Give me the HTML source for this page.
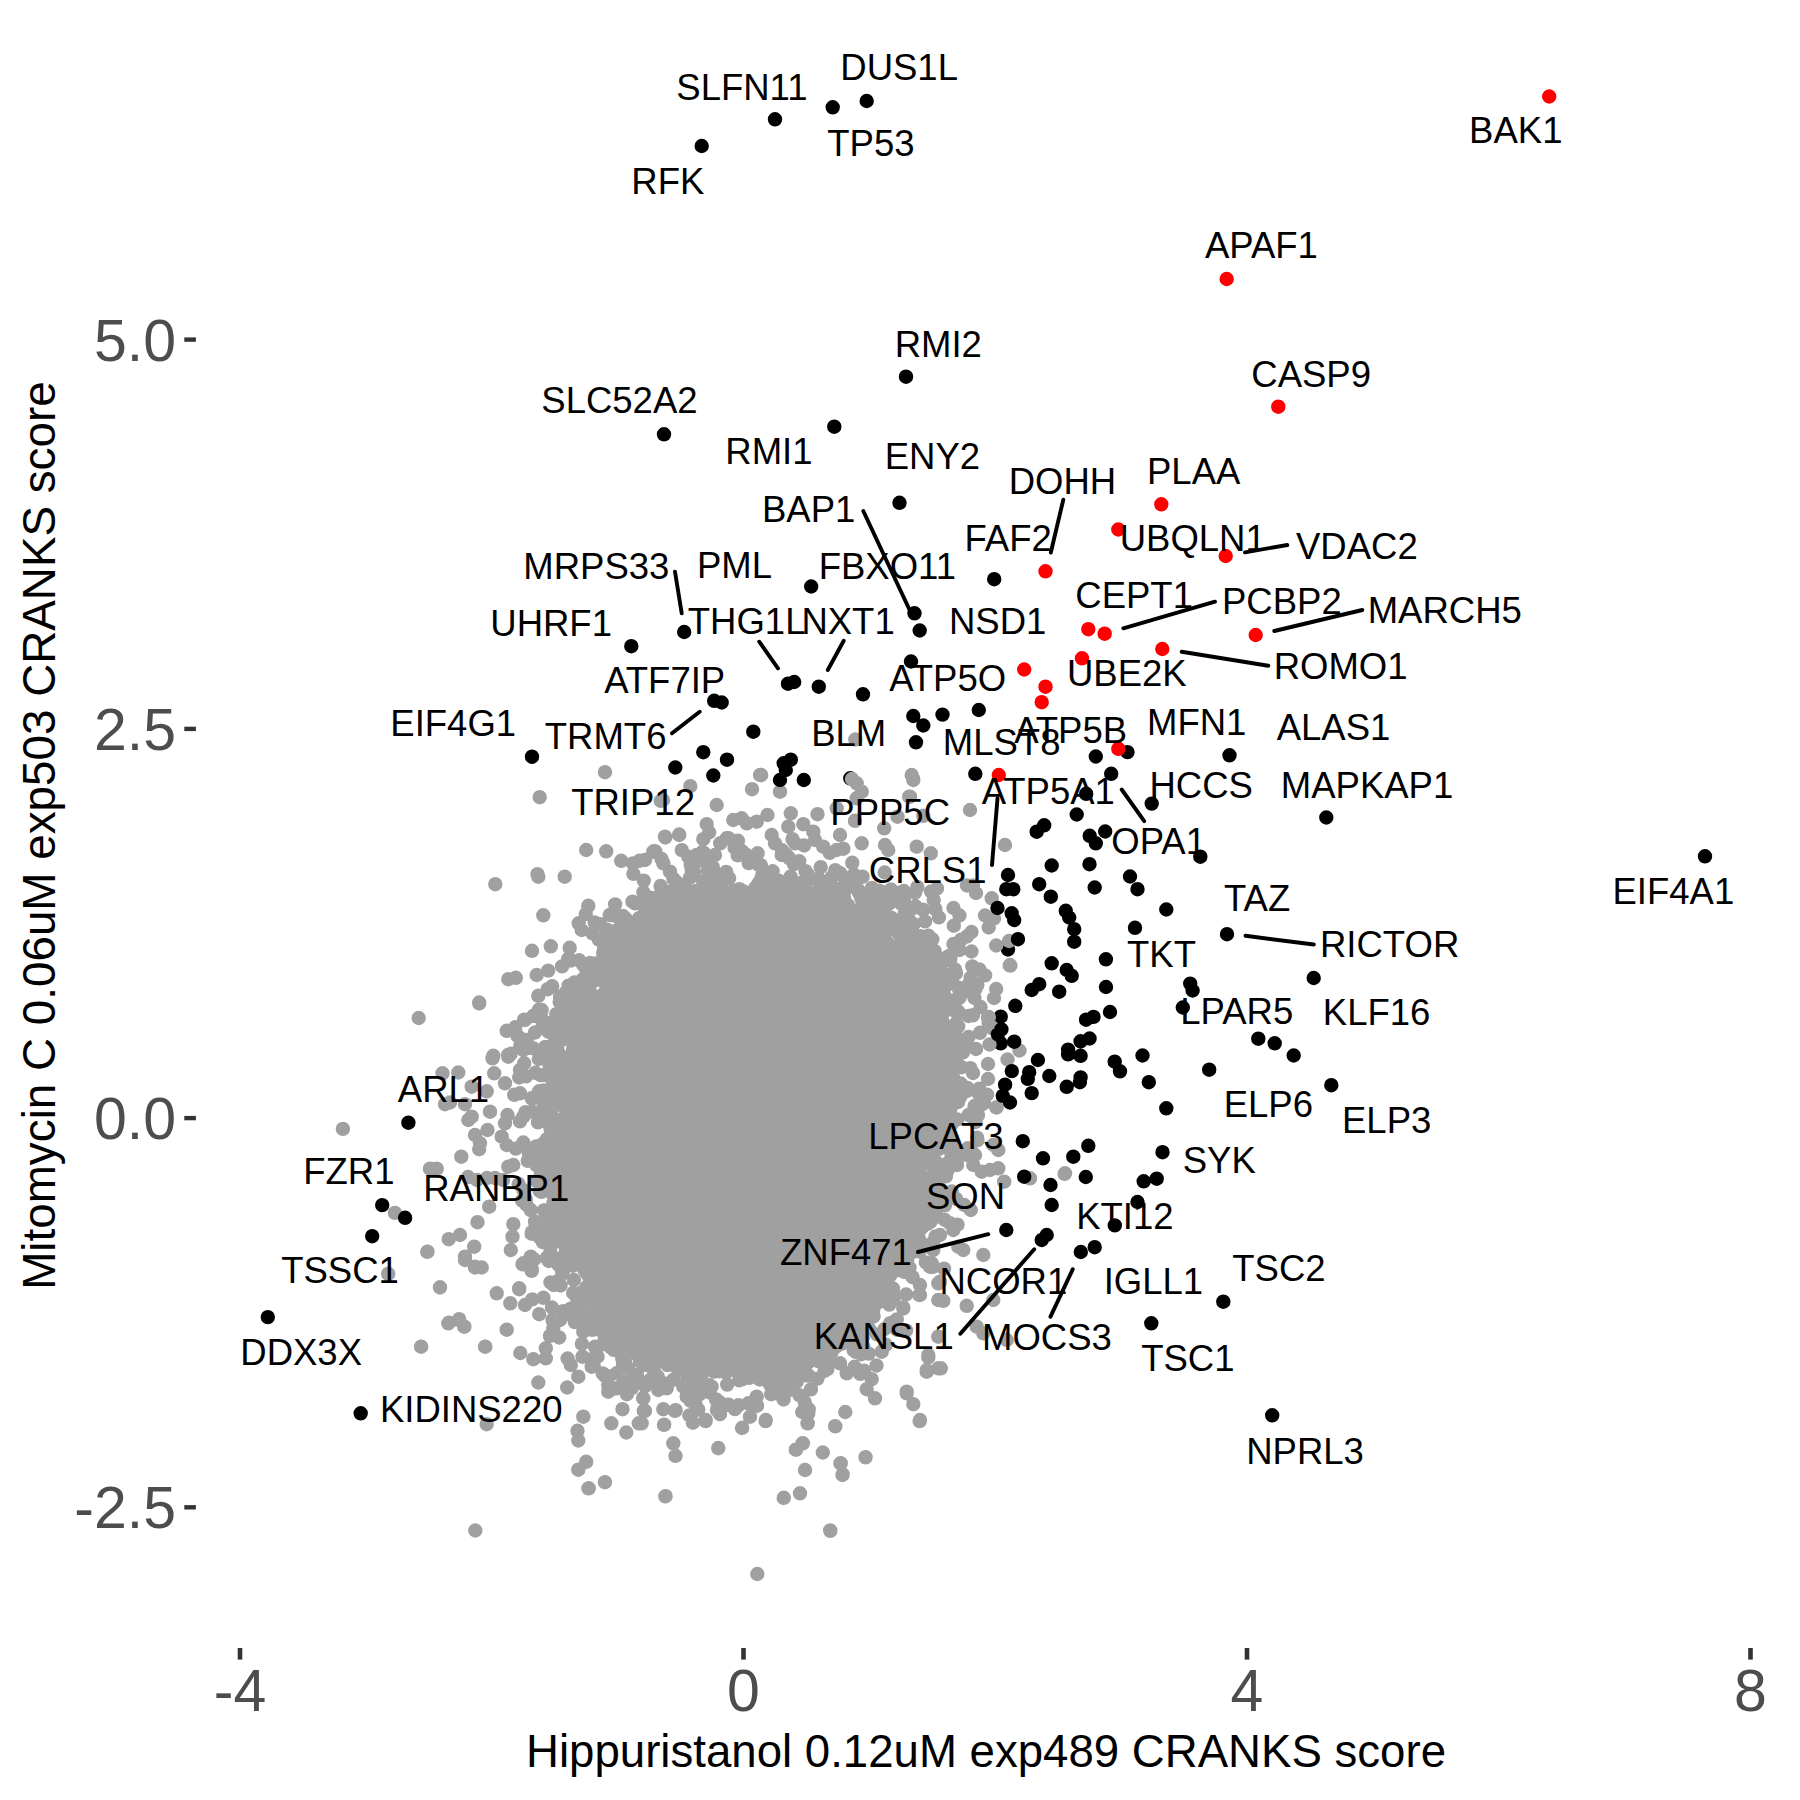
<!DOCTYPE html><html><head><meta charset="utf-8"><title>CRANKS scatter</title><style>html,body{margin:0;padding:0;background:#fff}svg{display:block}</style></head><body>
<svg width="1800" height="1800" viewBox="0 0 1800 1800" font-family="'Liberation Sans', Arial, Helvetica, sans-serif">
<rect width="1800" height="1800" fill="#fff"/>
<path fill="#000" d="M843.1 778.3a7.2 7.2 0 1 0 14.4 0a7.2 7.2 0 1 0 -14.4 0M1000.8 949.5a7.2 7.2 0 1 0 14.4 0a7.2 7.2 0 1 0 -14.4 0M993.5 1016.7a7.2 7.2 0 1 0 14.4 0a7.2 7.2 0 1 0 -14.4 0M993.5 1043.3a7.2 7.2 0 1 0 14.4 0a7.2 7.2 0 1 0 -14.4 0"/>
<path fill="#A0A0A0" d="M617 968 637 925 668 906 722 894 781 898 839 906 878 925 909 952 928 991 936 1042 934 1100 930 1158 912 1217 885 1275 839 1326 781 1357 703 1365 644 1349 606 1314 574 1267 563 1217 559 1158 559 1100 567 1042 586 1003Z"/>
<path fill="#A0A0A0" d="M883.8 889.5a7.2 7.2 0 1 0 14.4 0a7.2 7.2 0 1 0 -14.4 0M735.2 851.5a7.2 7.2 0 1 0 14.4 0a7.2 7.2 0 1 0 -14.4 0M910.1 1231.8a7.2 7.2 0 1 0 14.4 0a7.2 7.2 0 1 0 -14.4 0M546.2 1203.3a7.2 7.2 0 1 0 14.4 0a7.2 7.2 0 1 0 -14.4 0M564.6 1258.8a7.2 7.2 0 1 0 14.4 0a7.2 7.2 0 1 0 -14.4 0M543.7 1227.6a7.2 7.2 0 1 0 14.4 0a7.2 7.2 0 1 0 -14.4 0M882.9 1323.2a7.2 7.2 0 1 0 14.4 0a7.2 7.2 0 1 0 -14.4 0M825 888.2a7.2 7.2 0 1 0 14.4 0a7.2 7.2 0 1 0 -14.4 0M728.9 893.2a7.2 7.2 0 1 0 14.4 0a7.2 7.2 0 1 0 -14.4 0M935.9 1013a7.2 7.2 0 1 0 14.4 0a7.2 7.2 0 1 0 -14.4 0M527.7 1159.8a7.2 7.2 0 1 0 14.4 0a7.2 7.2 0 1 0 -14.4 0M637.7 1362.2a7.2 7.2 0 1 0 14.4 0a7.2 7.2 0 1 0 -14.4 0M653.6 908.7a7.2 7.2 0 1 0 14.4 0a7.2 7.2 0 1 0 -14.4 0M907 956.1a7.2 7.2 0 1 0 14.4 0a7.2 7.2 0 1 0 -14.4 0M926.1 1155.6a7.2 7.2 0 1 0 14.4 0a7.2 7.2 0 1 0 -14.4 0M846.4 1315.7a7.2 7.2 0 1 0 14.4 0a7.2 7.2 0 1 0 -14.4 0M843 1332.7a7.2 7.2 0 1 0 14.4 0a7.2 7.2 0 1 0 -14.4 0M736.5 893.1a7.2 7.2 0 1 0 14.4 0a7.2 7.2 0 1 0 -14.4 0M841.7 1315.6a7.2 7.2 0 1 0 14.4 0a7.2 7.2 0 1 0 -14.4 0M868.8 924a7.2 7.2 0 1 0 14.4 0a7.2 7.2 0 1 0 -14.4 0M627.8 903.4a7.2 7.2 0 1 0 14.4 0a7.2 7.2 0 1 0 -14.4 0M929.2 1084.7a7.2 7.2 0 1 0 14.4 0a7.2 7.2 0 1 0 -14.4 0M555.5 1067.6a7.2 7.2 0 1 0 14.4 0a7.2 7.2 0 1 0 -14.4 0M647.5 910.8a7.2 7.2 0 1 0 14.4 0a7.2 7.2 0 1 0 -14.4 0M771.5 1369.9a7.2 7.2 0 1 0 14.4 0a7.2 7.2 0 1 0 -14.4 0M753.4 880.4a7.2 7.2 0 1 0 14.4 0a7.2 7.2 0 1 0 -14.4 0M914.6 1214.2a7.2 7.2 0 1 0 14.4 0a7.2 7.2 0 1 0 -14.4 0M621.1 1341a7.2 7.2 0 1 0 14.4 0a7.2 7.2 0 1 0 -14.4 0M972.2 969.5a7.2 7.2 0 1 0 14.4 0a7.2 7.2 0 1 0 -14.4 0M543.1 1160.7a7.2 7.2 0 1 0 14.4 0a7.2 7.2 0 1 0 -14.4 0M825.6 904.1a7.2 7.2 0 1 0 14.4 0a7.2 7.2 0 1 0 -14.4 0M744.2 1368.9a7.2 7.2 0 1 0 14.4 0a7.2 7.2 0 1 0 -14.4 0M736.6 1362.9a7.2 7.2 0 1 0 14.4 0a7.2 7.2 0 1 0 -14.4 0M910.5 969.1a7.2 7.2 0 1 0 14.4 0a7.2 7.2 0 1 0 -14.4 0M934.9 1020.4a7.2 7.2 0 1 0 14.4 0a7.2 7.2 0 1 0 -14.4 0M561.4 985.6a7.2 7.2 0 1 0 14.4 0a7.2 7.2 0 1 0 -14.4 0M931.3 1083.6a7.2 7.2 0 1 0 14.4 0a7.2 7.2 0 1 0 -14.4 0M797.6 884a7.2 7.2 0 1 0 14.4 0a7.2 7.2 0 1 0 -14.4 0M625.7 863.4a7.2 7.2 0 1 0 14.4 0a7.2 7.2 0 1 0 -14.4 0M793.1 1348.4a7.2 7.2 0 1 0 14.4 0a7.2 7.2 0 1 0 -14.4 0M658.5 1359.2a7.2 7.2 0 1 0 14.4 0a7.2 7.2 0 1 0 -14.4 0M518.3 1112.2a7.2 7.2 0 1 0 14.4 0a7.2 7.2 0 1 0 -14.4 0M647.7 1353.9a7.2 7.2 0 1 0 14.4 0a7.2 7.2 0 1 0 -14.4 0M977.9 975.4a7.2 7.2 0 1 0 14.4 0a7.2 7.2 0 1 0 -14.4 0M591.6 1316.8a7.2 7.2 0 1 0 14.4 0a7.2 7.2 0 1 0 -14.4 0M617.4 950.1a7.2 7.2 0 1 0 14.4 0a7.2 7.2 0 1 0 -14.4 0M916.2 1208.4a7.2 7.2 0 1 0 14.4 0a7.2 7.2 0 1 0 -14.4 0M843.6 1318.2a7.2 7.2 0 1 0 14.4 0a7.2 7.2 0 1 0 -14.4 0M538.5 1234.8a7.2 7.2 0 1 0 14.4 0a7.2 7.2 0 1 0 -14.4 0M910.3 1215.8a7.2 7.2 0 1 0 14.4 0a7.2 7.2 0 1 0 -14.4 0M629.9 1345.2a7.2 7.2 0 1 0 14.4 0a7.2 7.2 0 1 0 -14.4 0M915.2 1193.8a7.2 7.2 0 1 0 14.4 0a7.2 7.2 0 1 0 -14.4 0M957.1 992a7.2 7.2 0 1 0 14.4 0a7.2 7.2 0 1 0 -14.4 0M601 1385.1a7.2 7.2 0 1 0 14.4 0a7.2 7.2 0 1 0 -14.4 0M727.4 847.7a7.2 7.2 0 1 0 14.4 0a7.2 7.2 0 1 0 -14.4 0M924.4 957.3a7.2 7.2 0 1 0 14.4 0a7.2 7.2 0 1 0 -14.4 0M861.5 1353.6a7.2 7.2 0 1 0 14.4 0a7.2 7.2 0 1 0 -14.4 0M926.4 1137.3a7.2 7.2 0 1 0 14.4 0a7.2 7.2 0 1 0 -14.4 0M542.7 1138.5a7.2 7.2 0 1 0 14.4 0a7.2 7.2 0 1 0 -14.4 0M855.5 1337.8a7.2 7.2 0 1 0 14.4 0a7.2 7.2 0 1 0 -14.4 0M596.8 952.3a7.2 7.2 0 1 0 14.4 0a7.2 7.2 0 1 0 -14.4 0M944.5 1191.5a7.2 7.2 0 1 0 14.4 0a7.2 7.2 0 1 0 -14.4 0M911.7 1238.5a7.2 7.2 0 1 0 14.4 0a7.2 7.2 0 1 0 -14.4 0M614.5 1335.1a7.2 7.2 0 1 0 14.4 0a7.2 7.2 0 1 0 -14.4 0M675.1 1360.2a7.2 7.2 0 1 0 14.4 0a7.2 7.2 0 1 0 -14.4 0M745.6 1366.5a7.2 7.2 0 1 0 14.4 0a7.2 7.2 0 1 0 -14.4 0M924.9 1177.3a7.2 7.2 0 1 0 14.4 0a7.2 7.2 0 1 0 -14.4 0M707.1 877.8a7.2 7.2 0 1 0 14.4 0a7.2 7.2 0 1 0 -14.4 0M871 912.9a7.2 7.2 0 1 0 14.4 0a7.2 7.2 0 1 0 -14.4 0M828.8 1346.6a7.2 7.2 0 1 0 14.4 0a7.2 7.2 0 1 0 -14.4 0M730.5 855.4a7.2 7.2 0 1 0 14.4 0a7.2 7.2 0 1 0 -14.4 0M819 1341.8a7.2 7.2 0 1 0 14.4 0a7.2 7.2 0 1 0 -14.4 0M551 1058.6a7.2 7.2 0 1 0 14.4 0a7.2 7.2 0 1 0 -14.4 0M581.5 1292.5a7.2 7.2 0 1 0 14.4 0a7.2 7.2 0 1 0 -14.4 0M606 1336.2a7.2 7.2 0 1 0 14.4 0a7.2 7.2 0 1 0 -14.4 0M611.6 952.3a7.2 7.2 0 1 0 14.4 0a7.2 7.2 0 1 0 -14.4 0M909.2 965.3a7.2 7.2 0 1 0 14.4 0a7.2 7.2 0 1 0 -14.4 0M538.1 1075a7.2 7.2 0 1 0 14.4 0a7.2 7.2 0 1 0 -14.4 0M734.7 1379.3a7.2 7.2 0 1 0 14.4 0a7.2 7.2 0 1 0 -14.4 0M791.3 891.2a7.2 7.2 0 1 0 14.4 0a7.2 7.2 0 1 0 -14.4 0M675.3 890.8a7.2 7.2 0 1 0 14.4 0a7.2 7.2 0 1 0 -14.4 0M944.3 1154.3a7.2 7.2 0 1 0 14.4 0a7.2 7.2 0 1 0 -14.4 0M881.8 929.7a7.2 7.2 0 1 0 14.4 0a7.2 7.2 0 1 0 -14.4 0M615.1 1339.9a7.2 7.2 0 1 0 14.4 0a7.2 7.2 0 1 0 -14.4 0M893.9 943.5a7.2 7.2 0 1 0 14.4 0a7.2 7.2 0 1 0 -14.4 0M748.3 892.1a7.2 7.2 0 1 0 14.4 0a7.2 7.2 0 1 0 -14.4 0M787.4 1362.3a7.2 7.2 0 1 0 14.4 0a7.2 7.2 0 1 0 -14.4 0M881.9 921.2a7.2 7.2 0 1 0 14.4 0a7.2 7.2 0 1 0 -14.4 0M571.9 987.4a7.2 7.2 0 1 0 14.4 0a7.2 7.2 0 1 0 -14.4 0M943.2 958.7a7.2 7.2 0 1 0 14.4 0a7.2 7.2 0 1 0 -14.4 0M713.4 883.3a7.2 7.2 0 1 0 14.4 0a7.2 7.2 0 1 0 -14.4 0M587.3 977.8a7.2 7.2 0 1 0 14.4 0a7.2 7.2 0 1 0 -14.4 0M614.4 1348a7.2 7.2 0 1 0 14.4 0a7.2 7.2 0 1 0 -14.4 0M533.9 1152.6a7.2 7.2 0 1 0 14.4 0a7.2 7.2 0 1 0 -14.4 0M926.1 1147.3a7.2 7.2 0 1 0 14.4 0a7.2 7.2 0 1 0 -14.4 0M940 957.1a7.2 7.2 0 1 0 14.4 0a7.2 7.2 0 1 0 -14.4 0M889.8 1329.7a7.2 7.2 0 1 0 14.4 0a7.2 7.2 0 1 0 -14.4 0M800.3 896.8a7.2 7.2 0 1 0 14.4 0a7.2 7.2 0 1 0 -14.4 0M771.4 1385.4a7.2 7.2 0 1 0 14.4 0a7.2 7.2 0 1 0 -14.4 0M905.4 1277.2a7.2 7.2 0 1 0 14.4 0a7.2 7.2 0 1 0 -14.4 0M624.3 923.2a7.2 7.2 0 1 0 14.4 0a7.2 7.2 0 1 0 -14.4 0M849.3 1331.2a7.2 7.2 0 1 0 14.4 0a7.2 7.2 0 1 0 -14.4 0M544.2 1067.6a7.2 7.2 0 1 0 14.4 0a7.2 7.2 0 1 0 -14.4 0M648.7 1356.1a7.2 7.2 0 1 0 14.4 0a7.2 7.2 0 1 0 -14.4 0M896.6 891a7.2 7.2 0 1 0 14.4 0a7.2 7.2 0 1 0 -14.4 0M555 1229.4a7.2 7.2 0 1 0 14.4 0a7.2 7.2 0 1 0 -14.4 0M801.9 900.2a7.2 7.2 0 1 0 14.4 0a7.2 7.2 0 1 0 -14.4 0M900.9 1227.8a7.2 7.2 0 1 0 14.4 0a7.2 7.2 0 1 0 -14.4 0M788 843.4a7.2 7.2 0 1 0 14.4 0a7.2 7.2 0 1 0 -14.4 0M800.5 874.2a7.2 7.2 0 1 0 14.4 0a7.2 7.2 0 1 0 -14.4 0M642.8 912.8a7.2 7.2 0 1 0 14.4 0a7.2 7.2 0 1 0 -14.4 0M750.4 853.3a7.2 7.2 0 1 0 14.4 0a7.2 7.2 0 1 0 -14.4 0M512.7 1070a7.2 7.2 0 1 0 14.4 0a7.2 7.2 0 1 0 -14.4 0M681.5 891.2a7.2 7.2 0 1 0 14.4 0a7.2 7.2 0 1 0 -14.4 0M915.3 1226.8a7.2 7.2 0 1 0 14.4 0a7.2 7.2 0 1 0 -14.4 0M595.3 1344.3a7.2 7.2 0 1 0 14.4 0a7.2 7.2 0 1 0 -14.4 0M794 900.6a7.2 7.2 0 1 0 14.4 0a7.2 7.2 0 1 0 -14.4 0M913.4 936.3a7.2 7.2 0 1 0 14.4 0a7.2 7.2 0 1 0 -14.4 0M531 1146.2a7.2 7.2 0 1 0 14.4 0a7.2 7.2 0 1 0 -14.4 0M970.3 1140.1a7.2 7.2 0 1 0 14.4 0a7.2 7.2 0 1 0 -14.4 0M591.1 1329.4a7.2 7.2 0 1 0 14.4 0a7.2 7.2 0 1 0 -14.4 0M941.1 959.9a7.2 7.2 0 1 0 14.4 0a7.2 7.2 0 1 0 -14.4 0M536 1146.2a7.2 7.2 0 1 0 14.4 0a7.2 7.2 0 1 0 -14.4 0M721.6 1404.8a7.2 7.2 0 1 0 14.4 0a7.2 7.2 0 1 0 -14.4 0M930.7 1128.6a7.2 7.2 0 1 0 14.4 0a7.2 7.2 0 1 0 -14.4 0M928.2 909.2a7.2 7.2 0 1 0 14.4 0a7.2 7.2 0 1 0 -14.4 0M582.9 963a7.2 7.2 0 1 0 14.4 0a7.2 7.2 0 1 0 -14.4 0M940.3 1029.3a7.2 7.2 0 1 0 14.4 0a7.2 7.2 0 1 0 -14.4 0M668.9 1361.7a7.2 7.2 0 1 0 14.4 0a7.2 7.2 0 1 0 -14.4 0M664.1 904.6a7.2 7.2 0 1 0 14.4 0a7.2 7.2 0 1 0 -14.4 0M940.5 1168.5a7.2 7.2 0 1 0 14.4 0a7.2 7.2 0 1 0 -14.4 0M608.5 963.8a7.2 7.2 0 1 0 14.4 0a7.2 7.2 0 1 0 -14.4 0M958 1042.1a7.2 7.2 0 1 0 14.4 0a7.2 7.2 0 1 0 -14.4 0M551.4 1241.3a7.2 7.2 0 1 0 14.4 0a7.2 7.2 0 1 0 -14.4 0M741.7 1364.8a7.2 7.2 0 1 0 14.4 0a7.2 7.2 0 1 0 -14.4 0M951.3 1011.9a7.2 7.2 0 1 0 14.4 0a7.2 7.2 0 1 0 -14.4 0M633.2 1347a7.2 7.2 0 1 0 14.4 0a7.2 7.2 0 1 0 -14.4 0M944.7 980.7a7.2 7.2 0 1 0 14.4 0a7.2 7.2 0 1 0 -14.4 0M843.7 1321.1a7.2 7.2 0 1 0 14.4 0a7.2 7.2 0 1 0 -14.4 0M632.9 922.5a7.2 7.2 0 1 0 14.4 0a7.2 7.2 0 1 0 -14.4 0M896.6 899.6a7.2 7.2 0 1 0 14.4 0a7.2 7.2 0 1 0 -14.4 0M891.1 932.9a7.2 7.2 0 1 0 14.4 0a7.2 7.2 0 1 0 -14.4 0M805.6 893.4a7.2 7.2 0 1 0 14.4 0a7.2 7.2 0 1 0 -14.4 0M741.4 894a7.2 7.2 0 1 0 14.4 0a7.2 7.2 0 1 0 -14.4 0M688.3 1404.6a7.2 7.2 0 1 0 14.4 0a7.2 7.2 0 1 0 -14.4 0M611.8 950.6a7.2 7.2 0 1 0 14.4 0a7.2 7.2 0 1 0 -14.4 0M684.1 1399.8a7.2 7.2 0 1 0 14.4 0a7.2 7.2 0 1 0 -14.4 0M909.6 964.1a7.2 7.2 0 1 0 14.4 0a7.2 7.2 0 1 0 -14.4 0M643.5 915.9a7.2 7.2 0 1 0 14.4 0a7.2 7.2 0 1 0 -14.4 0M862.5 905.2a7.2 7.2 0 1 0 14.4 0a7.2 7.2 0 1 0 -14.4 0M939 1008.3a7.2 7.2 0 1 0 14.4 0a7.2 7.2 0 1 0 -14.4 0M577.2 1000.4a7.2 7.2 0 1 0 14.4 0a7.2 7.2 0 1 0 -14.4 0M853.7 1329.5a7.2 7.2 0 1 0 14.4 0a7.2 7.2 0 1 0 -14.4 0M926.6 1121.3a7.2 7.2 0 1 0 14.4 0a7.2 7.2 0 1 0 -14.4 0M814 1340.8a7.2 7.2 0 1 0 14.4 0a7.2 7.2 0 1 0 -14.4 0M752 1374.2a7.2 7.2 0 1 0 14.4 0a7.2 7.2 0 1 0 -14.4 0M592.7 939.3a7.2 7.2 0 1 0 14.4 0a7.2 7.2 0 1 0 -14.4 0M938.5 1142.4a7.2 7.2 0 1 0 14.4 0a7.2 7.2 0 1 0 -14.4 0M654.4 859a7.2 7.2 0 1 0 14.4 0a7.2 7.2 0 1 0 -14.4 0M863.8 1298.5a7.2 7.2 0 1 0 14.4 0a7.2 7.2 0 1 0 -14.4 0M922.3 979.8a7.2 7.2 0 1 0 14.4 0a7.2 7.2 0 1 0 -14.4 0M683.8 898.2a7.2 7.2 0 1 0 14.4 0a7.2 7.2 0 1 0 -14.4 0M651.8 897.5a7.2 7.2 0 1 0 14.4 0a7.2 7.2 0 1 0 -14.4 0M869.1 1299a7.2 7.2 0 1 0 14.4 0a7.2 7.2 0 1 0 -14.4 0M931.4 1094.8a7.2 7.2 0 1 0 14.4 0a7.2 7.2 0 1 0 -14.4 0M948.9 1198.9a7.2 7.2 0 1 0 14.4 0a7.2 7.2 0 1 0 -14.4 0M804.1 1349.1a7.2 7.2 0 1 0 14.4 0a7.2 7.2 0 1 0 -14.4 0M563.4 1020.9a7.2 7.2 0 1 0 14.4 0a7.2 7.2 0 1 0 -14.4 0M872.1 890.8a7.2 7.2 0 1 0 14.4 0a7.2 7.2 0 1 0 -14.4 0M953.9 939.6a7.2 7.2 0 1 0 14.4 0a7.2 7.2 0 1 0 -14.4 0M895.6 1249.6a7.2 7.2 0 1 0 14.4 0a7.2 7.2 0 1 0 -14.4 0M915.9 1190.6a7.2 7.2 0 1 0 14.4 0a7.2 7.2 0 1 0 -14.4 0M809.9 896.2a7.2 7.2 0 1 0 14.4 0a7.2 7.2 0 1 0 -14.4 0M562.9 1033a7.2 7.2 0 1 0 14.4 0a7.2 7.2 0 1 0 -14.4 0M925.6 1153.3a7.2 7.2 0 1 0 14.4 0a7.2 7.2 0 1 0 -14.4 0M946.6 925.7a7.2 7.2 0 1 0 14.4 0a7.2 7.2 0 1 0 -14.4 0M635.6 1364.3a7.2 7.2 0 1 0 14.4 0a7.2 7.2 0 1 0 -14.4 0M596.9 948.9a7.2 7.2 0 1 0 14.4 0a7.2 7.2 0 1 0 -14.4 0M693.5 895.3a7.2 7.2 0 1 0 14.4 0a7.2 7.2 0 1 0 -14.4 0M909.5 965.6a7.2 7.2 0 1 0 14.4 0a7.2 7.2 0 1 0 -14.4 0M561.4 1247.7a7.2 7.2 0 1 0 14.4 0a7.2 7.2 0 1 0 -14.4 0M585.1 1329.8a7.2 7.2 0 1 0 14.4 0a7.2 7.2 0 1 0 -14.4 0M751.9 889.5a7.2 7.2 0 1 0 14.4 0a7.2 7.2 0 1 0 -14.4 0M931.7 1054.2a7.2 7.2 0 1 0 14.4 0a7.2 7.2 0 1 0 -14.4 0M941.3 1167.9a7.2 7.2 0 1 0 14.4 0a7.2 7.2 0 1 0 -14.4 0M609.9 955.5a7.2 7.2 0 1 0 14.4 0a7.2 7.2 0 1 0 -14.4 0M615.7 1364.8a7.2 7.2 0 1 0 14.4 0a7.2 7.2 0 1 0 -14.4 0M760.1 1378.6a7.2 7.2 0 1 0 14.4 0a7.2 7.2 0 1 0 -14.4 0M668.7 881.5a7.2 7.2 0 1 0 14.4 0a7.2 7.2 0 1 0 -14.4 0M944.4 1124a7.2 7.2 0 1 0 14.4 0a7.2 7.2 0 1 0 -14.4 0M947.6 1059.4a7.2 7.2 0 1 0 14.4 0a7.2 7.2 0 1 0 -14.4 0M539.4 1100.4a7.2 7.2 0 1 0 14.4 0a7.2 7.2 0 1 0 -14.4 0M858.7 1299a7.2 7.2 0 1 0 14.4 0a7.2 7.2 0 1 0 -14.4 0M528.2 1072.8a7.2 7.2 0 1 0 14.4 0a7.2 7.2 0 1 0 -14.4 0M878.7 1278.6a7.2 7.2 0 1 0 14.4 0a7.2 7.2 0 1 0 -14.4 0M638.4 1354.8a7.2 7.2 0 1 0 14.4 0a7.2 7.2 0 1 0 -14.4 0M683.5 1401a7.2 7.2 0 1 0 14.4 0a7.2 7.2 0 1 0 -14.4 0M925.1 1205.9a7.2 7.2 0 1 0 14.4 0a7.2 7.2 0 1 0 -14.4 0M876.5 929.4a7.2 7.2 0 1 0 14.4 0a7.2 7.2 0 1 0 -14.4 0M516.3 1190.1a7.2 7.2 0 1 0 14.4 0a7.2 7.2 0 1 0 -14.4 0M945.2 1095.4a7.2 7.2 0 1 0 14.4 0a7.2 7.2 0 1 0 -14.4 0M792.4 1351.9a7.2 7.2 0 1 0 14.4 0a7.2 7.2 0 1 0 -14.4 0M553 1222.1a7.2 7.2 0 1 0 14.4 0a7.2 7.2 0 1 0 -14.4 0M781.2 1373.3a7.2 7.2 0 1 0 14.4 0a7.2 7.2 0 1 0 -14.4 0M929.7 1192.7a7.2 7.2 0 1 0 14.4 0a7.2 7.2 0 1 0 -14.4 0M538.3 1095.4a7.2 7.2 0 1 0 14.4 0a7.2 7.2 0 1 0 -14.4 0M514.9 1200.6a7.2 7.2 0 1 0 14.4 0a7.2 7.2 0 1 0 -14.4 0M660.4 894.5a7.2 7.2 0 1 0 14.4 0a7.2 7.2 0 1 0 -14.4 0M930.6 1012.9a7.2 7.2 0 1 0 14.4 0a7.2 7.2 0 1 0 -14.4 0M675.9 901.7a7.2 7.2 0 1 0 14.4 0a7.2 7.2 0 1 0 -14.4 0M890 1254.5a7.2 7.2 0 1 0 14.4 0a7.2 7.2 0 1 0 -14.4 0M630.6 1355.1a7.2 7.2 0 1 0 14.4 0a7.2 7.2 0 1 0 -14.4 0M536.7 1090.5a7.2 7.2 0 1 0 14.4 0a7.2 7.2 0 1 0 -14.4 0M701.5 1369.5a7.2 7.2 0 1 0 14.4 0a7.2 7.2 0 1 0 -14.4 0M811.4 900.6a7.2 7.2 0 1 0 14.4 0a7.2 7.2 0 1 0 -14.4 0M853.7 1311.4a7.2 7.2 0 1 0 14.4 0a7.2 7.2 0 1 0 -14.4 0M855.4 876.7a7.2 7.2 0 1 0 14.4 0a7.2 7.2 0 1 0 -14.4 0M550.8 1174.5a7.2 7.2 0 1 0 14.4 0a7.2 7.2 0 1 0 -14.4 0M716.4 875.1a7.2 7.2 0 1 0 14.4 0a7.2 7.2 0 1 0 -14.4 0M538.9 1122a7.2 7.2 0 1 0 14.4 0a7.2 7.2 0 1 0 -14.4 0M694 1385.2a7.2 7.2 0 1 0 14.4 0a7.2 7.2 0 1 0 -14.4 0M572 960.3a7.2 7.2 0 1 0 14.4 0a7.2 7.2 0 1 0 -14.4 0M546.3 1139.3a7.2 7.2 0 1 0 14.4 0a7.2 7.2 0 1 0 -14.4 0M910.5 967.5a7.2 7.2 0 1 0 14.4 0a7.2 7.2 0 1 0 -14.4 0M597.5 978.3a7.2 7.2 0 1 0 14.4 0a7.2 7.2 0 1 0 -14.4 0M866 1292.2a7.2 7.2 0 1 0 14.4 0a7.2 7.2 0 1 0 -14.4 0M528.9 1146.4a7.2 7.2 0 1 0 14.4 0a7.2 7.2 0 1 0 -14.4 0M521.7 1153.4a7.2 7.2 0 1 0 14.4 0a7.2 7.2 0 1 0 -14.4 0M665.2 904.7a7.2 7.2 0 1 0 14.4 0a7.2 7.2 0 1 0 -14.4 0M857.4 1324.6a7.2 7.2 0 1 0 14.4 0a7.2 7.2 0 1 0 -14.4 0M579.4 1287a7.2 7.2 0 1 0 14.4 0a7.2 7.2 0 1 0 -14.4 0M622.7 929.2a7.2 7.2 0 1 0 14.4 0a7.2 7.2 0 1 0 -14.4 0M915.7 943.5a7.2 7.2 0 1 0 14.4 0a7.2 7.2 0 1 0 -14.4 0M631.9 918.1a7.2 7.2 0 1 0 14.4 0a7.2 7.2 0 1 0 -14.4 0M950.3 1224.7a7.2 7.2 0 1 0 14.4 0a7.2 7.2 0 1 0 -14.4 0M940.6 1046.1a7.2 7.2 0 1 0 14.4 0a7.2 7.2 0 1 0 -14.4 0M741.5 863.1a7.2 7.2 0 1 0 14.4 0a7.2 7.2 0 1 0 -14.4 0M521.7 1148.7a7.2 7.2 0 1 0 14.4 0a7.2 7.2 0 1 0 -14.4 0M947.8 1088.5a7.2 7.2 0 1 0 14.4 0a7.2 7.2 0 1 0 -14.4 0M809.2 894.9a7.2 7.2 0 1 0 14.4 0a7.2 7.2 0 1 0 -14.4 0M615.8 916a7.2 7.2 0 1 0 14.4 0a7.2 7.2 0 1 0 -14.4 0M838.3 889.6a7.2 7.2 0 1 0 14.4 0a7.2 7.2 0 1 0 -14.4 0M942.8 1165.6a7.2 7.2 0 1 0 14.4 0a7.2 7.2 0 1 0 -14.4 0M589.7 963.1a7.2 7.2 0 1 0 14.4 0a7.2 7.2 0 1 0 -14.4 0M903.2 952.2a7.2 7.2 0 1 0 14.4 0a7.2 7.2 0 1 0 -14.4 0M937.7 1033.3a7.2 7.2 0 1 0 14.4 0a7.2 7.2 0 1 0 -14.4 0M622.8 929.1a7.2 7.2 0 1 0 14.4 0a7.2 7.2 0 1 0 -14.4 0M666.8 896.4a7.2 7.2 0 1 0 14.4 0a7.2 7.2 0 1 0 -14.4 0M594.3 1308.5a7.2 7.2 0 1 0 14.4 0a7.2 7.2 0 1 0 -14.4 0M599 937.5a7.2 7.2 0 1 0 14.4 0a7.2 7.2 0 1 0 -14.4 0M898 1252.2a7.2 7.2 0 1 0 14.4 0a7.2 7.2 0 1 0 -14.4 0M554.2 1067.2a7.2 7.2 0 1 0 14.4 0a7.2 7.2 0 1 0 -14.4 0M698.6 895.2a7.2 7.2 0 1 0 14.4 0a7.2 7.2 0 1 0 -14.4 0M768.2 1369.1a7.2 7.2 0 1 0 14.4 0a7.2 7.2 0 1 0 -14.4 0M780 1377.4a7.2 7.2 0 1 0 14.4 0a7.2 7.2 0 1 0 -14.4 0M949.7 1056.9a7.2 7.2 0 1 0 14.4 0a7.2 7.2 0 1 0 -14.4 0M938.1 1093.4a7.2 7.2 0 1 0 14.4 0a7.2 7.2 0 1 0 -14.4 0M889.6 1319.4a7.2 7.2 0 1 0 14.4 0a7.2 7.2 0 1 0 -14.4 0M607.1 933a7.2 7.2 0 1 0 14.4 0a7.2 7.2 0 1 0 -14.4 0M549.1 1014.2a7.2 7.2 0 1 0 14.4 0a7.2 7.2 0 1 0 -14.4 0M916.4 941.7a7.2 7.2 0 1 0 14.4 0a7.2 7.2 0 1 0 -14.4 0M923.8 1188.2a7.2 7.2 0 1 0 14.4 0a7.2 7.2 0 1 0 -14.4 0M527.1 1161.4a7.2 7.2 0 1 0 14.4 0a7.2 7.2 0 1 0 -14.4 0M960.2 1087.9a7.2 7.2 0 1 0 14.4 0a7.2 7.2 0 1 0 -14.4 0M861.4 909.8a7.2 7.2 0 1 0 14.4 0a7.2 7.2 0 1 0 -14.4 0M931.2 1048a7.2 7.2 0 1 0 14.4 0a7.2 7.2 0 1 0 -14.4 0M555.3 1273.7a7.2 7.2 0 1 0 14.4 0a7.2 7.2 0 1 0 -14.4 0M726.6 890.7a7.2 7.2 0 1 0 14.4 0a7.2 7.2 0 1 0 -14.4 0M657.7 1358.9a7.2 7.2 0 1 0 14.4 0a7.2 7.2 0 1 0 -14.4 0M710.2 1408.1a7.2 7.2 0 1 0 14.4 0a7.2 7.2 0 1 0 -14.4 0M541.5 1031.9a7.2 7.2 0 1 0 14.4 0a7.2 7.2 0 1 0 -14.4 0M776.3 894.4a7.2 7.2 0 1 0 14.4 0a7.2 7.2 0 1 0 -14.4 0M667.9 902.7a7.2 7.2 0 1 0 14.4 0a7.2 7.2 0 1 0 -14.4 0M549.1 1146.5a7.2 7.2 0 1 0 14.4 0a7.2 7.2 0 1 0 -14.4 0M624.3 928.3a7.2 7.2 0 1 0 14.4 0a7.2 7.2 0 1 0 -14.4 0M930.4 1087.9a7.2 7.2 0 1 0 14.4 0a7.2 7.2 0 1 0 -14.4 0M529.1 1224.9a7.2 7.2 0 1 0 14.4 0a7.2 7.2 0 1 0 -14.4 0M884.1 917.7a7.2 7.2 0 1 0 14.4 0a7.2 7.2 0 1 0 -14.4 0M938.5 1121.6a7.2 7.2 0 1 0 14.4 0a7.2 7.2 0 1 0 -14.4 0M610.8 950.5a7.2 7.2 0 1 0 14.4 0a7.2 7.2 0 1 0 -14.4 0M919.4 1205a7.2 7.2 0 1 0 14.4 0a7.2 7.2 0 1 0 -14.4 0M950.9 1102a7.2 7.2 0 1 0 14.4 0a7.2 7.2 0 1 0 -14.4 0M533.6 1173.9a7.2 7.2 0 1 0 14.4 0a7.2 7.2 0 1 0 -14.4 0M669.4 1362.8a7.2 7.2 0 1 0 14.4 0a7.2 7.2 0 1 0 -14.4 0M638 1386.2a7.2 7.2 0 1 0 14.4 0a7.2 7.2 0 1 0 -14.4 0M796.6 1347.1a7.2 7.2 0 1 0 14.4 0a7.2 7.2 0 1 0 -14.4 0M524.7 1232a7.2 7.2 0 1 0 14.4 0a7.2 7.2 0 1 0 -14.4 0M876.5 1292.5a7.2 7.2 0 1 0 14.4 0a7.2 7.2 0 1 0 -14.4 0M537.3 1104.7a7.2 7.2 0 1 0 14.4 0a7.2 7.2 0 1 0 -14.4 0M674.7 899.7a7.2 7.2 0 1 0 14.4 0a7.2 7.2 0 1 0 -14.4 0M589.4 1314.6a7.2 7.2 0 1 0 14.4 0a7.2 7.2 0 1 0 -14.4 0M930.8 986a7.2 7.2 0 1 0 14.4 0a7.2 7.2 0 1 0 -14.4 0M948 1096.2a7.2 7.2 0 1 0 14.4 0a7.2 7.2 0 1 0 -14.4 0M692.2 1394.3a7.2 7.2 0 1 0 14.4 0a7.2 7.2 0 1 0 -14.4 0M834.7 1343.6a7.2 7.2 0 1 0 14.4 0a7.2 7.2 0 1 0 -14.4 0M618 1336.4a7.2 7.2 0 1 0 14.4 0a7.2 7.2 0 1 0 -14.4 0M550.7 1127.7a7.2 7.2 0 1 0 14.4 0a7.2 7.2 0 1 0 -14.4 0M921.2 989.5a7.2 7.2 0 1 0 14.4 0a7.2 7.2 0 1 0 -14.4 0M902.9 949a7.2 7.2 0 1 0 14.4 0a7.2 7.2 0 1 0 -14.4 0M929.4 1046.8a7.2 7.2 0 1 0 14.4 0a7.2 7.2 0 1 0 -14.4 0M939.1 998.3a7.2 7.2 0 1 0 14.4 0a7.2 7.2 0 1 0 -14.4 0M915.7 1207.2a7.2 7.2 0 1 0 14.4 0a7.2 7.2 0 1 0 -14.4 0M945.6 1225.4a7.2 7.2 0 1 0 14.4 0a7.2 7.2 0 1 0 -14.4 0M769.9 885.6a7.2 7.2 0 1 0 14.4 0a7.2 7.2 0 1 0 -14.4 0M670.9 883.5a7.2 7.2 0 1 0 14.4 0a7.2 7.2 0 1 0 -14.4 0M776 1383.6a7.2 7.2 0 1 0 14.4 0a7.2 7.2 0 1 0 -14.4 0M779.1 890.7a7.2 7.2 0 1 0 14.4 0a7.2 7.2 0 1 0 -14.4 0M592.4 1315a7.2 7.2 0 1 0 14.4 0a7.2 7.2 0 1 0 -14.4 0M597.4 1336.1a7.2 7.2 0 1 0 14.4 0a7.2 7.2 0 1 0 -14.4 0M943.6 1039.2a7.2 7.2 0 1 0 14.4 0a7.2 7.2 0 1 0 -14.4 0M931.9 1145.4a7.2 7.2 0 1 0 14.4 0a7.2 7.2 0 1 0 -14.4 0M907.9 892.6a7.2 7.2 0 1 0 14.4 0a7.2 7.2 0 1 0 -14.4 0M729 1371a7.2 7.2 0 1 0 14.4 0a7.2 7.2 0 1 0 -14.4 0M696 881.3a7.2 7.2 0 1 0 14.4 0a7.2 7.2 0 1 0 -14.4 0M912 938.5a7.2 7.2 0 1 0 14.4 0a7.2 7.2 0 1 0 -14.4 0M877 1277.4a7.2 7.2 0 1 0 14.4 0a7.2 7.2 0 1 0 -14.4 0M516.1 1142.5a7.2 7.2 0 1 0 14.4 0a7.2 7.2 0 1 0 -14.4 0M848.4 1309.7a7.2 7.2 0 1 0 14.4 0a7.2 7.2 0 1 0 -14.4 0M751.9 1366a7.2 7.2 0 1 0 14.4 0a7.2 7.2 0 1 0 -14.4 0M915 957.4a7.2 7.2 0 1 0 14.4 0a7.2 7.2 0 1 0 -14.4 0M906.3 924.2a7.2 7.2 0 1 0 14.4 0a7.2 7.2 0 1 0 -14.4 0M884.6 1294.4a7.2 7.2 0 1 0 14.4 0a7.2 7.2 0 1 0 -14.4 0M712.2 1371.2a7.2 7.2 0 1 0 14.4 0a7.2 7.2 0 1 0 -14.4 0M538.8 1215.1a7.2 7.2 0 1 0 14.4 0a7.2 7.2 0 1 0 -14.4 0M608.4 952.1a7.2 7.2 0 1 0 14.4 0a7.2 7.2 0 1 0 -14.4 0M572 992a7.2 7.2 0 1 0 14.4 0a7.2 7.2 0 1 0 -14.4 0M748.1 887.9a7.2 7.2 0 1 0 14.4 0a7.2 7.2 0 1 0 -14.4 0M926.9 1171.9a7.2 7.2 0 1 0 14.4 0a7.2 7.2 0 1 0 -14.4 0M639.7 1354.2a7.2 7.2 0 1 0 14.4 0a7.2 7.2 0 1 0 -14.4 0M626.2 873.8a7.2 7.2 0 1 0 14.4 0a7.2 7.2 0 1 0 -14.4 0M901.7 1225.8a7.2 7.2 0 1 0 14.4 0a7.2 7.2 0 1 0 -14.4 0M939.4 1037.5a7.2 7.2 0 1 0 14.4 0a7.2 7.2 0 1 0 -14.4 0M681 893.2a7.2 7.2 0 1 0 14.4 0a7.2 7.2 0 1 0 -14.4 0M572.5 1013.1a7.2 7.2 0 1 0 14.4 0a7.2 7.2 0 1 0 -14.4 0M540.9 1103a7.2 7.2 0 1 0 14.4 0a7.2 7.2 0 1 0 -14.4 0M878.3 1283a7.2 7.2 0 1 0 14.4 0a7.2 7.2 0 1 0 -14.4 0M941.8 1080.9a7.2 7.2 0 1 0 14.4 0a7.2 7.2 0 1 0 -14.4 0M541.1 1179.7a7.2 7.2 0 1 0 14.4 0a7.2 7.2 0 1 0 -14.4 0M652.2 1382.5a7.2 7.2 0 1 0 14.4 0a7.2 7.2 0 1 0 -14.4 0M881.1 1299.8a7.2 7.2 0 1 0 14.4 0a7.2 7.2 0 1 0 -14.4 0M588.3 1313.3a7.2 7.2 0 1 0 14.4 0a7.2 7.2 0 1 0 -14.4 0M924.5 1193.8a7.2 7.2 0 1 0 14.4 0a7.2 7.2 0 1 0 -14.4 0M546 1107a7.2 7.2 0 1 0 14.4 0a7.2 7.2 0 1 0 -14.4 0M549.6 1216a7.2 7.2 0 1 0 14.4 0a7.2 7.2 0 1 0 -14.4 0M874.7 901.7a7.2 7.2 0 1 0 14.4 0a7.2 7.2 0 1 0 -14.4 0M676.6 893.1a7.2 7.2 0 1 0 14.4 0a7.2 7.2 0 1 0 -14.4 0M742.8 1367.1a7.2 7.2 0 1 0 14.4 0a7.2 7.2 0 1 0 -14.4 0M953.2 1096.6a7.2 7.2 0 1 0 14.4 0a7.2 7.2 0 1 0 -14.4 0M555.3 1063.6a7.2 7.2 0 1 0 14.4 0a7.2 7.2 0 1 0 -14.4 0M620 1336.3a7.2 7.2 0 1 0 14.4 0a7.2 7.2 0 1 0 -14.4 0M561.7 1258.2a7.2 7.2 0 1 0 14.4 0a7.2 7.2 0 1 0 -14.4 0M732 889.1a7.2 7.2 0 1 0 14.4 0a7.2 7.2 0 1 0 -14.4 0M849.9 914.7a7.2 7.2 0 1 0 14.4 0a7.2 7.2 0 1 0 -14.4 0M780 1391.1a7.2 7.2 0 1 0 14.4 0a7.2 7.2 0 1 0 -14.4 0M642.4 902a7.2 7.2 0 1 0 14.4 0a7.2 7.2 0 1 0 -14.4 0M539 1242.2a7.2 7.2 0 1 0 14.4 0a7.2 7.2 0 1 0 -14.4 0M619.7 1394.2a7.2 7.2 0 1 0 14.4 0a7.2 7.2 0 1 0 -14.4 0M508.1 1027.3a7.2 7.2 0 1 0 14.4 0a7.2 7.2 0 1 0 -14.4 0M549.5 1161.6a7.2 7.2 0 1 0 14.4 0a7.2 7.2 0 1 0 -14.4 0M878 921.8a7.2 7.2 0 1 0 14.4 0a7.2 7.2 0 1 0 -14.4 0M881.7 1275.8a7.2 7.2 0 1 0 14.4 0a7.2 7.2 0 1 0 -14.4 0M858.3 906.1a7.2 7.2 0 1 0 14.4 0a7.2 7.2 0 1 0 -14.4 0M851.7 892.6a7.2 7.2 0 1 0 14.4 0a7.2 7.2 0 1 0 -14.4 0M549.2 1082a7.2 7.2 0 1 0 14.4 0a7.2 7.2 0 1 0 -14.4 0M846.4 1350.1a7.2 7.2 0 1 0 14.4 0a7.2 7.2 0 1 0 -14.4 0M943.9 1059.8a7.2 7.2 0 1 0 14.4 0a7.2 7.2 0 1 0 -14.4 0M524.5 1269.4a7.2 7.2 0 1 0 14.4 0a7.2 7.2 0 1 0 -14.4 0M666.2 896.2a7.2 7.2 0 1 0 14.4 0a7.2 7.2 0 1 0 -14.4 0M871.9 1282.6a7.2 7.2 0 1 0 14.4 0a7.2 7.2 0 1 0 -14.4 0M594.7 1327.1a7.2 7.2 0 1 0 14.4 0a7.2 7.2 0 1 0 -14.4 0M712.6 1364.8a7.2 7.2 0 1 0 14.4 0a7.2 7.2 0 1 0 -14.4 0M637.5 1365a7.2 7.2 0 1 0 14.4 0a7.2 7.2 0 1 0 -14.4 0M615.5 1331.5a7.2 7.2 0 1 0 14.4 0a7.2 7.2 0 1 0 -14.4 0M901.6 1224.8a7.2 7.2 0 1 0 14.4 0a7.2 7.2 0 1 0 -14.4 0M740.3 1368.6a7.2 7.2 0 1 0 14.4 0a7.2 7.2 0 1 0 -14.4 0M932 1178.8a7.2 7.2 0 1 0 14.4 0a7.2 7.2 0 1 0 -14.4 0M969.9 1137.6a7.2 7.2 0 1 0 14.4 0a7.2 7.2 0 1 0 -14.4 0M667.1 892.4a7.2 7.2 0 1 0 14.4 0a7.2 7.2 0 1 0 -14.4 0M611.3 963.1a7.2 7.2 0 1 0 14.4 0a7.2 7.2 0 1 0 -14.4 0M909.6 1206.8a7.2 7.2 0 1 0 14.4 0a7.2 7.2 0 1 0 -14.4 0M889 1263.5a7.2 7.2 0 1 0 14.4 0a7.2 7.2 0 1 0 -14.4 0M685 1373.4a7.2 7.2 0 1 0 14.4 0a7.2 7.2 0 1 0 -14.4 0M913.1 1220.6a7.2 7.2 0 1 0 14.4 0a7.2 7.2 0 1 0 -14.4 0M946.1 1063.6a7.2 7.2 0 1 0 14.4 0a7.2 7.2 0 1 0 -14.4 0M790.1 899.4a7.2 7.2 0 1 0 14.4 0a7.2 7.2 0 1 0 -14.4 0M881 1274a7.2 7.2 0 1 0 14.4 0a7.2 7.2 0 1 0 -14.4 0M765 1380.3a7.2 7.2 0 1 0 14.4 0a7.2 7.2 0 1 0 -14.4 0M619.9 1335.3a7.2 7.2 0 1 0 14.4 0a7.2 7.2 0 1 0 -14.4 0M758 889a7.2 7.2 0 1 0 14.4 0a7.2 7.2 0 1 0 -14.4 0M854.5 894.2a7.2 7.2 0 1 0 14.4 0a7.2 7.2 0 1 0 -14.4 0M807.6 900.5a7.2 7.2 0 1 0 14.4 0a7.2 7.2 0 1 0 -14.4 0M552.2 1089.5a7.2 7.2 0 1 0 14.4 0a7.2 7.2 0 1 0 -14.4 0M960.7 1148.3a7.2 7.2 0 1 0 14.4 0a7.2 7.2 0 1 0 -14.4 0M864.7 887.9a7.2 7.2 0 1 0 14.4 0a7.2 7.2 0 1 0 -14.4 0M653.4 886a7.2 7.2 0 1 0 14.4 0a7.2 7.2 0 1 0 -14.4 0M547.3 1235.3a7.2 7.2 0 1 0 14.4 0a7.2 7.2 0 1 0 -14.4 0M613.9 921a7.2 7.2 0 1 0 14.4 0a7.2 7.2 0 1 0 -14.4 0M584.7 1297.5a7.2 7.2 0 1 0 14.4 0a7.2 7.2 0 1 0 -14.4 0M550.9 1099.5a7.2 7.2 0 1 0 14.4 0a7.2 7.2 0 1 0 -14.4 0M851 889.8a7.2 7.2 0 1 0 14.4 0a7.2 7.2 0 1 0 -14.4 0M560.3 1311.4a7.2 7.2 0 1 0 14.4 0a7.2 7.2 0 1 0 -14.4 0M761.7 887.4a7.2 7.2 0 1 0 14.4 0a7.2 7.2 0 1 0 -14.4 0M893.9 1262.1a7.2 7.2 0 1 0 14.4 0a7.2 7.2 0 1 0 -14.4 0M843.3 1343.5a7.2 7.2 0 1 0 14.4 0a7.2 7.2 0 1 0 -14.4 0M817.4 1341.7a7.2 7.2 0 1 0 14.4 0a7.2 7.2 0 1 0 -14.4 0M671 1369.7a7.2 7.2 0 1 0 14.4 0a7.2 7.2 0 1 0 -14.4 0M541.1 1031.6a7.2 7.2 0 1 0 14.4 0a7.2 7.2 0 1 0 -14.4 0M856.5 1300a7.2 7.2 0 1 0 14.4 0a7.2 7.2 0 1 0 -14.4 0M709.4 874.3a7.2 7.2 0 1 0 14.4 0a7.2 7.2 0 1 0 -14.4 0M813.9 901.7a7.2 7.2 0 1 0 14.4 0a7.2 7.2 0 1 0 -14.4 0M934.4 1038.4a7.2 7.2 0 1 0 14.4 0a7.2 7.2 0 1 0 -14.4 0M782 895.5a7.2 7.2 0 1 0 14.4 0a7.2 7.2 0 1 0 -14.4 0M537 1210.5a7.2 7.2 0 1 0 14.4 0a7.2 7.2 0 1 0 -14.4 0M539.5 1258.1a7.2 7.2 0 1 0 14.4 0a7.2 7.2 0 1 0 -14.4 0M623.2 939.1a7.2 7.2 0 1 0 14.4 0a7.2 7.2 0 1 0 -14.4 0M650.1 1382.8a7.2 7.2 0 1 0 14.4 0a7.2 7.2 0 1 0 -14.4 0M758.5 882.3a7.2 7.2 0 1 0 14.4 0a7.2 7.2 0 1 0 -14.4 0M925.7 1130.9a7.2 7.2 0 1 0 14.4 0a7.2 7.2 0 1 0 -14.4 0M736 891.2a7.2 7.2 0 1 0 14.4 0a7.2 7.2 0 1 0 -14.4 0M813.5 867.2a7.2 7.2 0 1 0 14.4 0a7.2 7.2 0 1 0 -14.4 0M554.1 1063.1a7.2 7.2 0 1 0 14.4 0a7.2 7.2 0 1 0 -14.4 0M606.6 1327.6a7.2 7.2 0 1 0 14.4 0a7.2 7.2 0 1 0 -14.4 0M546.3 1044.2a7.2 7.2 0 1 0 14.4 0a7.2 7.2 0 1 0 -14.4 0M545.5 1223.7a7.2 7.2 0 1 0 14.4 0a7.2 7.2 0 1 0 -14.4 0M707.9 889.9a7.2 7.2 0 1 0 14.4 0a7.2 7.2 0 1 0 -14.4 0M952.1 1093.5a7.2 7.2 0 1 0 14.4 0a7.2 7.2 0 1 0 -14.4 0M897.7 1239.5a7.2 7.2 0 1 0 14.4 0a7.2 7.2 0 1 0 -14.4 0M646.5 1369.6a7.2 7.2 0 1 0 14.4 0a7.2 7.2 0 1 0 -14.4 0M548.8 1232.5a7.2 7.2 0 1 0 14.4 0a7.2 7.2 0 1 0 -14.4 0M716 1363.4a7.2 7.2 0 1 0 14.4 0a7.2 7.2 0 1 0 -14.4 0M905.4 1227.1a7.2 7.2 0 1 0 14.4 0a7.2 7.2 0 1 0 -14.4 0M634.1 1358.8a7.2 7.2 0 1 0 14.4 0a7.2 7.2 0 1 0 -14.4 0M918 973.2a7.2 7.2 0 1 0 14.4 0a7.2 7.2 0 1 0 -14.4 0M905 946.9a7.2 7.2 0 1 0 14.4 0a7.2 7.2 0 1 0 -14.4 0M708.8 1399.4a7.2 7.2 0 1 0 14.4 0a7.2 7.2 0 1 0 -14.4 0M753.7 865a7.2 7.2 0 1 0 14.4 0a7.2 7.2 0 1 0 -14.4 0M689.5 854.9a7.2 7.2 0 1 0 14.4 0a7.2 7.2 0 1 0 -14.4 0M555.7 1257a7.2 7.2 0 1 0 14.4 0a7.2 7.2 0 1 0 -14.4 0M568.3 1005.2a7.2 7.2 0 1 0 14.4 0a7.2 7.2 0 1 0 -14.4 0M922.2 986.3a7.2 7.2 0 1 0 14.4 0a7.2 7.2 0 1 0 -14.4 0M869.6 896.3a7.2 7.2 0 1 0 14.4 0a7.2 7.2 0 1 0 -14.4 0M531.9 1091.3a7.2 7.2 0 1 0 14.4 0a7.2 7.2 0 1 0 -14.4 0M882.1 1268a7.2 7.2 0 1 0 14.4 0a7.2 7.2 0 1 0 -14.4 0M540.9 1092.3a7.2 7.2 0 1 0 14.4 0a7.2 7.2 0 1 0 -14.4 0M669.7 1360.6a7.2 7.2 0 1 0 14.4 0a7.2 7.2 0 1 0 -14.4 0M578.4 967.9a7.2 7.2 0 1 0 14.4 0a7.2 7.2 0 1 0 -14.4 0M848.2 1315.1a7.2 7.2 0 1 0 14.4 0a7.2 7.2 0 1 0 -14.4 0M896.4 934.3a7.2 7.2 0 1 0 14.4 0a7.2 7.2 0 1 0 -14.4 0M704 1369.7a7.2 7.2 0 1 0 14.4 0a7.2 7.2 0 1 0 -14.4 0M541 970.6a7.2 7.2 0 1 0 14.4 0a7.2 7.2 0 1 0 -14.4 0M928.5 1236.4a7.2 7.2 0 1 0 14.4 0a7.2 7.2 0 1 0 -14.4 0M727.7 1409.1a7.2 7.2 0 1 0 14.4 0a7.2 7.2 0 1 0 -14.4 0M900.4 922.7a7.2 7.2 0 1 0 14.4 0a7.2 7.2 0 1 0 -14.4 0M859.8 1314.8a7.2 7.2 0 1 0 14.4 0a7.2 7.2 0 1 0 -14.4 0M596 952.9a7.2 7.2 0 1 0 14.4 0a7.2 7.2 0 1 0 -14.4 0M733.5 1363.9a7.2 7.2 0 1 0 14.4 0a7.2 7.2 0 1 0 -14.4 0M819.4 897.3a7.2 7.2 0 1 0 14.4 0a7.2 7.2 0 1 0 -14.4 0M949.4 1083.5a7.2 7.2 0 1 0 14.4 0a7.2 7.2 0 1 0 -14.4 0M578.5 991a7.2 7.2 0 1 0 14.4 0a7.2 7.2 0 1 0 -14.4 0M917.3 972.3a7.2 7.2 0 1 0 14.4 0a7.2 7.2 0 1 0 -14.4 0M933 1106.6a7.2 7.2 0 1 0 14.4 0a7.2 7.2 0 1 0 -14.4 0M579.3 1293.4a7.2 7.2 0 1 0 14.4 0a7.2 7.2 0 1 0 -14.4 0M879 1297.5a7.2 7.2 0 1 0 14.4 0a7.2 7.2 0 1 0 -14.4 0M529.2 1165.2a7.2 7.2 0 1 0 14.4 0a7.2 7.2 0 1 0 -14.4 0M847 1312a7.2 7.2 0 1 0 14.4 0a7.2 7.2 0 1 0 -14.4 0M585.5 1298.3a7.2 7.2 0 1 0 14.4 0a7.2 7.2 0 1 0 -14.4 0M566.6 986.7a7.2 7.2 0 1 0 14.4 0a7.2 7.2 0 1 0 -14.4 0M594.8 1311.2a7.2 7.2 0 1 0 14.4 0a7.2 7.2 0 1 0 -14.4 0M546.8 1061.3a7.2 7.2 0 1 0 14.4 0a7.2 7.2 0 1 0 -14.4 0M904.9 1218.5a7.2 7.2 0 1 0 14.4 0a7.2 7.2 0 1 0 -14.4 0M827.7 1338.5a7.2 7.2 0 1 0 14.4 0a7.2 7.2 0 1 0 -14.4 0M608.8 949a7.2 7.2 0 1 0 14.4 0a7.2 7.2 0 1 0 -14.4 0M611.9 956.6a7.2 7.2 0 1 0 14.4 0a7.2 7.2 0 1 0 -14.4 0M581.2 983.3a7.2 7.2 0 1 0 14.4 0a7.2 7.2 0 1 0 -14.4 0M548.9 1097.1a7.2 7.2 0 1 0 14.4 0a7.2 7.2 0 1 0 -14.4 0M636.2 1349.5a7.2 7.2 0 1 0 14.4 0a7.2 7.2 0 1 0 -14.4 0M984.8 1028.2a7.2 7.2 0 1 0 14.4 0a7.2 7.2 0 1 0 -14.4 0M555.8 1241.4a7.2 7.2 0 1 0 14.4 0a7.2 7.2 0 1 0 -14.4 0M562.5 1265.4a7.2 7.2 0 1 0 14.4 0a7.2 7.2 0 1 0 -14.4 0M746.8 1361.1a7.2 7.2 0 1 0 14.4 0a7.2 7.2 0 1 0 -14.4 0M728.5 1363.4a7.2 7.2 0 1 0 14.4 0a7.2 7.2 0 1 0 -14.4 0M539.4 1150.2a7.2 7.2 0 1 0 14.4 0a7.2 7.2 0 1 0 -14.4 0M931.8 1064.8a7.2 7.2 0 1 0 14.4 0a7.2 7.2 0 1 0 -14.4 0M711.9 1369.5a7.2 7.2 0 1 0 14.4 0a7.2 7.2 0 1 0 -14.4 0M734.4 890.9a7.2 7.2 0 1 0 14.4 0a7.2 7.2 0 1 0 -14.4 0M953.5 1083.5a7.2 7.2 0 1 0 14.4 0a7.2 7.2 0 1 0 -14.4 0M777.5 1358.7a7.2 7.2 0 1 0 14.4 0a7.2 7.2 0 1 0 -14.4 0M759.1 1367.3a7.2 7.2 0 1 0 14.4 0a7.2 7.2 0 1 0 -14.4 0M543.8 1156.7a7.2 7.2 0 1 0 14.4 0a7.2 7.2 0 1 0 -14.4 0M526.9 1259.5a7.2 7.2 0 1 0 14.4 0a7.2 7.2 0 1 0 -14.4 0M886.9 927.1a7.2 7.2 0 1 0 14.4 0a7.2 7.2 0 1 0 -14.4 0M569.3 1015.8a7.2 7.2 0 1 0 14.4 0a7.2 7.2 0 1 0 -14.4 0M837.9 906.6a7.2 7.2 0 1 0 14.4 0a7.2 7.2 0 1 0 -14.4 0M538.1 1046.9a7.2 7.2 0 1 0 14.4 0a7.2 7.2 0 1 0 -14.4 0M677.9 1361a7.2 7.2 0 1 0 14.4 0a7.2 7.2 0 1 0 -14.4 0M852.5 913a7.2 7.2 0 1 0 14.4 0a7.2 7.2 0 1 0 -14.4 0M935.8 993.2a7.2 7.2 0 1 0 14.4 0a7.2 7.2 0 1 0 -14.4 0M906.3 942.6a7.2 7.2 0 1 0 14.4 0a7.2 7.2 0 1 0 -14.4 0M840.8 905.2a7.2 7.2 0 1 0 14.4 0a7.2 7.2 0 1 0 -14.4 0M543.9 1259.6a7.2 7.2 0 1 0 14.4 0a7.2 7.2 0 1 0 -14.4 0M587.8 1318.7a7.2 7.2 0 1 0 14.4 0a7.2 7.2 0 1 0 -14.4 0M916.2 1224.2a7.2 7.2 0 1 0 14.4 0a7.2 7.2 0 1 0 -14.4 0M949 1023.2a7.2 7.2 0 1 0 14.4 0a7.2 7.2 0 1 0 -14.4 0M525.1 1299.4a7.2 7.2 0 1 0 14.4 0a7.2 7.2 0 1 0 -14.4 0M938.8 1094.8a7.2 7.2 0 1 0 14.4 0a7.2 7.2 0 1 0 -14.4 0M615 1358.3a7.2 7.2 0 1 0 14.4 0a7.2 7.2 0 1 0 -14.4 0M888.2 924.3a7.2 7.2 0 1 0 14.4 0a7.2 7.2 0 1 0 -14.4 0M689 890.9a7.2 7.2 0 1 0 14.4 0a7.2 7.2 0 1 0 -14.4 0M948 1042.5a7.2 7.2 0 1 0 14.4 0a7.2 7.2 0 1 0 -14.4 0M944.7 980.2a7.2 7.2 0 1 0 14.4 0a7.2 7.2 0 1 0 -14.4 0M930.2 1192.4a7.2 7.2 0 1 0 14.4 0a7.2 7.2 0 1 0 -14.4 0M686.9 896.6a7.2 7.2 0 1 0 14.4 0a7.2 7.2 0 1 0 -14.4 0M618 918.1a7.2 7.2 0 1 0 14.4 0a7.2 7.2 0 1 0 -14.4 0M894.6 1257.2a7.2 7.2 0 1 0 14.4 0a7.2 7.2 0 1 0 -14.4 0M950.9 987.5a7.2 7.2 0 1 0 14.4 0a7.2 7.2 0 1 0 -14.4 0M800 1350.8a7.2 7.2 0 1 0 14.4 0a7.2 7.2 0 1 0 -14.4 0M846.4 884.4a7.2 7.2 0 1 0 14.4 0a7.2 7.2 0 1 0 -14.4 0M856.9 1329.4a7.2 7.2 0 1 0 14.4 0a7.2 7.2 0 1 0 -14.4 0M650.5 1376.7a7.2 7.2 0 1 0 14.4 0a7.2 7.2 0 1 0 -14.4 0M550.7 1063.8a7.2 7.2 0 1 0 14.4 0a7.2 7.2 0 1 0 -14.4 0M706.1 891.3a7.2 7.2 0 1 0 14.4 0a7.2 7.2 0 1 0 -14.4 0M898.9 1294.5a7.2 7.2 0 1 0 14.4 0a7.2 7.2 0 1 0 -14.4 0M550.6 1215.3a7.2 7.2 0 1 0 14.4 0a7.2 7.2 0 1 0 -14.4 0M817.3 1371a7.2 7.2 0 1 0 14.4 0a7.2 7.2 0 1 0 -14.4 0M574.8 1292.1a7.2 7.2 0 1 0 14.4 0a7.2 7.2 0 1 0 -14.4 0M820.2 1369.1a7.2 7.2 0 1 0 14.4 0a7.2 7.2 0 1 0 -14.4 0M800.9 1358.2a7.2 7.2 0 1 0 14.4 0a7.2 7.2 0 1 0 -14.4 0M824.8 904.6a7.2 7.2 0 1 0 14.4 0a7.2 7.2 0 1 0 -14.4 0M574 997.2a7.2 7.2 0 1 0 14.4 0a7.2 7.2 0 1 0 -14.4 0M860.1 1297.9a7.2 7.2 0 1 0 14.4 0a7.2 7.2 0 1 0 -14.4 0M572.6 1004.3a7.2 7.2 0 1 0 14.4 0a7.2 7.2 0 1 0 -14.4 0M838.2 1319.2a7.2 7.2 0 1 0 14.4 0a7.2 7.2 0 1 0 -14.4 0M810.8 1340.8a7.2 7.2 0 1 0 14.4 0a7.2 7.2 0 1 0 -14.4 0M524.8 1111.7a7.2 7.2 0 1 0 14.4 0a7.2 7.2 0 1 0 -14.4 0M902.7 953.3a7.2 7.2 0 1 0 14.4 0a7.2 7.2 0 1 0 -14.4 0M618.1 1362.9a7.2 7.2 0 1 0 14.4 0a7.2 7.2 0 1 0 -14.4 0M685.7 1422.7a7.2 7.2 0 1 0 14.4 0a7.2 7.2 0 1 0 -14.4 0M867.1 1289.3a7.2 7.2 0 1 0 14.4 0a7.2 7.2 0 1 0 -14.4 0M981.4 1022.8a7.2 7.2 0 1 0 14.4 0a7.2 7.2 0 1 0 -14.4 0M772.6 890.2a7.2 7.2 0 1 0 14.4 0a7.2 7.2 0 1 0 -14.4 0M830.7 891.3a7.2 7.2 0 1 0 14.4 0a7.2 7.2 0 1 0 -14.4 0M929.3 992.4a7.2 7.2 0 1 0 14.4 0a7.2 7.2 0 1 0 -14.4 0M746.2 891.8a7.2 7.2 0 1 0 14.4 0a7.2 7.2 0 1 0 -14.4 0M946.6 1154.3a7.2 7.2 0 1 0 14.4 0a7.2 7.2 0 1 0 -14.4 0M925.8 1131a7.2 7.2 0 1 0 14.4 0a7.2 7.2 0 1 0 -14.4 0M541.9 1148.2a7.2 7.2 0 1 0 14.4 0a7.2 7.2 0 1 0 -14.4 0M790 1377.3a7.2 7.2 0 1 0 14.4 0a7.2 7.2 0 1 0 -14.4 0M598.8 1322.8a7.2 7.2 0 1 0 14.4 0a7.2 7.2 0 1 0 -14.4 0M941.4 1124.4a7.2 7.2 0 1 0 14.4 0a7.2 7.2 0 1 0 -14.4 0M902.2 1243.5a7.2 7.2 0 1 0 14.4 0a7.2 7.2 0 1 0 -14.4 0M734.4 1367.4a7.2 7.2 0 1 0 14.4 0a7.2 7.2 0 1 0 -14.4 0M752.8 891.6a7.2 7.2 0 1 0 14.4 0a7.2 7.2 0 1 0 -14.4 0M537 1176.4a7.2 7.2 0 1 0 14.4 0a7.2 7.2 0 1 0 -14.4 0M814.2 1343.3a7.2 7.2 0 1 0 14.4 0a7.2 7.2 0 1 0 -14.4 0M571.6 1314.2a7.2 7.2 0 1 0 14.4 0a7.2 7.2 0 1 0 -14.4 0M544.9 1234.3a7.2 7.2 0 1 0 14.4 0a7.2 7.2 0 1 0 -14.4 0M912.3 959.3a7.2 7.2 0 1 0 14.4 0a7.2 7.2 0 1 0 -14.4 0M925.7 1018.5a7.2 7.2 0 1 0 14.4 0a7.2 7.2 0 1 0 -14.4 0M929.6 1209.3a7.2 7.2 0 1 0 14.4 0a7.2 7.2 0 1 0 -14.4 0M551.5 1150.6a7.2 7.2 0 1 0 14.4 0a7.2 7.2 0 1 0 -14.4 0M931.7 982a7.2 7.2 0 1 0 14.4 0a7.2 7.2 0 1 0 -14.4 0M548.4 1213.3a7.2 7.2 0 1 0 14.4 0a7.2 7.2 0 1 0 -14.4 0M646.4 1370a7.2 7.2 0 1 0 14.4 0a7.2 7.2 0 1 0 -14.4 0M552.2 1071.6a7.2 7.2 0 1 0 14.4 0a7.2 7.2 0 1 0 -14.4 0M682.8 877.7a7.2 7.2 0 1 0 14.4 0a7.2 7.2 0 1 0 -14.4 0M543.1 1228.2a7.2 7.2 0 1 0 14.4 0a7.2 7.2 0 1 0 -14.4 0M608.6 1346.6a7.2 7.2 0 1 0 14.4 0a7.2 7.2 0 1 0 -14.4 0M826.9 875.2a7.2 7.2 0 1 0 14.4 0a7.2 7.2 0 1 0 -14.4 0M903.8 1252.8a7.2 7.2 0 1 0 14.4 0a7.2 7.2 0 1 0 -14.4 0M825.1 886.7a7.2 7.2 0 1 0 14.4 0a7.2 7.2 0 1 0 -14.4 0M632.5 860.7a7.2 7.2 0 1 0 14.4 0a7.2 7.2 0 1 0 -14.4 0M545.7 1081a7.2 7.2 0 1 0 14.4 0a7.2 7.2 0 1 0 -14.4 0M660.3 1365.1a7.2 7.2 0 1 0 14.4 0a7.2 7.2 0 1 0 -14.4 0M919.8 1193.5a7.2 7.2 0 1 0 14.4 0a7.2 7.2 0 1 0 -14.4 0M710.9 1364a7.2 7.2 0 1 0 14.4 0a7.2 7.2 0 1 0 -14.4 0M532.5 1191a7.2 7.2 0 1 0 14.4 0a7.2 7.2 0 1 0 -14.4 0M923.3 1202a7.2 7.2 0 1 0 14.4 0a7.2 7.2 0 1 0 -14.4 0M575.6 994.2a7.2 7.2 0 1 0 14.4 0a7.2 7.2 0 1 0 -14.4 0M942.2 1096a7.2 7.2 0 1 0 14.4 0a7.2 7.2 0 1 0 -14.4 0M818.7 1334.2a7.2 7.2 0 1 0 14.4 0a7.2 7.2 0 1 0 -14.4 0M943.5 1070.4a7.2 7.2 0 1 0 14.4 0a7.2 7.2 0 1 0 -14.4 0M776.2 1364.5a7.2 7.2 0 1 0 14.4 0a7.2 7.2 0 1 0 -14.4 0M890.2 1248.5a7.2 7.2 0 1 0 14.4 0a7.2 7.2 0 1 0 -14.4 0M591.6 939.6a7.2 7.2 0 1 0 14.4 0a7.2 7.2 0 1 0 -14.4 0M846.8 874.5a7.2 7.2 0 1 0 14.4 0a7.2 7.2 0 1 0 -14.4 0M587.3 1301.4a7.2 7.2 0 1 0 14.4 0a7.2 7.2 0 1 0 -14.4 0M928.1 1018.6a7.2 7.2 0 1 0 14.4 0a7.2 7.2 0 1 0 -14.4 0M913.5 1228.8a7.2 7.2 0 1 0 14.4 0a7.2 7.2 0 1 0 -14.4 0M797 845.5a7.2 7.2 0 1 0 14.4 0a7.2 7.2 0 1 0 -14.4 0M801.5 1347.8a7.2 7.2 0 1 0 14.4 0a7.2 7.2 0 1 0 -14.4 0M931.8 984.7a7.2 7.2 0 1 0 14.4 0a7.2 7.2 0 1 0 -14.4 0M594.7 1314.2a7.2 7.2 0 1 0 14.4 0a7.2 7.2 0 1 0 -14.4 0M732.2 1371.7a7.2 7.2 0 1 0 14.4 0a7.2 7.2 0 1 0 -14.4 0M930.3 1186.7a7.2 7.2 0 1 0 14.4 0a7.2 7.2 0 1 0 -14.4 0M796.9 1347.2a7.2 7.2 0 1 0 14.4 0a7.2 7.2 0 1 0 -14.4 0M546.4 1285a7.2 7.2 0 1 0 14.4 0a7.2 7.2 0 1 0 -14.4 0M529.8 1181.2a7.2 7.2 0 1 0 14.4 0a7.2 7.2 0 1 0 -14.4 0M852.5 1310.5a7.2 7.2 0 1 0 14.4 0a7.2 7.2 0 1 0 -14.4 0M822.7 898.3a7.2 7.2 0 1 0 14.4 0a7.2 7.2 0 1 0 -14.4 0M613 943.1a7.2 7.2 0 1 0 14.4 0a7.2 7.2 0 1 0 -14.4 0M816.9 1359.1a7.2 7.2 0 1 0 14.4 0a7.2 7.2 0 1 0 -14.4 0M876.4 1297.4a7.2 7.2 0 1 0 14.4 0a7.2 7.2 0 1 0 -14.4 0M771.4 880.7a7.2 7.2 0 1 0 14.4 0a7.2 7.2 0 1 0 -14.4 0M533.5 1075.2a7.2 7.2 0 1 0 14.4 0a7.2 7.2 0 1 0 -14.4 0M875.3 902.5a7.2 7.2 0 1 0 14.4 0a7.2 7.2 0 1 0 -14.4 0M586.5 1365.9a7.2 7.2 0 1 0 14.4 0a7.2 7.2 0 1 0 -14.4 0M540 1184.2a7.2 7.2 0 1 0 14.4 0a7.2 7.2 0 1 0 -14.4 0M770.2 1367.5a7.2 7.2 0 1 0 14.4 0a7.2 7.2 0 1 0 -14.4 0M722.8 1369.5a7.2 7.2 0 1 0 14.4 0a7.2 7.2 0 1 0 -14.4 0M624.3 932.1a7.2 7.2 0 1 0 14.4 0a7.2 7.2 0 1 0 -14.4 0M694 1379.4a7.2 7.2 0 1 0 14.4 0a7.2 7.2 0 1 0 -14.4 0M751.2 883.7a7.2 7.2 0 1 0 14.4 0a7.2 7.2 0 1 0 -14.4 0M927.1 964.8a7.2 7.2 0 1 0 14.4 0a7.2 7.2 0 1 0 -14.4 0M938.2 1036.1a7.2 7.2 0 1 0 14.4 0a7.2 7.2 0 1 0 -14.4 0M686.9 872.3a7.2 7.2 0 1 0 14.4 0a7.2 7.2 0 1 0 -14.4 0M908.3 906.3a7.2 7.2 0 1 0 14.4 0a7.2 7.2 0 1 0 -14.4 0M930.2 1023.5a7.2 7.2 0 1 0 14.4 0a7.2 7.2 0 1 0 -14.4 0M836.1 848.7a7.2 7.2 0 1 0 14.4 0a7.2 7.2 0 1 0 -14.4 0M540.5 1240.3a7.2 7.2 0 1 0 14.4 0a7.2 7.2 0 1 0 -14.4 0M543.4 1128.9a7.2 7.2 0 1 0 14.4 0a7.2 7.2 0 1 0 -14.4 0M962.7 986.1a7.2 7.2 0 1 0 14.4 0a7.2 7.2 0 1 0 -14.4 0M657.7 905.5a7.2 7.2 0 1 0 14.4 0a7.2 7.2 0 1 0 -14.4 0M688.5 1379.6a7.2 7.2 0 1 0 14.4 0a7.2 7.2 0 1 0 -14.4 0M683 892.3a7.2 7.2 0 1 0 14.4 0a7.2 7.2 0 1 0 -14.4 0M794.5 888.6a7.2 7.2 0 1 0 14.4 0a7.2 7.2 0 1 0 -14.4 0M965 1113.8a7.2 7.2 0 1 0 14.4 0a7.2 7.2 0 1 0 -14.4 0M550.9 1185.9a7.2 7.2 0 1 0 14.4 0a7.2 7.2 0 1 0 -14.4 0M904.8 908.6a7.2 7.2 0 1 0 14.4 0a7.2 7.2 0 1 0 -14.4 0M901.4 945.9a7.2 7.2 0 1 0 14.4 0a7.2 7.2 0 1 0 -14.4 0M698.9 890.6a7.2 7.2 0 1 0 14.4 0a7.2 7.2 0 1 0 -14.4 0M655.6 1382.9a7.2 7.2 0 1 0 14.4 0a7.2 7.2 0 1 0 -14.4 0M549.7 1064.8a7.2 7.2 0 1 0 14.4 0a7.2 7.2 0 1 0 -14.4 0M721.6 892.9a7.2 7.2 0 1 0 14.4 0a7.2 7.2 0 1 0 -14.4 0M586.3 967.5a7.2 7.2 0 1 0 14.4 0a7.2 7.2 0 1 0 -14.4 0M894.3 942a7.2 7.2 0 1 0 14.4 0a7.2 7.2 0 1 0 -14.4 0M794.4 1351.9a7.2 7.2 0 1 0 14.4 0a7.2 7.2 0 1 0 -14.4 0M926.5 900a7.2 7.2 0 1 0 14.4 0a7.2 7.2 0 1 0 -14.4 0M658.1 893.9a7.2 7.2 0 1 0 14.4 0a7.2 7.2 0 1 0 -14.4 0M604.2 1346.8a7.2 7.2 0 1 0 14.4 0a7.2 7.2 0 1 0 -14.4 0M563.3 993.1a7.2 7.2 0 1 0 14.4 0a7.2 7.2 0 1 0 -14.4 0M928.1 972.4a7.2 7.2 0 1 0 14.4 0a7.2 7.2 0 1 0 -14.4 0M609.9 966.4a7.2 7.2 0 1 0 14.4 0a7.2 7.2 0 1 0 -14.4 0M930.4 1079.2a7.2 7.2 0 1 0 14.4 0a7.2 7.2 0 1 0 -14.4 0M912.1 1214.2a7.2 7.2 0 1 0 14.4 0a7.2 7.2 0 1 0 -14.4 0M652 908.2a7.2 7.2 0 1 0 14.4 0a7.2 7.2 0 1 0 -14.4 0M881.6 903.9a7.2 7.2 0 1 0 14.4 0a7.2 7.2 0 1 0 -14.4 0M556 1311.1a7.2 7.2 0 1 0 14.4 0a7.2 7.2 0 1 0 -14.4 0M931.8 1148.8a7.2 7.2 0 1 0 14.4 0a7.2 7.2 0 1 0 -14.4 0M965.7 1015.3a7.2 7.2 0 1 0 14.4 0a7.2 7.2 0 1 0 -14.4 0M909.6 937a7.2 7.2 0 1 0 14.4 0a7.2 7.2 0 1 0 -14.4 0M895.3 1237.9a7.2 7.2 0 1 0 14.4 0a7.2 7.2 0 1 0 -14.4 0M524.5 1233.7a7.2 7.2 0 1 0 14.4 0a7.2 7.2 0 1 0 -14.4 0M569.5 1297.4a7.2 7.2 0 1 0 14.4 0a7.2 7.2 0 1 0 -14.4 0M942.4 1072.8a7.2 7.2 0 1 0 14.4 0a7.2 7.2 0 1 0 -14.4 0M834.2 898.5a7.2 7.2 0 1 0 14.4 0a7.2 7.2 0 1 0 -14.4 0M629.8 1374.8a7.2 7.2 0 1 0 14.4 0a7.2 7.2 0 1 0 -14.4 0M603.3 953.6a7.2 7.2 0 1 0 14.4 0a7.2 7.2 0 1 0 -14.4 0M530.8 1122.4a7.2 7.2 0 1 0 14.4 0a7.2 7.2 0 1 0 -14.4 0M541.3 1117.9a7.2 7.2 0 1 0 14.4 0a7.2 7.2 0 1 0 -14.4 0M856.4 1299.2a7.2 7.2 0 1 0 14.4 0a7.2 7.2 0 1 0 -14.4 0M692 1378.3a7.2 7.2 0 1 0 14.4 0a7.2 7.2 0 1 0 -14.4 0M545.1 1178.2a7.2 7.2 0 1 0 14.4 0a7.2 7.2 0 1 0 -14.4 0M912 1195.1a7.2 7.2 0 1 0 14.4 0a7.2 7.2 0 1 0 -14.4 0M954.3 1067.2a7.2 7.2 0 1 0 14.4 0a7.2 7.2 0 1 0 -14.4 0M661.2 891.9a7.2 7.2 0 1 0 14.4 0a7.2 7.2 0 1 0 -14.4 0M947.6 1066.4a7.2 7.2 0 1 0 14.4 0a7.2 7.2 0 1 0 -14.4 0M843.4 1314.7a7.2 7.2 0 1 0 14.4 0a7.2 7.2 0 1 0 -14.4 0M910.2 887a7.2 7.2 0 1 0 14.4 0a7.2 7.2 0 1 0 -14.4 0M561.3 1017.7a7.2 7.2 0 1 0 14.4 0a7.2 7.2 0 1 0 -14.4 0M939.9 1120.8a7.2 7.2 0 1 0 14.4 0a7.2 7.2 0 1 0 -14.4 0M805 897.8a7.2 7.2 0 1 0 14.4 0a7.2 7.2 0 1 0 -14.4 0M886.2 1299.5a7.2 7.2 0 1 0 14.4 0a7.2 7.2 0 1 0 -14.4 0M894.4 1253a7.2 7.2 0 1 0 14.4 0a7.2 7.2 0 1 0 -14.4 0M706.9 1371.6a7.2 7.2 0 1 0 14.4 0a7.2 7.2 0 1 0 -14.4 0M901.3 1241a7.2 7.2 0 1 0 14.4 0a7.2 7.2 0 1 0 -14.4 0M594.1 1327.1a7.2 7.2 0 1 0 14.4 0a7.2 7.2 0 1 0 -14.4 0M553.9 1064a7.2 7.2 0 1 0 14.4 0a7.2 7.2 0 1 0 -14.4 0M844 1324.7a7.2 7.2 0 1 0 14.4 0a7.2 7.2 0 1 0 -14.4 0M796.3 1360.6a7.2 7.2 0 1 0 14.4 0a7.2 7.2 0 1 0 -14.4 0M561.7 1248.9a7.2 7.2 0 1 0 14.4 0a7.2 7.2 0 1 0 -14.4 0M775.6 1373.4a7.2 7.2 0 1 0 14.4 0a7.2 7.2 0 1 0 -14.4 0M554.5 1269.7a7.2 7.2 0 1 0 14.4 0a7.2 7.2 0 1 0 -14.4 0M584.4 982.7a7.2 7.2 0 1 0 14.4 0a7.2 7.2 0 1 0 -14.4 0M565.5 1265.7a7.2 7.2 0 1 0 14.4 0a7.2 7.2 0 1 0 -14.4 0M528.5 1016.1a7.2 7.2 0 1 0 14.4 0a7.2 7.2 0 1 0 -14.4 0M557.7 1244.7a7.2 7.2 0 1 0 14.4 0a7.2 7.2 0 1 0 -14.4 0M948 1152.1a7.2 7.2 0 1 0 14.4 0a7.2 7.2 0 1 0 -14.4 0M627.4 926.4a7.2 7.2 0 1 0 14.4 0a7.2 7.2 0 1 0 -14.4 0M849.3 1320.9a7.2 7.2 0 1 0 14.4 0a7.2 7.2 0 1 0 -14.4 0M534.2 1158.9a7.2 7.2 0 1 0 14.4 0a7.2 7.2 0 1 0 -14.4 0M936.4 1077.2a7.2 7.2 0 1 0 14.4 0a7.2 7.2 0 1 0 -14.4 0M560.8 959a7.2 7.2 0 1 0 14.4 0a7.2 7.2 0 1 0 -14.4 0M713.7 885.9a7.2 7.2 0 1 0 14.4 0a7.2 7.2 0 1 0 -14.4 0M812.2 1359.5a7.2 7.2 0 1 0 14.4 0a7.2 7.2 0 1 0 -14.4 0M701.2 1369.5a7.2 7.2 0 1 0 14.4 0a7.2 7.2 0 1 0 -14.4 0M912.1 969.9a7.2 7.2 0 1 0 14.4 0a7.2 7.2 0 1 0 -14.4 0M784.2 898.4a7.2 7.2 0 1 0 14.4 0a7.2 7.2 0 1 0 -14.4 0M905.1 1231.6a7.2 7.2 0 1 0 14.4 0a7.2 7.2 0 1 0 -14.4 0M705.2 890.1a7.2 7.2 0 1 0 14.4 0a7.2 7.2 0 1 0 -14.4 0M550.8 1189a7.2 7.2 0 1 0 14.4 0a7.2 7.2 0 1 0 -14.4 0M886 920.7a7.2 7.2 0 1 0 14.4 0a7.2 7.2 0 1 0 -14.4 0M937.6 1200.4a7.2 7.2 0 1 0 14.4 0a7.2 7.2 0 1 0 -14.4 0M650.7 911.5a7.2 7.2 0 1 0 14.4 0a7.2 7.2 0 1 0 -14.4 0M566.4 1020.4a7.2 7.2 0 1 0 14.4 0a7.2 7.2 0 1 0 -14.4 0M595.2 1320.8a7.2 7.2 0 1 0 14.4 0a7.2 7.2 0 1 0 -14.4 0M931.6 1097.4a7.2 7.2 0 1 0 14.4 0a7.2 7.2 0 1 0 -14.4 0M637.4 917.2a7.2 7.2 0 1 0 14.4 0a7.2 7.2 0 1 0 -14.4 0M925.9 1151.2a7.2 7.2 0 1 0 14.4 0a7.2 7.2 0 1 0 -14.4 0M885.3 1324.7a7.2 7.2 0 1 0 14.4 0a7.2 7.2 0 1 0 -14.4 0M789.8 1353.2a7.2 7.2 0 1 0 14.4 0a7.2 7.2 0 1 0 -14.4 0M636.6 880.6a7.2 7.2 0 1 0 14.4 0a7.2 7.2 0 1 0 -14.4 0M834.4 888.2a7.2 7.2 0 1 0 14.4 0a7.2 7.2 0 1 0 -14.4 0M901.4 941.2a7.2 7.2 0 1 0 14.4 0a7.2 7.2 0 1 0 -14.4 0M820 1342.5a7.2 7.2 0 1 0 14.4 0a7.2 7.2 0 1 0 -14.4 0M529.2 1095.9a7.2 7.2 0 1 0 14.4 0a7.2 7.2 0 1 0 -14.4 0M533.2 1153.8a7.2 7.2 0 1 0 14.4 0a7.2 7.2 0 1 0 -14.4 0M603.6 1347.4a7.2 7.2 0 1 0 14.4 0a7.2 7.2 0 1 0 -14.4 0M622.4 930.2a7.2 7.2 0 1 0 14.4 0a7.2 7.2 0 1 0 -14.4 0M917.4 982.2a7.2 7.2 0 1 0 14.4 0a7.2 7.2 0 1 0 -14.4 0M909.5 1203.5a7.2 7.2 0 1 0 14.4 0a7.2 7.2 0 1 0 -14.4 0M713 843.3a7.2 7.2 0 1 0 14.4 0a7.2 7.2 0 1 0 -14.4 0M675.8 1368.5a7.2 7.2 0 1 0 14.4 0a7.2 7.2 0 1 0 -14.4 0M853 1373.9a7.2 7.2 0 1 0 14.4 0a7.2 7.2 0 1 0 -14.4 0M550.4 1171.6a7.2 7.2 0 1 0 14.4 0a7.2 7.2 0 1 0 -14.4 0M555.2 1237.1a7.2 7.2 0 1 0 14.4 0a7.2 7.2 0 1 0 -14.4 0M536.7 1210.4a7.2 7.2 0 1 0 14.4 0a7.2 7.2 0 1 0 -14.4 0M559 1037.9a7.2 7.2 0 1 0 14.4 0a7.2 7.2 0 1 0 -14.4 0M784.7 891a7.2 7.2 0 1 0 14.4 0a7.2 7.2 0 1 0 -14.4 0M940.8 1031.2a7.2 7.2 0 1 0 14.4 0a7.2 7.2 0 1 0 -14.4 0M896.6 1260.1a7.2 7.2 0 1 0 14.4 0a7.2 7.2 0 1 0 -14.4 0M862.3 919.1a7.2 7.2 0 1 0 14.4 0a7.2 7.2 0 1 0 -14.4 0M566.1 1025a7.2 7.2 0 1 0 14.4 0a7.2 7.2 0 1 0 -14.4 0M574.3 1002.3a7.2 7.2 0 1 0 14.4 0a7.2 7.2 0 1 0 -14.4 0M789.8 888.1a7.2 7.2 0 1 0 14.4 0a7.2 7.2 0 1 0 -14.4 0M669.7 1361a7.2 7.2 0 1 0 14.4 0a7.2 7.2 0 1 0 -14.4 0M544.5 1116a7.2 7.2 0 1 0 14.4 0a7.2 7.2 0 1 0 -14.4 0M513 1046.1a7.2 7.2 0 1 0 14.4 0a7.2 7.2 0 1 0 -14.4 0M624.8 934.9a7.2 7.2 0 1 0 14.4 0a7.2 7.2 0 1 0 -14.4 0M824.3 1352.2a7.2 7.2 0 1 0 14.4 0a7.2 7.2 0 1 0 -14.4 0M555.9 1064.4a7.2 7.2 0 1 0 14.4 0a7.2 7.2 0 1 0 -14.4 0M801.5 1409.3a7.2 7.2 0 1 0 14.4 0a7.2 7.2 0 1 0 -14.4 0M555.3 1216.8a7.2 7.2 0 1 0 14.4 0a7.2 7.2 0 1 0 -14.4 0M952.4 997.6a7.2 7.2 0 1 0 14.4 0a7.2 7.2 0 1 0 -14.4 0M840.5 1320.9a7.2 7.2 0 1 0 14.4 0a7.2 7.2 0 1 0 -14.4 0M616 1366.5a7.2 7.2 0 1 0 14.4 0a7.2 7.2 0 1 0 -14.4 0M935.9 1145.9a7.2 7.2 0 1 0 14.4 0a7.2 7.2 0 1 0 -14.4 0M772.3 887.7a7.2 7.2 0 1 0 14.4 0a7.2 7.2 0 1 0 -14.4 0M586.3 1358.1a7.2 7.2 0 1 0 14.4 0a7.2 7.2 0 1 0 -14.4 0M859.9 919.5a7.2 7.2 0 1 0 14.4 0a7.2 7.2 0 1 0 -14.4 0M767.8 883.3a7.2 7.2 0 1 0 14.4 0a7.2 7.2 0 1 0 -14.4 0M531.6 1059a7.2 7.2 0 1 0 14.4 0a7.2 7.2 0 1 0 -14.4 0M720 1384.6a7.2 7.2 0 1 0 14.4 0a7.2 7.2 0 1 0 -14.4 0M950.1 1094.1a7.2 7.2 0 1 0 14.4 0a7.2 7.2 0 1 0 -14.4 0M702.5 1392.5a7.2 7.2 0 1 0 14.4 0a7.2 7.2 0 1 0 -14.4 0M892.7 1244.1a7.2 7.2 0 1 0 14.4 0a7.2 7.2 0 1 0 -14.4 0M798.5 900.4a7.2 7.2 0 1 0 14.4 0a7.2 7.2 0 1 0 -14.4 0M503.5 1053.8a7.2 7.2 0 1 0 14.4 0a7.2 7.2 0 1 0 -14.4 0M933.1 1175.6a7.2 7.2 0 1 0 14.4 0a7.2 7.2 0 1 0 -14.4 0M876.8 1301.1a7.2 7.2 0 1 0 14.4 0a7.2 7.2 0 1 0 -14.4 0M552 1097a7.2 7.2 0 1 0 14.4 0a7.2 7.2 0 1 0 -14.4 0M680.3 1376.7a7.2 7.2 0 1 0 14.4 0a7.2 7.2 0 1 0 -14.4 0M899.9 1233.5a7.2 7.2 0 1 0 14.4 0a7.2 7.2 0 1 0 -14.4 0M610.2 1336.1a7.2 7.2 0 1 0 14.4 0a7.2 7.2 0 1 0 -14.4 0M930.1 1053a7.2 7.2 0 1 0 14.4 0a7.2 7.2 0 1 0 -14.4 0M891.4 928.1a7.2 7.2 0 1 0 14.4 0a7.2 7.2 0 1 0 -14.4 0M840.8 1337.7a7.2 7.2 0 1 0 14.4 0a7.2 7.2 0 1 0 -14.4 0M822.6 852.9a7.2 7.2 0 1 0 14.4 0a7.2 7.2 0 1 0 -14.4 0M914.6 954.5a7.2 7.2 0 1 0 14.4 0a7.2 7.2 0 1 0 -14.4 0M928.9 1144a7.2 7.2 0 1 0 14.4 0a7.2 7.2 0 1 0 -14.4 0M542.3 1064.8a7.2 7.2 0 1 0 14.4 0a7.2 7.2 0 1 0 -14.4 0M936.5 1063.8a7.2 7.2 0 1 0 14.4 0a7.2 7.2 0 1 0 -14.4 0M707.1 1364.8a7.2 7.2 0 1 0 14.4 0a7.2 7.2 0 1 0 -14.4 0M575.5 1007.5a7.2 7.2 0 1 0 14.4 0a7.2 7.2 0 1 0 -14.4 0M560.2 1253.7a7.2 7.2 0 1 0 14.4 0a7.2 7.2 0 1 0 -14.4 0M636.2 892.3a7.2 7.2 0 1 0 14.4 0a7.2 7.2 0 1 0 -14.4 0M740.3 1364.6a7.2 7.2 0 1 0 14.4 0a7.2 7.2 0 1 0 -14.4 0M946.4 1064.6a7.2 7.2 0 1 0 14.4 0a7.2 7.2 0 1 0 -14.4 0M560.1 1016.1a7.2 7.2 0 1 0 14.4 0a7.2 7.2 0 1 0 -14.4 0M925.6 1163.7a7.2 7.2 0 1 0 14.4 0a7.2 7.2 0 1 0 -14.4 0M876.9 913.2a7.2 7.2 0 1 0 14.4 0a7.2 7.2 0 1 0 -14.4 0M908.9 1215.4a7.2 7.2 0 1 0 14.4 0a7.2 7.2 0 1 0 -14.4 0M965.1 966.4a7.2 7.2 0 1 0 14.4 0a7.2 7.2 0 1 0 -14.4 0M544.5 1165.2a7.2 7.2 0 1 0 14.4 0a7.2 7.2 0 1 0 -14.4 0M929.4 1175.6a7.2 7.2 0 1 0 14.4 0a7.2 7.2 0 1 0 -14.4 0M635.8 1351a7.2 7.2 0 1 0 14.4 0a7.2 7.2 0 1 0 -14.4 0M535.7 1242.1a7.2 7.2 0 1 0 14.4 0a7.2 7.2 0 1 0 -14.4 0M929.5 1041.4a7.2 7.2 0 1 0 14.4 0a7.2 7.2 0 1 0 -14.4 0M700.8 870.6a7.2 7.2 0 1 0 14.4 0a7.2 7.2 0 1 0 -14.4 0M786.7 864.1a7.2 7.2 0 1 0 14.4 0a7.2 7.2 0 1 0 -14.4 0M930.1 1163a7.2 7.2 0 1 0 14.4 0a7.2 7.2 0 1 0 -14.4 0M523.8 1160.9a7.2 7.2 0 1 0 14.4 0a7.2 7.2 0 1 0 -14.4 0M922.5 968.5a7.2 7.2 0 1 0 14.4 0a7.2 7.2 0 1 0 -14.4 0M567.2 982.5a7.2 7.2 0 1 0 14.4 0a7.2 7.2 0 1 0 -14.4 0M937.6 986.9a7.2 7.2 0 1 0 14.4 0a7.2 7.2 0 1 0 -14.4 0M926 1212.9a7.2 7.2 0 1 0 14.4 0a7.2 7.2 0 1 0 -14.4 0M852.1 1315.7a7.2 7.2 0 1 0 14.4 0a7.2 7.2 0 1 0 -14.4 0M972 1088.7a7.2 7.2 0 1 0 14.4 0a7.2 7.2 0 1 0 -14.4 0M927.2 1006.4a7.2 7.2 0 1 0 14.4 0a7.2 7.2 0 1 0 -14.4 0M925.9 1242a7.2 7.2 0 1 0 14.4 0a7.2 7.2 0 1 0 -14.4 0M926.9 1132.6a7.2 7.2 0 1 0 14.4 0a7.2 7.2 0 1 0 -14.4 0M877.1 906.4a7.2 7.2 0 1 0 14.4 0a7.2 7.2 0 1 0 -14.4 0M767.5 1372.8a7.2 7.2 0 1 0 14.4 0a7.2 7.2 0 1 0 -14.4 0M550.7 1119.9a7.2 7.2 0 1 0 14.4 0a7.2 7.2 0 1 0 -14.4 0M936.7 1071.4a7.2 7.2 0 1 0 14.4 0a7.2 7.2 0 1 0 -14.4 0M926.4 1133.5a7.2 7.2 0 1 0 14.4 0a7.2 7.2 0 1 0 -14.4 0M797.5 1402a7.2 7.2 0 1 0 14.4 0a7.2 7.2 0 1 0 -14.4 0M853.1 908.7a7.2 7.2 0 1 0 14.4 0a7.2 7.2 0 1 0 -14.4 0M877.4 1329a7.2 7.2 0 1 0 14.4 0a7.2 7.2 0 1 0 -14.4 0M555.4 1067.3a7.2 7.2 0 1 0 14.4 0a7.2 7.2 0 1 0 -14.4 0M950.1 1119.5a7.2 7.2 0 1 0 14.4 0a7.2 7.2 0 1 0 -14.4 0M900.5 949.6a7.2 7.2 0 1 0 14.4 0a7.2 7.2 0 1 0 -14.4 0M782.2 858.3a7.2 7.2 0 1 0 14.4 0a7.2 7.2 0 1 0 -14.4 0M792.1 896.8a7.2 7.2 0 1 0 14.4 0a7.2 7.2 0 1 0 -14.4 0M607.3 958.8a7.2 7.2 0 1 0 14.4 0a7.2 7.2 0 1 0 -14.4 0M790.2 895.7a7.2 7.2 0 1 0 14.4 0a7.2 7.2 0 1 0 -14.4 0M596.4 1319.3a7.2 7.2 0 1 0 14.4 0a7.2 7.2 0 1 0 -14.4 0M897.5 1242.6a7.2 7.2 0 1 0 14.4 0a7.2 7.2 0 1 0 -14.4 0M692.3 895.3a7.2 7.2 0 1 0 14.4 0a7.2 7.2 0 1 0 -14.4 0M894.2 903.9a7.2 7.2 0 1 0 14.4 0a7.2 7.2 0 1 0 -14.4 0M560 1038.4a7.2 7.2 0 1 0 14.4 0a7.2 7.2 0 1 0 -14.4 0M916.3 938.4a7.2 7.2 0 1 0 14.4 0a7.2 7.2 0 1 0 -14.4 0M560.4 1358.5a7.2 7.2 0 1 0 14.4 0a7.2 7.2 0 1 0 -14.4 0M923.2 992.5a7.2 7.2 0 1 0 14.4 0a7.2 7.2 0 1 0 -14.4 0M878.6 1344.8a7.2 7.2 0 1 0 14.4 0a7.2 7.2 0 1 0 -14.4 0M752.4 1379.5a7.2 7.2 0 1 0 14.4 0a7.2 7.2 0 1 0 -14.4 0M937.7 1205.4a7.2 7.2 0 1 0 14.4 0a7.2 7.2 0 1 0 -14.4 0M946.6 1160.2a7.2 7.2 0 1 0 14.4 0a7.2 7.2 0 1 0 -14.4 0M549.4 1197.4a7.2 7.2 0 1 0 14.4 0a7.2 7.2 0 1 0 -14.4 0M935.1 1091.7a7.2 7.2 0 1 0 14.4 0a7.2 7.2 0 1 0 -14.4 0M931.8 1099a7.2 7.2 0 1 0 14.4 0a7.2 7.2 0 1 0 -14.4 0M917 957.5a7.2 7.2 0 1 0 14.4 0a7.2 7.2 0 1 0 -14.4 0M932.2 1074.7a7.2 7.2 0 1 0 14.4 0a7.2 7.2 0 1 0 -14.4 0M803.1 1344.8a7.2 7.2 0 1 0 14.4 0a7.2 7.2 0 1 0 -14.4 0M923.8 1148.3a7.2 7.2 0 1 0 14.4 0a7.2 7.2 0 1 0 -14.4 0M608.6 930.9a7.2 7.2 0 1 0 14.4 0a7.2 7.2 0 1 0 -14.4 0M751.5 865a7.2 7.2 0 1 0 14.4 0a7.2 7.2 0 1 0 -14.4 0M940.7 1050.7a7.2 7.2 0 1 0 14.4 0a7.2 7.2 0 1 0 -14.4 0M683.7 892.2a7.2 7.2 0 1 0 14.4 0a7.2 7.2 0 1 0 -14.4 0M795 1412a7.2 7.2 0 1 0 14.4 0a7.2 7.2 0 1 0 -14.4 0M970.1 985a7.2 7.2 0 1 0 14.4 0a7.2 7.2 0 1 0 -14.4 0M538.3 1184.7a7.2 7.2 0 1 0 14.4 0a7.2 7.2 0 1 0 -14.4 0M925.7 1012.6a7.2 7.2 0 1 0 14.4 0a7.2 7.2 0 1 0 -14.4 0M578.6 914a7.2 7.2 0 1 0 14.4 0a7.2 7.2 0 1 0 -14.4 0M587.5 972.1a7.2 7.2 0 1 0 14.4 0a7.2 7.2 0 1 0 -14.4 0M600.1 1316.3a7.2 7.2 0 1 0 14.4 0a7.2 7.2 0 1 0 -14.4 0M824.5 877.1a7.2 7.2 0 1 0 14.4 0a7.2 7.2 0 1 0 -14.4 0M542.9 1107a7.2 7.2 0 1 0 14.4 0a7.2 7.2 0 1 0 -14.4 0M544.9 1193.6a7.2 7.2 0 1 0 14.4 0a7.2 7.2 0 1 0 -14.4 0M546.1 1076.6a7.2 7.2 0 1 0 14.4 0a7.2 7.2 0 1 0 -14.4 0M909.8 954.5a7.2 7.2 0 1 0 14.4 0a7.2 7.2 0 1 0 -14.4 0M932.2 1085a7.2 7.2 0 1 0 14.4 0a7.2 7.2 0 1 0 -14.4 0M900.4 1268.8a7.2 7.2 0 1 0 14.4 0a7.2 7.2 0 1 0 -14.4 0M955.8 1052.3a7.2 7.2 0 1 0 14.4 0a7.2 7.2 0 1 0 -14.4 0M833.4 1331.6a7.2 7.2 0 1 0 14.4 0a7.2 7.2 0 1 0 -14.4 0M819.6 1335.9a7.2 7.2 0 1 0 14.4 0a7.2 7.2 0 1 0 -14.4 0M546.2 1021.6a7.2 7.2 0 1 0 14.4 0a7.2 7.2 0 1 0 -14.4 0M917.7 949.7a7.2 7.2 0 1 0 14.4 0a7.2 7.2 0 1 0 -14.4 0M788.1 1353.5a7.2 7.2 0 1 0 14.4 0a7.2 7.2 0 1 0 -14.4 0M917.8 921.4a7.2 7.2 0 1 0 14.4 0a7.2 7.2 0 1 0 -14.4 0M902.6 945.6a7.2 7.2 0 1 0 14.4 0a7.2 7.2 0 1 0 -14.4 0M791.2 1353.4a7.2 7.2 0 1 0 14.4 0a7.2 7.2 0 1 0 -14.4 0M547.8 1205.9a7.2 7.2 0 1 0 14.4 0a7.2 7.2 0 1 0 -14.4 0M799.3 1360.4a7.2 7.2 0 1 0 14.4 0a7.2 7.2 0 1 0 -14.4 0M571.4 1315.9a7.2 7.2 0 1 0 14.4 0a7.2 7.2 0 1 0 -14.4 0M665 1359.2a7.2 7.2 0 1 0 14.4 0a7.2 7.2 0 1 0 -14.4 0M552.9 996.6a7.2 7.2 0 1 0 14.4 0a7.2 7.2 0 1 0 -14.4 0M923.4 996.6a7.2 7.2 0 1 0 14.4 0a7.2 7.2 0 1 0 -14.4 0M527.5 1097.9a7.2 7.2 0 1 0 14.4 0a7.2 7.2 0 1 0 -14.4 0M855.3 1317.2a7.2 7.2 0 1 0 14.4 0a7.2 7.2 0 1 0 -14.4 0M838.7 1338.5a7.2 7.2 0 1 0 14.4 0a7.2 7.2 0 1 0 -14.4 0M607.9 904.4a7.2 7.2 0 1 0 14.4 0a7.2 7.2 0 1 0 -14.4 0M856.7 1326.6a7.2 7.2 0 1 0 14.4 0a7.2 7.2 0 1 0 -14.4 0M884.9 899.8a7.2 7.2 0 1 0 14.4 0a7.2 7.2 0 1 0 -14.4 0M929.7 1022.5a7.2 7.2 0 1 0 14.4 0a7.2 7.2 0 1 0 -14.4 0M783.4 876.5a7.2 7.2 0 1 0 14.4 0a7.2 7.2 0 1 0 -14.4 0M931.7 917.4a7.2 7.2 0 1 0 14.4 0a7.2 7.2 0 1 0 -14.4 0M944.6 1047.5a7.2 7.2 0 1 0 14.4 0a7.2 7.2 0 1 0 -14.4 0M937.6 1044.2a7.2 7.2 0 1 0 14.4 0a7.2 7.2 0 1 0 -14.4 0M714.3 877.3a7.2 7.2 0 1 0 14.4 0a7.2 7.2 0 1 0 -14.4 0M690.2 1374.9a7.2 7.2 0 1 0 14.4 0a7.2 7.2 0 1 0 -14.4 0M841.7 1341a7.2 7.2 0 1 0 14.4 0a7.2 7.2 0 1 0 -14.4 0M906 1221.6a7.2 7.2 0 1 0 14.4 0a7.2 7.2 0 1 0 -14.4 0M586.5 1329.4a7.2 7.2 0 1 0 14.4 0a7.2 7.2 0 1 0 -14.4 0M811.4 878.6a7.2 7.2 0 1 0 14.4 0a7.2 7.2 0 1 0 -14.4 0M554.9 966.4a7.2 7.2 0 1 0 14.4 0a7.2 7.2 0 1 0 -14.4 0M744 1375.5a7.2 7.2 0 1 0 14.4 0a7.2 7.2 0 1 0 -14.4 0M635.3 1348.9a7.2 7.2 0 1 0 14.4 0a7.2 7.2 0 1 0 -14.4 0M545.3 1319.8a7.2 7.2 0 1 0 14.4 0a7.2 7.2 0 1 0 -14.4 0M559.2 1038.9a7.2 7.2 0 1 0 14.4 0a7.2 7.2 0 1 0 -14.4 0M748.5 1362.2a7.2 7.2 0 1 0 14.4 0a7.2 7.2 0 1 0 -14.4 0M804.2 900.9a7.2 7.2 0 1 0 14.4 0a7.2 7.2 0 1 0 -14.4 0M771.1 885.7a7.2 7.2 0 1 0 14.4 0a7.2 7.2 0 1 0 -14.4 0M800.7 900.5a7.2 7.2 0 1 0 14.4 0a7.2 7.2 0 1 0 -14.4 0M762.7 1384.4a7.2 7.2 0 1 0 14.4 0a7.2 7.2 0 1 0 -14.4 0M581.5 992.9a7.2 7.2 0 1 0 14.4 0a7.2 7.2 0 1 0 -14.4 0M626.4 1352.4a7.2 7.2 0 1 0 14.4 0a7.2 7.2 0 1 0 -14.4 0M679.5 1396.7a7.2 7.2 0 1 0 14.4 0a7.2 7.2 0 1 0 -14.4 0M944.5 1141.9a7.2 7.2 0 1 0 14.4 0a7.2 7.2 0 1 0 -14.4 0M541.6 1261a7.2 7.2 0 1 0 14.4 0a7.2 7.2 0 1 0 -14.4 0M905 1231.1a7.2 7.2 0 1 0 14.4 0a7.2 7.2 0 1 0 -14.4 0M742.1 1377.8a7.2 7.2 0 1 0 14.4 0a7.2 7.2 0 1 0 -14.4 0M946.9 1010.4a7.2 7.2 0 1 0 14.4 0a7.2 7.2 0 1 0 -14.4 0M613.6 1330.6a7.2 7.2 0 1 0 14.4 0a7.2 7.2 0 1 0 -14.4 0M859 895.5a7.2 7.2 0 1 0 14.4 0a7.2 7.2 0 1 0 -14.4 0M929.4 1209a7.2 7.2 0 1 0 14.4 0a7.2 7.2 0 1 0 -14.4 0M552.4 1062.7a7.2 7.2 0 1 0 14.4 0a7.2 7.2 0 1 0 -14.4 0M917.1 1177.9a7.2 7.2 0 1 0 14.4 0a7.2 7.2 0 1 0 -14.4 0M644.3 1359.2a7.2 7.2 0 1 0 14.4 0a7.2 7.2 0 1 0 -14.4 0M854.1 1354.2a7.2 7.2 0 1 0 14.4 0a7.2 7.2 0 1 0 -14.4 0M559.9 1032.8a7.2 7.2 0 1 0 14.4 0a7.2 7.2 0 1 0 -14.4 0M855.4 1303a7.2 7.2 0 1 0 14.4 0a7.2 7.2 0 1 0 -14.4 0M675.6 885.9a7.2 7.2 0 1 0 14.4 0a7.2 7.2 0 1 0 -14.4 0M923.2 1221.8a7.2 7.2 0 1 0 14.4 0a7.2 7.2 0 1 0 -14.4 0M667.1 892.3a7.2 7.2 0 1 0 14.4 0a7.2 7.2 0 1 0 -14.4 0M823.8 1340.2a7.2 7.2 0 1 0 14.4 0a7.2 7.2 0 1 0 -14.4 0M620 921.1a7.2 7.2 0 1 0 14.4 0a7.2 7.2 0 1 0 -14.4 0M584.5 1326.4a7.2 7.2 0 1 0 14.4 0a7.2 7.2 0 1 0 -14.4 0M973.2 1105.4a7.2 7.2 0 1 0 14.4 0a7.2 7.2 0 1 0 -14.4 0M520.6 1160.9a7.2 7.2 0 1 0 14.4 0a7.2 7.2 0 1 0 -14.4 0M724.6 1364.7a7.2 7.2 0 1 0 14.4 0a7.2 7.2 0 1 0 -14.4 0M970.7 1115.4a7.2 7.2 0 1 0 14.4 0a7.2 7.2 0 1 0 -14.4 0M968.1 988.9a7.2 7.2 0 1 0 14.4 0a7.2 7.2 0 1 0 -14.4 0M940.5 1169.9a7.2 7.2 0 1 0 14.4 0a7.2 7.2 0 1 0 -14.4 0M930.9 995.1a7.2 7.2 0 1 0 14.4 0a7.2 7.2 0 1 0 -14.4 0M667.7 896.3a7.2 7.2 0 1 0 14.4 0a7.2 7.2 0 1 0 -14.4 0M781.4 884.2a7.2 7.2 0 1 0 14.4 0a7.2 7.2 0 1 0 -14.4 0M560.3 1002.4a7.2 7.2 0 1 0 14.4 0a7.2 7.2 0 1 0 -14.4 0M761.6 894.8a7.2 7.2 0 1 0 14.4 0a7.2 7.2 0 1 0 -14.4 0M553.6 1080.3a7.2 7.2 0 1 0 14.4 0a7.2 7.2 0 1 0 -14.4 0M843.3 1332.6a7.2 7.2 0 1 0 14.4 0a7.2 7.2 0 1 0 -14.4 0M931.9 990.1a7.2 7.2 0 1 0 14.4 0a7.2 7.2 0 1 0 -14.4 0M674.6 850.1a7.2 7.2 0 1 0 14.4 0a7.2 7.2 0 1 0 -14.4 0M550.3 1024.1a7.2 7.2 0 1 0 14.4 0a7.2 7.2 0 1 0 -14.4 0M567.7 1322.1a7.2 7.2 0 1 0 14.4 0a7.2 7.2 0 1 0 -14.4 0M682.2 1415.5a7.2 7.2 0 1 0 14.4 0a7.2 7.2 0 1 0 -14.4 0M543.7 1122.4a7.2 7.2 0 1 0 14.4 0a7.2 7.2 0 1 0 -14.4 0M600.9 977.9a7.2 7.2 0 1 0 14.4 0a7.2 7.2 0 1 0 -14.4 0M673.1 897.3a7.2 7.2 0 1 0 14.4 0a7.2 7.2 0 1 0 -14.4 0M804.6 1354.8a7.2 7.2 0 1 0 14.4 0a7.2 7.2 0 1 0 -14.4 0M765.6 1359.2a7.2 7.2 0 1 0 14.4 0a7.2 7.2 0 1 0 -14.4 0M771.9 1358.1a7.2 7.2 0 1 0 14.4 0a7.2 7.2 0 1 0 -14.4 0M702.4 1385.3a7.2 7.2 0 1 0 14.4 0a7.2 7.2 0 1 0 -14.4 0M761.5 1376.3a7.2 7.2 0 1 0 14.4 0a7.2 7.2 0 1 0 -14.4 0M625.3 901.7a7.2 7.2 0 1 0 14.4 0a7.2 7.2 0 1 0 -14.4 0M616.6 1382a7.2 7.2 0 1 0 14.4 0a7.2 7.2 0 1 0 -14.4 0M560.7 1247.2a7.2 7.2 0 1 0 14.4 0a7.2 7.2 0 1 0 -14.4 0M732.9 889.5a7.2 7.2 0 1 0 14.4 0a7.2 7.2 0 1 0 -14.4 0M654.3 892.5a7.2 7.2 0 1 0 14.4 0a7.2 7.2 0 1 0 -14.4 0M508.6 1148.6a7.2 7.2 0 1 0 14.4 0a7.2 7.2 0 1 0 -14.4 0M931 1083.1a7.2 7.2 0 1 0 14.4 0a7.2 7.2 0 1 0 -14.4 0M546.5 1121a7.2 7.2 0 1 0 14.4 0a7.2 7.2 0 1 0 -14.4 0M801.7 1361.9a7.2 7.2 0 1 0 14.4 0a7.2 7.2 0 1 0 -14.4 0M543 1175.9a7.2 7.2 0 1 0 14.4 0a7.2 7.2 0 1 0 -14.4 0M940.7 1075.3a7.2 7.2 0 1 0 14.4 0a7.2 7.2 0 1 0 -14.4 0M904.9 1220.6a7.2 7.2 0 1 0 14.4 0a7.2 7.2 0 1 0 -14.4 0M656.4 1361.4a7.2 7.2 0 1 0 14.4 0a7.2 7.2 0 1 0 -14.4 0M777.1 896.3a7.2 7.2 0 1 0 14.4 0a7.2 7.2 0 1 0 -14.4 0M906.3 934.3a7.2 7.2 0 1 0 14.4 0a7.2 7.2 0 1 0 -14.4 0M562.3 1034.7a7.2 7.2 0 1 0 14.4 0a7.2 7.2 0 1 0 -14.4 0M575.7 1005.5a7.2 7.2 0 1 0 14.4 0a7.2 7.2 0 1 0 -14.4 0M580.8 996.5a7.2 7.2 0 1 0 14.4 0a7.2 7.2 0 1 0 -14.4 0M570.7 1000.2a7.2 7.2 0 1 0 14.4 0a7.2 7.2 0 1 0 -14.4 0M776.6 897.8a7.2 7.2 0 1 0 14.4 0a7.2 7.2 0 1 0 -14.4 0M938.7 1121.2a7.2 7.2 0 1 0 14.4 0a7.2 7.2 0 1 0 -14.4 0M921.3 935.8a7.2 7.2 0 1 0 14.4 0a7.2 7.2 0 1 0 -14.4 0M907.6 1221.6a7.2 7.2 0 1 0 14.4 0a7.2 7.2 0 1 0 -14.4 0M608.6 1327a7.2 7.2 0 1 0 14.4 0a7.2 7.2 0 1 0 -14.4 0M639.8 915a7.2 7.2 0 1 0 14.4 0a7.2 7.2 0 1 0 -14.4 0M612.3 1338a7.2 7.2 0 1 0 14.4 0a7.2 7.2 0 1 0 -14.4 0M901.7 943a7.2 7.2 0 1 0 14.4 0a7.2 7.2 0 1 0 -14.4 0M928.8 1011.2a7.2 7.2 0 1 0 14.4 0a7.2 7.2 0 1 0 -14.4 0M602 959.2a7.2 7.2 0 1 0 14.4 0a7.2 7.2 0 1 0 -14.4 0M549 1171.8a7.2 7.2 0 1 0 14.4 0a7.2 7.2 0 1 0 -14.4 0M918.7 1262.4a7.2 7.2 0 1 0 14.4 0a7.2 7.2 0 1 0 -14.4 0M882.1 1304.6a7.2 7.2 0 1 0 14.4 0a7.2 7.2 0 1 0 -14.4 0M985.6 1028.5a7.2 7.2 0 1 0 14.4 0a7.2 7.2 0 1 0 -14.4 0M850.5 1343.1a7.2 7.2 0 1 0 14.4 0a7.2 7.2 0 1 0 -14.4 0M574.7 1343.9a7.2 7.2 0 1 0 14.4 0a7.2 7.2 0 1 0 -14.4 0M874.7 1285.7a7.2 7.2 0 1 0 14.4 0a7.2 7.2 0 1 0 -14.4 0M897.3 914.2a7.2 7.2 0 1 0 14.4 0a7.2 7.2 0 1 0 -14.4 0M774.9 850.3a7.2 7.2 0 1 0 14.4 0a7.2 7.2 0 1 0 -14.4 0M925.1 939.3a7.2 7.2 0 1 0 14.4 0a7.2 7.2 0 1 0 -14.4 0M833.8 901.5a7.2 7.2 0 1 0 14.4 0a7.2 7.2 0 1 0 -14.4 0M899.9 1261.3a7.2 7.2 0 1 0 14.4 0a7.2 7.2 0 1 0 -14.4 0M972.7 1032.8a7.2 7.2 0 1 0 14.4 0a7.2 7.2 0 1 0 -14.4 0M938.1 1095.1a7.2 7.2 0 1 0 14.4 0a7.2 7.2 0 1 0 -14.4 0M545 986.2a7.2 7.2 0 1 0 14.4 0a7.2 7.2 0 1 0 -14.4 0M848.6 1351.9a7.2 7.2 0 1 0 14.4 0a7.2 7.2 0 1 0 -14.4 0M936.1 1064.8a7.2 7.2 0 1 0 14.4 0a7.2 7.2 0 1 0 -14.4 0M931.6 999.7a7.2 7.2 0 1 0 14.4 0a7.2 7.2 0 1 0 -14.4 0M545.4 1086.7a7.2 7.2 0 1 0 14.4 0a7.2 7.2 0 1 0 -14.4 0M896.9 930.4a7.2 7.2 0 1 0 14.4 0a7.2 7.2 0 1 0 -14.4 0M943 1109.7a7.2 7.2 0 1 0 14.4 0a7.2 7.2 0 1 0 -14.4 0M552.8 1015.6a7.2 7.2 0 1 0 14.4 0a7.2 7.2 0 1 0 -14.4 0M543.9 1182.7a7.2 7.2 0 1 0 14.4 0a7.2 7.2 0 1 0 -14.4 0M933.7 1040.8a7.2 7.2 0 1 0 14.4 0a7.2 7.2 0 1 0 -14.4 0M863.3 921a7.2 7.2 0 1 0 14.4 0a7.2 7.2 0 1 0 -14.4 0M760.6 1360.7a7.2 7.2 0 1 0 14.4 0a7.2 7.2 0 1 0 -14.4 0M549 1209.2a7.2 7.2 0 1 0 14.4 0a7.2 7.2 0 1 0 -14.4 0M626.1 922.7a7.2 7.2 0 1 0 14.4 0a7.2 7.2 0 1 0 -14.4 0M933.4 1137.8a7.2 7.2 0 1 0 14.4 0a7.2 7.2 0 1 0 -14.4 0M573.6 1321.9a7.2 7.2 0 1 0 14.4 0a7.2 7.2 0 1 0 -14.4 0M578.6 984.5a7.2 7.2 0 1 0 14.4 0a7.2 7.2 0 1 0 -14.4 0M704.4 1386.6a7.2 7.2 0 1 0 14.4 0a7.2 7.2 0 1 0 -14.4 0M774.5 1358.4a7.2 7.2 0 1 0 14.4 0a7.2 7.2 0 1 0 -14.4 0M751.8 1366.7a7.2 7.2 0 1 0 14.4 0a7.2 7.2 0 1 0 -14.4 0M951.8 996.1a7.2 7.2 0 1 0 14.4 0a7.2 7.2 0 1 0 -14.4 0M579.2 1289.8a7.2 7.2 0 1 0 14.4 0a7.2 7.2 0 1 0 -14.4 0M850.6 1332a7.2 7.2 0 1 0 14.4 0a7.2 7.2 0 1 0 -14.4 0M771.3 1374.6a7.2 7.2 0 1 0 14.4 0a7.2 7.2 0 1 0 -14.4 0M536.2 1297.8a7.2 7.2 0 1 0 14.4 0a7.2 7.2 0 1 0 -14.4 0M540.6 1177.3a7.2 7.2 0 1 0 14.4 0a7.2 7.2 0 1 0 -14.4 0M551.8 1053.6a7.2 7.2 0 1 0 14.4 0a7.2 7.2 0 1 0 -14.4 0M552.3 1210.5a7.2 7.2 0 1 0 14.4 0a7.2 7.2 0 1 0 -14.4 0M670.5 901.9a7.2 7.2 0 1 0 14.4 0a7.2 7.2 0 1 0 -14.4 0M918.2 944a7.2 7.2 0 1 0 14.4 0a7.2 7.2 0 1 0 -14.4 0M551.8 1215.9a7.2 7.2 0 1 0 14.4 0a7.2 7.2 0 1 0 -14.4 0M708.8 879.3a7.2 7.2 0 1 0 14.4 0a7.2 7.2 0 1 0 -14.4 0M929.2 1054.1a7.2 7.2 0 1 0 14.4 0a7.2 7.2 0 1 0 -14.4 0M877.5 872.5a7.2 7.2 0 1 0 14.4 0a7.2 7.2 0 1 0 -14.4 0M927.5 951.2a7.2 7.2 0 1 0 14.4 0a7.2 7.2 0 1 0 -14.4 0M929.9 1096.8a7.2 7.2 0 1 0 14.4 0a7.2 7.2 0 1 0 -14.4 0M613.5 1333.7a7.2 7.2 0 1 0 14.4 0a7.2 7.2 0 1 0 -14.4 0M889 1269.8a7.2 7.2 0 1 0 14.4 0a7.2 7.2 0 1 0 -14.4 0M929.6 1078.2a7.2 7.2 0 1 0 14.4 0a7.2 7.2 0 1 0 -14.4 0M902.3 1267.5a7.2 7.2 0 1 0 14.4 0a7.2 7.2 0 1 0 -14.4 0M605.6 915.4a7.2 7.2 0 1 0 14.4 0a7.2 7.2 0 1 0 -14.4 0M740.9 1363.1a7.2 7.2 0 1 0 14.4 0a7.2 7.2 0 1 0 -14.4 0M932.4 990a7.2 7.2 0 1 0 14.4 0a7.2 7.2 0 1 0 -14.4 0M512.8 1121.4a7.2 7.2 0 1 0 14.4 0a7.2 7.2 0 1 0 -14.4 0M539.7 1139.1a7.2 7.2 0 1 0 14.4 0a7.2 7.2 0 1 0 -14.4 0M544.7 1103.6a7.2 7.2 0 1 0 14.4 0a7.2 7.2 0 1 0 -14.4 0M695 890.7a7.2 7.2 0 1 0 14.4 0a7.2 7.2 0 1 0 -14.4 0M586.7 1316.8a7.2 7.2 0 1 0 14.4 0a7.2 7.2 0 1 0 -14.4 0M552 1180.6a7.2 7.2 0 1 0 14.4 0a7.2 7.2 0 1 0 -14.4 0M899.5 1260.2a7.2 7.2 0 1 0 14.4 0a7.2 7.2 0 1 0 -14.4 0M798.3 871.2a7.2 7.2 0 1 0 14.4 0a7.2 7.2 0 1 0 -14.4 0M614.8 1339.4a7.2 7.2 0 1 0 14.4 0a7.2 7.2 0 1 0 -14.4 0M601.4 1376.2a7.2 7.2 0 1 0 14.4 0a7.2 7.2 0 1 0 -14.4 0M895 945.3a7.2 7.2 0 1 0 14.4 0a7.2 7.2 0 1 0 -14.4 0M866.4 1316.5a7.2 7.2 0 1 0 14.4 0a7.2 7.2 0 1 0 -14.4 0M810 894a7.2 7.2 0 1 0 14.4 0a7.2 7.2 0 1 0 -14.4 0M534.2 1191.9a7.2 7.2 0 1 0 14.4 0a7.2 7.2 0 1 0 -14.4 0M792.2 1395.1a7.2 7.2 0 1 0 14.4 0a7.2 7.2 0 1 0 -14.4 0M652.5 910.1a7.2 7.2 0 1 0 14.4 0a7.2 7.2 0 1 0 -14.4 0M941.1 1004a7.2 7.2 0 1 0 14.4 0a7.2 7.2 0 1 0 -14.4 0M951 1026.3a7.2 7.2 0 1 0 14.4 0a7.2 7.2 0 1 0 -14.4 0M940.9 1132.4a7.2 7.2 0 1 0 14.4 0a7.2 7.2 0 1 0 -14.4 0M839 1333.9a7.2 7.2 0 1 0 14.4 0a7.2 7.2 0 1 0 -14.4 0M938.2 1102.2a7.2 7.2 0 1 0 14.4 0a7.2 7.2 0 1 0 -14.4 0M897 1271.8a7.2 7.2 0 1 0 14.4 0a7.2 7.2 0 1 0 -14.4 0M929.1 1104.7a7.2 7.2 0 1 0 14.4 0a7.2 7.2 0 1 0 -14.4 0M719 871.9a7.2 7.2 0 1 0 14.4 0a7.2 7.2 0 1 0 -14.4 0M620.7 1350.7a7.2 7.2 0 1 0 14.4 0a7.2 7.2 0 1 0 -14.4 0M803.7 1389.4a7.2 7.2 0 1 0 14.4 0a7.2 7.2 0 1 0 -14.4 0M542.8 1147a7.2 7.2 0 1 0 14.4 0a7.2 7.2 0 1 0 -14.4 0M822.3 885.7a7.2 7.2 0 1 0 14.4 0a7.2 7.2 0 1 0 -14.4 0M876.5 901.2a7.2 7.2 0 1 0 14.4 0a7.2 7.2 0 1 0 -14.4 0M622.4 1336.3a7.2 7.2 0 1 0 14.4 0a7.2 7.2 0 1 0 -14.4 0M876.9 892.4a7.2 7.2 0 1 0 14.4 0a7.2 7.2 0 1 0 -14.4 0M626.1 1378.2a7.2 7.2 0 1 0 14.4 0a7.2 7.2 0 1 0 -14.4 0M869.7 1334.4a7.2 7.2 0 1 0 14.4 0a7.2 7.2 0 1 0 -14.4 0M567.1 1005.8a7.2 7.2 0 1 0 14.4 0a7.2 7.2 0 1 0 -14.4 0M801.1 877.4a7.2 7.2 0 1 0 14.4 0a7.2 7.2 0 1 0 -14.4 0M927.5 954.1a7.2 7.2 0 1 0 14.4 0a7.2 7.2 0 1 0 -14.4 0M798.9 1375.5a7.2 7.2 0 1 0 14.4 0a7.2 7.2 0 1 0 -14.4 0M553 1030.8a7.2 7.2 0 1 0 14.4 0a7.2 7.2 0 1 0 -14.4 0M937.2 1119.9a7.2 7.2 0 1 0 14.4 0a7.2 7.2 0 1 0 -14.4 0M548.6 1024.3a7.2 7.2 0 1 0 14.4 0a7.2 7.2 0 1 0 -14.4 0M817.6 1336a7.2 7.2 0 1 0 14.4 0a7.2 7.2 0 1 0 -14.4 0M669.5 1367.2a7.2 7.2 0 1 0 14.4 0a7.2 7.2 0 1 0 -14.4 0M765.1 1363.9a7.2 7.2 0 1 0 14.4 0a7.2 7.2 0 1 0 -14.4 0M511.5 1184a7.2 7.2 0 1 0 14.4 0a7.2 7.2 0 1 0 -14.4 0M533.1 1118.8a7.2 7.2 0 1 0 14.4 0a7.2 7.2 0 1 0 -14.4 0M854.1 898.3a7.2 7.2 0 1 0 14.4 0a7.2 7.2 0 1 0 -14.4 0M533.5 1016.5a7.2 7.2 0 1 0 14.4 0a7.2 7.2 0 1 0 -14.4 0M776.6 1359.6a7.2 7.2 0 1 0 14.4 0a7.2 7.2 0 1 0 -14.4 0M944 1104.1a7.2 7.2 0 1 0 14.4 0a7.2 7.2 0 1 0 -14.4 0M800 881.2a7.2 7.2 0 1 0 14.4 0a7.2 7.2 0 1 0 -14.4 0M912.2 1251.5a7.2 7.2 0 1 0 14.4 0a7.2 7.2 0 1 0 -14.4 0M703 1366a7.2 7.2 0 1 0 14.4 0a7.2 7.2 0 1 0 -14.4 0M963.4 1149a7.2 7.2 0 1 0 14.4 0a7.2 7.2 0 1 0 -14.4 0M553.2 1039.8a7.2 7.2 0 1 0 14.4 0a7.2 7.2 0 1 0 -14.4 0M567.5 1019.7a7.2 7.2 0 1 0 14.4 0a7.2 7.2 0 1 0 -14.4 0M721.2 838.2a7.2 7.2 0 1 0 14.4 0a7.2 7.2 0 1 0 -14.4 0M685.1 897.7a7.2 7.2 0 1 0 14.4 0a7.2 7.2 0 1 0 -14.4 0M968.4 1122a7.2 7.2 0 1 0 14.4 0a7.2 7.2 0 1 0 -14.4 0M586.3 1301.8a7.2 7.2 0 1 0 14.4 0a7.2 7.2 0 1 0 -14.4 0M763.6 1379.4a7.2 7.2 0 1 0 14.4 0a7.2 7.2 0 1 0 -14.4 0M809.6 1354.1a7.2 7.2 0 1 0 14.4 0a7.2 7.2 0 1 0 -14.4 0M867.4 1300.5a7.2 7.2 0 1 0 14.4 0a7.2 7.2 0 1 0 -14.4 0M566 1020.4a7.2 7.2 0 1 0 14.4 0a7.2 7.2 0 1 0 -14.4 0M714.5 891.6a7.2 7.2 0 1 0 14.4 0a7.2 7.2 0 1 0 -14.4 0M603.5 941.3a7.2 7.2 0 1 0 14.4 0a7.2 7.2 0 1 0 -14.4 0M901.7 919.8a7.2 7.2 0 1 0 14.4 0a7.2 7.2 0 1 0 -14.4 0M809.7 1347.2a7.2 7.2 0 1 0 14.4 0a7.2 7.2 0 1 0 -14.4 0M550.7 1223.6a7.2 7.2 0 1 0 14.4 0a7.2 7.2 0 1 0 -14.4 0M606.7 960.9a7.2 7.2 0 1 0 14.4 0a7.2 7.2 0 1 0 -14.4 0M732.1 1380.3a7.2 7.2 0 1 0 14.4 0a7.2 7.2 0 1 0 -14.4 0M935.1 1103a7.2 7.2 0 1 0 14.4 0a7.2 7.2 0 1 0 -14.4 0M791.9 1369.3a7.2 7.2 0 1 0 14.4 0a7.2 7.2 0 1 0 -14.4 0M543.3 1282.4a7.2 7.2 0 1 0 14.4 0a7.2 7.2 0 1 0 -14.4 0M551.3 1092.3a7.2 7.2 0 1 0 14.4 0a7.2 7.2 0 1 0 -14.4 0M549.8 1160.3a7.2 7.2 0 1 0 14.4 0a7.2 7.2 0 1 0 -14.4 0M933.9 1096.4a7.2 7.2 0 1 0 14.4 0a7.2 7.2 0 1 0 -14.4 0M929.5 1087.5a7.2 7.2 0 1 0 14.4 0a7.2 7.2 0 1 0 -14.4 0M764.1 892.1a7.2 7.2 0 1 0 14.4 0a7.2 7.2 0 1 0 -14.4 0M565.9 1293a7.2 7.2 0 1 0 14.4 0a7.2 7.2 0 1 0 -14.4 0M535.3 1184.5a7.2 7.2 0 1 0 14.4 0a7.2 7.2 0 1 0 -14.4 0M782.4 1355.8a7.2 7.2 0 1 0 14.4 0a7.2 7.2 0 1 0 -14.4 0M561.9 998.5a7.2 7.2 0 1 0 14.4 0a7.2 7.2 0 1 0 -14.4 0M606.6 1349.8a7.2 7.2 0 1 0 14.4 0a7.2 7.2 0 1 0 -14.4 0M931.4 1111.8a7.2 7.2 0 1 0 14.4 0a7.2 7.2 0 1 0 -14.4 0M697.6 1385.9a7.2 7.2 0 1 0 14.4 0a7.2 7.2 0 1 0 -14.4 0M577.8 1301.8a7.2 7.2 0 1 0 14.4 0a7.2 7.2 0 1 0 -14.4 0M898.9 1330.4a7.2 7.2 0 1 0 14.4 0a7.2 7.2 0 1 0 -14.4 0M912 944a7.2 7.2 0 1 0 14.4 0a7.2 7.2 0 1 0 -14.4 0M523.6 1210.2a7.2 7.2 0 1 0 14.4 0a7.2 7.2 0 1 0 -14.4 0M920.1 980.4a7.2 7.2 0 1 0 14.4 0a7.2 7.2 0 1 0 -14.4 0M933.4 1021.2a7.2 7.2 0 1 0 14.4 0a7.2 7.2 0 1 0 -14.4 0M533.1 1111.7a7.2 7.2 0 1 0 14.4 0a7.2 7.2 0 1 0 -14.4 0M551.5 1162.7a7.2 7.2 0 1 0 14.4 0a7.2 7.2 0 1 0 -14.4 0M600 929.8a7.2 7.2 0 1 0 14.4 0a7.2 7.2 0 1 0 -14.4 0M685.2 1364a7.2 7.2 0 1 0 14.4 0a7.2 7.2 0 1 0 -14.4 0M718.8 1372.6a7.2 7.2 0 1 0 14.4 0a7.2 7.2 0 1 0 -14.4 0M600.7 1327.4a7.2 7.2 0 1 0 14.4 0a7.2 7.2 0 1 0 -14.4 0M775.2 1364.1a7.2 7.2 0 1 0 14.4 0a7.2 7.2 0 1 0 -14.4 0M872.9 1285.1a7.2 7.2 0 1 0 14.4 0a7.2 7.2 0 1 0 -14.4 0M649.6 1382.6a7.2 7.2 0 1 0 14.4 0a7.2 7.2 0 1 0 -14.4 0M935.6 961.7a7.2 7.2 0 1 0 14.4 0a7.2 7.2 0 1 0 -14.4 0M545.9 1071a7.2 7.2 0 1 0 14.4 0a7.2 7.2 0 1 0 -14.4 0M551.3 1280.7a7.2 7.2 0 1 0 14.4 0a7.2 7.2 0 1 0 -14.4 0M518.6 1199a7.2 7.2 0 1 0 14.4 0a7.2 7.2 0 1 0 -14.4 0M571.2 995.5a7.2 7.2 0 1 0 14.4 0a7.2 7.2 0 1 0 -14.4 0M565.3 1020.3a7.2 7.2 0 1 0 14.4 0a7.2 7.2 0 1 0 -14.4 0M869.3 1365.5a7.2 7.2 0 1 0 14.4 0a7.2 7.2 0 1 0 -14.4 0M779.5 896.3a7.2 7.2 0 1 0 14.4 0a7.2 7.2 0 1 0 -14.4 0M646.3 1377a7.2 7.2 0 1 0 14.4 0a7.2 7.2 0 1 0 -14.4 0M549.9 1124.2a7.2 7.2 0 1 0 14.4 0a7.2 7.2 0 1 0 -14.4 0M598.6 970.7a7.2 7.2 0 1 0 14.4 0a7.2 7.2 0 1 0 -14.4 0M941 1052.6a7.2 7.2 0 1 0 14.4 0a7.2 7.2 0 1 0 -14.4 0M563.1 1314.6a7.2 7.2 0 1 0 14.4 0a7.2 7.2 0 1 0 -14.4 0M666.3 1379.7a7.2 7.2 0 1 0 14.4 0a7.2 7.2 0 1 0 -14.4 0M810.3 1378.6a7.2 7.2 0 1 0 14.4 0a7.2 7.2 0 1 0 -14.4 0M910.6 1205.4a7.2 7.2 0 1 0 14.4 0a7.2 7.2 0 1 0 -14.4 0M531.7 1009.8a7.2 7.2 0 1 0 14.4 0a7.2 7.2 0 1 0 -14.4 0M637.6 900.9a7.2 7.2 0 1 0 14.4 0a7.2 7.2 0 1 0 -14.4 0M790.7 1361.8a7.2 7.2 0 1 0 14.4 0a7.2 7.2 0 1 0 -14.4 0M763.9 1394.2a7.2 7.2 0 1 0 14.4 0a7.2 7.2 0 1 0 -14.4 0M666.2 878.8a7.2 7.2 0 1 0 14.4 0a7.2 7.2 0 1 0 -14.4 0M552.5 1001.9a7.2 7.2 0 1 0 14.4 0a7.2 7.2 0 1 0 -14.4 0M572.8 995.8a7.2 7.2 0 1 0 14.4 0a7.2 7.2 0 1 0 -14.4 0M546.6 1181.1a7.2 7.2 0 1 0 14.4 0a7.2 7.2 0 1 0 -14.4 0M815.1 1355.1a7.2 7.2 0 1 0 14.4 0a7.2 7.2 0 1 0 -14.4 0M557.2 1012.9a7.2 7.2 0 1 0 14.4 0a7.2 7.2 0 1 0 -14.4 0M925.3 1166.6a7.2 7.2 0 1 0 14.4 0a7.2 7.2 0 1 0 -14.4 0M949.8 1165a7.2 7.2 0 1 0 14.4 0a7.2 7.2 0 1 0 -14.4 0M864.9 905.7a7.2 7.2 0 1 0 14.4 0a7.2 7.2 0 1 0 -14.4 0M811.2 1361.2a7.2 7.2 0 1 0 14.4 0a7.2 7.2 0 1 0 -14.4 0M535.3 1026.8a7.2 7.2 0 1 0 14.4 0a7.2 7.2 0 1 0 -14.4 0M976.8 1102.8a7.2 7.2 0 1 0 14.4 0a7.2 7.2 0 1 0 -14.4 0M898 911.2a7.2 7.2 0 1 0 14.4 0a7.2 7.2 0 1 0 -14.4 0M722.2 1366.7a7.2 7.2 0 1 0 14.4 0a7.2 7.2 0 1 0 -14.4 0M855 907.7a7.2 7.2 0 1 0 14.4 0a7.2 7.2 0 1 0 -14.4 0M545.7 1102.5a7.2 7.2 0 1 0 14.4 0a7.2 7.2 0 1 0 -14.4 0M861.8 1328.5a7.2 7.2 0 1 0 14.4 0a7.2 7.2 0 1 0 -14.4 0M911.5 1249.9a7.2 7.2 0 1 0 14.4 0a7.2 7.2 0 1 0 -14.4 0M692.6 1371a7.2 7.2 0 1 0 14.4 0a7.2 7.2 0 1 0 -14.4 0M803 1346.3a7.2 7.2 0 1 0 14.4 0a7.2 7.2 0 1 0 -14.4 0M592 970.1a7.2 7.2 0 1 0 14.4 0a7.2 7.2 0 1 0 -14.4 0M945.7 1034.6a7.2 7.2 0 1 0 14.4 0a7.2 7.2 0 1 0 -14.4 0M808.9 1345.8a7.2 7.2 0 1 0 14.4 0a7.2 7.2 0 1 0 -14.4 0M688.5 1371.7a7.2 7.2 0 1 0 14.4 0a7.2 7.2 0 1 0 -14.4 0M919.4 985.1a7.2 7.2 0 1 0 14.4 0a7.2 7.2 0 1 0 -14.4 0M908.8 953.6a7.2 7.2 0 1 0 14.4 0a7.2 7.2 0 1 0 -14.4 0M941.7 1162.1a7.2 7.2 0 1 0 14.4 0a7.2 7.2 0 1 0 -14.4 0M661.4 1363.5a7.2 7.2 0 1 0 14.4 0a7.2 7.2 0 1 0 -14.4 0M845.1 862.8a7.2 7.2 0 1 0 14.4 0a7.2 7.2 0 1 0 -14.4 0M930.9 1187.4a7.2 7.2 0 1 0 14.4 0a7.2 7.2 0 1 0 -14.4 0M543.2 1252.3a7.2 7.2 0 1 0 14.4 0a7.2 7.2 0 1 0 -14.4 0M668.5 1410.1a7.2 7.2 0 1 0 14.4 0a7.2 7.2 0 1 0 -14.4 0M595.5 1373.4a7.2 7.2 0 1 0 14.4 0a7.2 7.2 0 1 0 -14.4 0M513.7 1038.6a7.2 7.2 0 1 0 14.4 0a7.2 7.2 0 1 0 -14.4 0M650.2 910.9a7.2 7.2 0 1 0 14.4 0a7.2 7.2 0 1 0 -14.4 0M772.4 1357.9a7.2 7.2 0 1 0 14.4 0a7.2 7.2 0 1 0 -14.4 0M878 922.7a7.2 7.2 0 1 0 14.4 0a7.2 7.2 0 1 0 -14.4 0M815.5 898.9a7.2 7.2 0 1 0 14.4 0a7.2 7.2 0 1 0 -14.4 0M538 1053a7.2 7.2 0 1 0 14.4 0a7.2 7.2 0 1 0 -14.4 0M837.3 888.7a7.2 7.2 0 1 0 14.4 0a7.2 7.2 0 1 0 -14.4 0M574.4 1305.8a7.2 7.2 0 1 0 14.4 0a7.2 7.2 0 1 0 -14.4 0M541 1119.2a7.2 7.2 0 1 0 14.4 0a7.2 7.2 0 1 0 -14.4 0M598.7 1331.6a7.2 7.2 0 1 0 14.4 0a7.2 7.2 0 1 0 -14.4 0M803.7 1343.9a7.2 7.2 0 1 0 14.4 0a7.2 7.2 0 1 0 -14.4 0M927.6 1015.9a7.2 7.2 0 1 0 14.4 0a7.2 7.2 0 1 0 -14.4 0M776.4 1399.5a7.2 7.2 0 1 0 14.4 0a7.2 7.2 0 1 0 -14.4 0M883.9 1299.5a7.2 7.2 0 1 0 14.4 0a7.2 7.2 0 1 0 -14.4 0M544.8 1307.5a7.2 7.2 0 1 0 14.4 0a7.2 7.2 0 1 0 -14.4 0M918.3 970.4a7.2 7.2 0 1 0 14.4 0a7.2 7.2 0 1 0 -14.4 0M632.8 1349.8a7.2 7.2 0 1 0 14.4 0a7.2 7.2 0 1 0 -14.4 0M951.4 1095.7a7.2 7.2 0 1 0 14.4 0a7.2 7.2 0 1 0 -14.4 0M955.2 1040.8a7.2 7.2 0 1 0 14.4 0a7.2 7.2 0 1 0 -14.4 0M760.2 1373.2a7.2 7.2 0 1 0 14.4 0a7.2 7.2 0 1 0 -14.4 0M812.4 889.3a7.2 7.2 0 1 0 14.4 0a7.2 7.2 0 1 0 -14.4 0M643.5 915.9a7.2 7.2 0 1 0 14.4 0a7.2 7.2 0 1 0 -14.4 0M616.3 917.5a7.2 7.2 0 1 0 14.4 0a7.2 7.2 0 1 0 -14.4 0M963.2 1068.2a7.2 7.2 0 1 0 14.4 0a7.2 7.2 0 1 0 -14.4 0M679.2 1364.8a7.2 7.2 0 1 0 14.4 0a7.2 7.2 0 1 0 -14.4 0M599.1 1343.7a7.2 7.2 0 1 0 14.4 0a7.2 7.2 0 1 0 -14.4 0M926.2 1119.4a7.2 7.2 0 1 0 14.4 0a7.2 7.2 0 1 0 -14.4 0M551.8 1206.8a7.2 7.2 0 1 0 14.4 0a7.2 7.2 0 1 0 -14.4 0M711.1 1369.6a7.2 7.2 0 1 0 14.4 0a7.2 7.2 0 1 0 -14.4 0M789.9 895.6a7.2 7.2 0 1 0 14.4 0a7.2 7.2 0 1 0 -14.4 0M945.9 1077.7a7.2 7.2 0 1 0 14.4 0a7.2 7.2 0 1 0 -14.4 0M617.2 1336.5a7.2 7.2 0 1 0 14.4 0a7.2 7.2 0 1 0 -14.4 0M961.2 990.2a7.2 7.2 0 1 0 14.4 0a7.2 7.2 0 1 0 -14.4 0M825.3 1336.7a7.2 7.2 0 1 0 14.4 0a7.2 7.2 0 1 0 -14.4 0M584 1314.7a7.2 7.2 0 1 0 14.4 0a7.2 7.2 0 1 0 -14.4 0M544.4 1118.5a7.2 7.2 0 1 0 14.4 0a7.2 7.2 0 1 0 -14.4 0M607.9 943.7a7.2 7.2 0 1 0 14.4 0a7.2 7.2 0 1 0 -14.4 0M741.7 1366.3a7.2 7.2 0 1 0 14.4 0a7.2 7.2 0 1 0 -14.4 0M709.8 1410.2a7.2 7.2 0 1 0 14.4 0a7.2 7.2 0 1 0 -14.4 0M545.5 1129.6a7.2 7.2 0 1 0 14.4 0a7.2 7.2 0 1 0 -14.4 0M820.9 1361.9a7.2 7.2 0 1 0 14.4 0a7.2 7.2 0 1 0 -14.4 0M563.3 1308.8a7.2 7.2 0 1 0 14.4 0a7.2 7.2 0 1 0 -14.4 0M837 898.7a7.2 7.2 0 1 0 14.4 0a7.2 7.2 0 1 0 -14.4 0M864 1292.5a7.2 7.2 0 1 0 14.4 0a7.2 7.2 0 1 0 -14.4 0M532.9 1238a7.2 7.2 0 1 0 14.4 0a7.2 7.2 0 1 0 -14.4 0M928.4 1147.6a7.2 7.2 0 1 0 14.4 0a7.2 7.2 0 1 0 -14.4 0M717.6 879.4a7.2 7.2 0 1 0 14.4 0a7.2 7.2 0 1 0 -14.4 0M664.9 1358.3a7.2 7.2 0 1 0 14.4 0a7.2 7.2 0 1 0 -14.4 0M606.2 1346.7a7.2 7.2 0 1 0 14.4 0a7.2 7.2 0 1 0 -14.4 0M598.5 1324.1a7.2 7.2 0 1 0 14.4 0a7.2 7.2 0 1 0 -14.4 0M763.6 896.5a7.2 7.2 0 1 0 14.4 0a7.2 7.2 0 1 0 -14.4 0M781.8 1386.1a7.2 7.2 0 1 0 14.4 0a7.2 7.2 0 1 0 -14.4 0M936.1 1112.8a7.2 7.2 0 1 0 14.4 0a7.2 7.2 0 1 0 -14.4 0M618 1349.8a7.2 7.2 0 1 0 14.4 0a7.2 7.2 0 1 0 -14.4 0M726.3 1362.9a7.2 7.2 0 1 0 14.4 0a7.2 7.2 0 1 0 -14.4 0M642.5 917a7.2 7.2 0 1 0 14.4 0a7.2 7.2 0 1 0 -14.4 0M769.5 891.6a7.2 7.2 0 1 0 14.4 0a7.2 7.2 0 1 0 -14.4 0M603.8 1319.7a7.2 7.2 0 1 0 14.4 0a7.2 7.2 0 1 0 -14.4 0M507 1094.8a7.2 7.2 0 1 0 14.4 0a7.2 7.2 0 1 0 -14.4 0M571.8 1017.2a7.2 7.2 0 1 0 14.4 0a7.2 7.2 0 1 0 -14.4 0M883.1 1275.4a7.2 7.2 0 1 0 14.4 0a7.2 7.2 0 1 0 -14.4 0M583 992a7.2 7.2 0 1 0 14.4 0a7.2 7.2 0 1 0 -14.4 0M710.2 1365.4a7.2 7.2 0 1 0 14.4 0a7.2 7.2 0 1 0 -14.4 0M705.6 867a7.2 7.2 0 1 0 14.4 0a7.2 7.2 0 1 0 -14.4 0M585.3 1299.6a7.2 7.2 0 1 0 14.4 0a7.2 7.2 0 1 0 -14.4 0M932.5 1033.5a7.2 7.2 0 1 0 14.4 0a7.2 7.2 0 1 0 -14.4 0M790.5 892.4a7.2 7.2 0 1 0 14.4 0a7.2 7.2 0 1 0 -14.4 0M581.9 984a7.2 7.2 0 1 0 14.4 0a7.2 7.2 0 1 0 -14.4 0M901 931a7.2 7.2 0 1 0 14.4 0a7.2 7.2 0 1 0 -14.4 0M830.7 900.6a7.2 7.2 0 1 0 14.4 0a7.2 7.2 0 1 0 -14.4 0M624.6 1388.2a7.2 7.2 0 1 0 14.4 0a7.2 7.2 0 1 0 -14.4 0M673.3 899.6a7.2 7.2 0 1 0 14.4 0a7.2 7.2 0 1 0 -14.4 0M695.2 1369.4a7.2 7.2 0 1 0 14.4 0a7.2 7.2 0 1 0 -14.4 0M682.5 893.7a7.2 7.2 0 1 0 14.4 0a7.2 7.2 0 1 0 -14.4 0M598.3 1315.2a7.2 7.2 0 1 0 14.4 0a7.2 7.2 0 1 0 -14.4 0M564 960.5a7.2 7.2 0 1 0 14.4 0a7.2 7.2 0 1 0 -14.4 0M885.8 1288.5a7.2 7.2 0 1 0 14.4 0a7.2 7.2 0 1 0 -14.4 0M801.2 1375.3a7.2 7.2 0 1 0 14.4 0a7.2 7.2 0 1 0 -14.4 0M927.8 996.1a7.2 7.2 0 1 0 14.4 0a7.2 7.2 0 1 0 -14.4 0M639.9 909.7a7.2 7.2 0 1 0 14.4 0a7.2 7.2 0 1 0 -14.4 0M749.8 1405.7a7.2 7.2 0 1 0 14.4 0a7.2 7.2 0 1 0 -14.4 0M731.3 1405.3a7.2 7.2 0 1 0 14.4 0a7.2 7.2 0 1 0 -14.4 0M580.3 979.3a7.2 7.2 0 1 0 14.4 0a7.2 7.2 0 1 0 -14.4 0M934.7 1056.5a7.2 7.2 0 1 0 14.4 0a7.2 7.2 0 1 0 -14.4 0M683.5 864.7a7.2 7.2 0 1 0 14.4 0a7.2 7.2 0 1 0 -14.4 0M759.2 1379.6a7.2 7.2 0 1 0 14.4 0a7.2 7.2 0 1 0 -14.4 0M903.4 946.4a7.2 7.2 0 1 0 14.4 0a7.2 7.2 0 1 0 -14.4 0M755 875.1a7.2 7.2 0 1 0 14.4 0a7.2 7.2 0 1 0 -14.4 0M938.7 1176.4a7.2 7.2 0 1 0 14.4 0a7.2 7.2 0 1 0 -14.4 0M924.1 1184.7a7.2 7.2 0 1 0 14.4 0a7.2 7.2 0 1 0 -14.4 0M550 1057.7a7.2 7.2 0 1 0 14.4 0a7.2 7.2 0 1 0 -14.4 0M793.8 882.9a7.2 7.2 0 1 0 14.4 0a7.2 7.2 0 1 0 -14.4 0M745.8 1368.1a7.2 7.2 0 1 0 14.4 0a7.2 7.2 0 1 0 -14.4 0M936.1 1101.4a7.2 7.2 0 1 0 14.4 0a7.2 7.2 0 1 0 -14.4 0M558.9 1250a7.2 7.2 0 1 0 14.4 0a7.2 7.2 0 1 0 -14.4 0M518.8 1076.4a7.2 7.2 0 1 0 14.4 0a7.2 7.2 0 1 0 -14.4 0M666.7 896.9a7.2 7.2 0 1 0 14.4 0a7.2 7.2 0 1 0 -14.4 0M644.5 897.9a7.2 7.2 0 1 0 14.4 0a7.2 7.2 0 1 0 -14.4 0M927.9 1121.4a7.2 7.2 0 1 0 14.4 0a7.2 7.2 0 1 0 -14.4 0M566.8 1280a7.2 7.2 0 1 0 14.4 0a7.2 7.2 0 1 0 -14.4 0M698.6 862.1a7.2 7.2 0 1 0 14.4 0a7.2 7.2 0 1 0 -14.4 0M596.3 975.2a7.2 7.2 0 1 0 14.4 0a7.2 7.2 0 1 0 -14.4 0M552.9 1208.3a7.2 7.2 0 1 0 14.4 0a7.2 7.2 0 1 0 -14.4 0M849.5 1306.6a7.2 7.2 0 1 0 14.4 0a7.2 7.2 0 1 0 -14.4 0M837.2 877.5a7.2 7.2 0 1 0 14.4 0a7.2 7.2 0 1 0 -14.4 0M612 932.5a7.2 7.2 0 1 0 14.4 0a7.2 7.2 0 1 0 -14.4 0M709.9 894.4a7.2 7.2 0 1 0 14.4 0a7.2 7.2 0 1 0 -14.4 0M613.1 934.3a7.2 7.2 0 1 0 14.4 0a7.2 7.2 0 1 0 -14.4 0M792.6 1357.7a7.2 7.2 0 1 0 14.4 0a7.2 7.2 0 1 0 -14.4 0M606.3 1339.5a7.2 7.2 0 1 0 14.4 0a7.2 7.2 0 1 0 -14.4 0M725.5 1368.7a7.2 7.2 0 1 0 14.4 0a7.2 7.2 0 1 0 -14.4 0M572.9 996.5a7.2 7.2 0 1 0 14.4 0a7.2 7.2 0 1 0 -14.4 0M919 1245.7a7.2 7.2 0 1 0 14.4 0a7.2 7.2 0 1 0 -14.4 0M935.6 997.6a7.2 7.2 0 1 0 14.4 0a7.2 7.2 0 1 0 -14.4 0M688.6 862.3a7.2 7.2 0 1 0 14.4 0a7.2 7.2 0 1 0 -14.4 0M550.9 1264.5a7.2 7.2 0 1 0 14.4 0a7.2 7.2 0 1 0 -14.4 0M678 889.7a7.2 7.2 0 1 0 14.4 0a7.2 7.2 0 1 0 -14.4 0M804.4 878.6a7.2 7.2 0 1 0 14.4 0a7.2 7.2 0 1 0 -14.4 0M966.2 987a7.2 7.2 0 1 0 14.4 0a7.2 7.2 0 1 0 -14.4 0M880.4 919.4a7.2 7.2 0 1 0 14.4 0a7.2 7.2 0 1 0 -14.4 0M847.4 1366.8a7.2 7.2 0 1 0 14.4 0a7.2 7.2 0 1 0 -14.4 0M642.1 913.5a7.2 7.2 0 1 0 14.4 0a7.2 7.2 0 1 0 -14.4 0M941.4 977.2a7.2 7.2 0 1 0 14.4 0a7.2 7.2 0 1 0 -14.4 0M936.4 1051.3a7.2 7.2 0 1 0 14.4 0a7.2 7.2 0 1 0 -14.4 0M816 1342.5a7.2 7.2 0 1 0 14.4 0a7.2 7.2 0 1 0 -14.4 0M920.4 1223.9a7.2 7.2 0 1 0 14.4 0a7.2 7.2 0 1 0 -14.4 0M981.7 1017a7.2 7.2 0 1 0 14.4 0a7.2 7.2 0 1 0 -14.4 0M814.1 1338.6a7.2 7.2 0 1 0 14.4 0a7.2 7.2 0 1 0 -14.4 0M553.4 1285.5a7.2 7.2 0 1 0 14.4 0a7.2 7.2 0 1 0 -14.4 0M693.9 1367.5a7.2 7.2 0 1 0 14.4 0a7.2 7.2 0 1 0 -14.4 0M860 1300.1a7.2 7.2 0 1 0 14.4 0a7.2 7.2 0 1 0 -14.4 0M815.6 898a7.2 7.2 0 1 0 14.4 0a7.2 7.2 0 1 0 -14.4 0M533.6 1164.9a7.2 7.2 0 1 0 14.4 0a7.2 7.2 0 1 0 -14.4 0M899.5 1247.3a7.2 7.2 0 1 0 14.4 0a7.2 7.2 0 1 0 -14.4 0M915.9 909.8a7.2 7.2 0 1 0 14.4 0a7.2 7.2 0 1 0 -14.4 0M620.8 1368.3a7.2 7.2 0 1 0 14.4 0a7.2 7.2 0 1 0 -14.4 0M844.3 1335a7.2 7.2 0 1 0 14.4 0a7.2 7.2 0 1 0 -14.4 0M936.5 993a7.2 7.2 0 1 0 14.4 0a7.2 7.2 0 1 0 -14.4 0M795.6 895.3a7.2 7.2 0 1 0 14.4 0a7.2 7.2 0 1 0 -14.4 0M557.3 1266.3a7.2 7.2 0 1 0 14.4 0a7.2 7.2 0 1 0 -14.4 0M694.8 1371.3a7.2 7.2 0 1 0 14.4 0a7.2 7.2 0 1 0 -14.4 0M542.8 1068.4a7.2 7.2 0 1 0 14.4 0a7.2 7.2 0 1 0 -14.4 0M738.2 1368.8a7.2 7.2 0 1 0 14.4 0a7.2 7.2 0 1 0 -14.4 0M932.6 1194.7a7.2 7.2 0 1 0 14.4 0a7.2 7.2 0 1 0 -14.4 0M935 1098.2a7.2 7.2 0 1 0 14.4 0a7.2 7.2 0 1 0 -14.4 0M948.9 973.1a7.2 7.2 0 1 0 14.4 0a7.2 7.2 0 1 0 -14.4 0M866.1 909.6a7.2 7.2 0 1 0 14.4 0a7.2 7.2 0 1 0 -14.4 0M554.7 1209.4a7.2 7.2 0 1 0 14.4 0a7.2 7.2 0 1 0 -14.4 0M704 893a7.2 7.2 0 1 0 14.4 0a7.2 7.2 0 1 0 -14.4 0M592.6 980a7.2 7.2 0 1 0 14.4 0a7.2 7.2 0 1 0 -14.4 0M828.1 870.1a7.2 7.2 0 1 0 14.4 0a7.2 7.2 0 1 0 -14.4 0M947.9 1099.5a7.2 7.2 0 1 0 14.4 0a7.2 7.2 0 1 0 -14.4 0M769.9 884.4a7.2 7.2 0 1 0 14.4 0a7.2 7.2 0 1 0 -14.4 0M648.2 851.5a7.2 7.2 0 1 0 14.4 0a7.2 7.2 0 1 0 -14.4 0M604.4 1321.3a7.2 7.2 0 1 0 14.4 0a7.2 7.2 0 1 0 -14.4 0M592.9 924.2a7.2 7.2 0 1 0 14.4 0a7.2 7.2 0 1 0 -14.4 0M730.8 840.8a7.2 7.2 0 1 0 14.4 0a7.2 7.2 0 1 0 -14.4 0M931.5 1130.2a7.2 7.2 0 1 0 14.4 0a7.2 7.2 0 1 0 -14.4 0M765.4 871.3a7.2 7.2 0 1 0 14.4 0a7.2 7.2 0 1 0 -14.4 0M937.9 1201.8a7.2 7.2 0 1 0 14.4 0a7.2 7.2 0 1 0 -14.4 0M696.7 852.9a7.2 7.2 0 1 0 14.4 0a7.2 7.2 0 1 0 -14.4 0M566.6 1312.7a7.2 7.2 0 1 0 14.4 0a7.2 7.2 0 1 0 -14.4 0M538.7 1158.8a7.2 7.2 0 1 0 14.4 0a7.2 7.2 0 1 0 -14.4 0M636.8 914.4a7.2 7.2 0 1 0 14.4 0a7.2 7.2 0 1 0 -14.4 0M855.3 900.8a7.2 7.2 0 1 0 14.4 0a7.2 7.2 0 1 0 -14.4 0M910.4 1215a7.2 7.2 0 1 0 14.4 0a7.2 7.2 0 1 0 -14.4 0M949.6 1163.7a7.2 7.2 0 1 0 14.4 0a7.2 7.2 0 1 0 -14.4 0M888.9 1270.3a7.2 7.2 0 1 0 14.4 0a7.2 7.2 0 1 0 -14.4 0M721.9 878.2a7.2 7.2 0 1 0 14.4 0a7.2 7.2 0 1 0 -14.4 0M891.9 892.8a7.2 7.2 0 1 0 14.4 0a7.2 7.2 0 1 0 -14.4 0M941.9 955.9a7.2 7.2 0 1 0 14.4 0a7.2 7.2 0 1 0 -14.4 0M589.2 976.8a7.2 7.2 0 1 0 14.4 0a7.2 7.2 0 1 0 -14.4 0M632.8 1361.3a7.2 7.2 0 1 0 14.4 0a7.2 7.2 0 1 0 -14.4 0M770.7 889.2a7.2 7.2 0 1 0 14.4 0a7.2 7.2 0 1 0 -14.4 0M536.6 1143a7.2 7.2 0 1 0 14.4 0a7.2 7.2 0 1 0 -14.4 0M778.2 892.8a7.2 7.2 0 1 0 14.4 0a7.2 7.2 0 1 0 -14.4 0M888.3 1253a7.2 7.2 0 1 0 14.4 0a7.2 7.2 0 1 0 -14.4 0M601.3 1330.6a7.2 7.2 0 1 0 14.4 0a7.2 7.2 0 1 0 -14.4 0M833 873.2a7.2 7.2 0 1 0 14.4 0a7.2 7.2 0 1 0 -14.4 0M935.9 973.3a7.2 7.2 0 1 0 14.4 0a7.2 7.2 0 1 0 -14.4 0M605.6 954.5a7.2 7.2 0 1 0 14.4 0a7.2 7.2 0 1 0 -14.4 0M547.9 1219.4a7.2 7.2 0 1 0 14.4 0a7.2 7.2 0 1 0 -14.4 0M546.9 1145.1a7.2 7.2 0 1 0 14.4 0a7.2 7.2 0 1 0 -14.4 0M550.2 1046.5a7.2 7.2 0 1 0 14.4 0a7.2 7.2 0 1 0 -14.4 0M603.8 954.7a7.2 7.2 0 1 0 14.4 0a7.2 7.2 0 1 0 -14.4 0M547.6 1122a7.2 7.2 0 1 0 14.4 0a7.2 7.2 0 1 0 -14.4 0M933.6 1054.8a7.2 7.2 0 1 0 14.4 0a7.2 7.2 0 1 0 -14.4 0M947.6 1025a7.2 7.2 0 1 0 14.4 0a7.2 7.2 0 1 0 -14.4 0M851.9 1351.5a7.2 7.2 0 1 0 14.4 0a7.2 7.2 0 1 0 -14.4 0M547.1 1133.2a7.2 7.2 0 1 0 14.4 0a7.2 7.2 0 1 0 -14.4 0M727.1 1367.9a7.2 7.2 0 1 0 14.4 0a7.2 7.2 0 1 0 -14.4 0M691 1409.7a7.2 7.2 0 1 0 14.4 0a7.2 7.2 0 1 0 -14.4 0M772.4 1376.7a7.2 7.2 0 1 0 14.4 0a7.2 7.2 0 1 0 -14.4 0M558.7 992.3a7.2 7.2 0 1 0 14.4 0a7.2 7.2 0 1 0 -14.4 0M830.5 1334.2a7.2 7.2 0 1 0 14.4 0a7.2 7.2 0 1 0 -14.4 0M927.5 1130.9a7.2 7.2 0 1 0 14.4 0a7.2 7.2 0 1 0 -14.4 0M575.7 979.2a7.2 7.2 0 1 0 14.4 0a7.2 7.2 0 1 0 -14.4 0M865.9 901.5a7.2 7.2 0 1 0 14.4 0a7.2 7.2 0 1 0 -14.4 0M712.1 1402a7.2 7.2 0 1 0 14.4 0a7.2 7.2 0 1 0 -14.4 0M695.1 852a7.2 7.2 0 1 0 14.4 0a7.2 7.2 0 1 0 -14.4 0M979.9 1094.6a7.2 7.2 0 1 0 14.4 0a7.2 7.2 0 1 0 -14.4 0M821.9 902.6a7.2 7.2 0 1 0 14.4 0a7.2 7.2 0 1 0 -14.4 0M901.5 939.6a7.2 7.2 0 1 0 14.4 0a7.2 7.2 0 1 0 -14.4 0M755.2 1361.2a7.2 7.2 0 1 0 14.4 0a7.2 7.2 0 1 0 -14.4 0M942.5 1049.5a7.2 7.2 0 1 0 14.4 0a7.2 7.2 0 1 0 -14.4 0M869.4 1296.1a7.2 7.2 0 1 0 14.4 0a7.2 7.2 0 1 0 -14.4 0M536.7 1156.5a7.2 7.2 0 1 0 14.4 0a7.2 7.2 0 1 0 -14.4 0M794.8 888.6a7.2 7.2 0 1 0 14.4 0a7.2 7.2 0 1 0 -14.4 0M691.2 1375a7.2 7.2 0 1 0 14.4 0a7.2 7.2 0 1 0 -14.4 0M873.7 919.6a7.2 7.2 0 1 0 14.4 0a7.2 7.2 0 1 0 -14.4 0M936.9 1268.7a7.2 7.2 0 1 0 14.4 0a7.2 7.2 0 1 0 -14.4 0M549.7 1056.6a7.2 7.2 0 1 0 14.4 0a7.2 7.2 0 1 0 -14.4 0M705.9 893.2a7.2 7.2 0 1 0 14.4 0a7.2 7.2 0 1 0 -14.4 0M540.5 989.2a7.2 7.2 0 1 0 14.4 0a7.2 7.2 0 1 0 -14.4 0M792.1 861.3a7.2 7.2 0 1 0 14.4 0a7.2 7.2 0 1 0 -14.4 0M592 1309.5a7.2 7.2 0 1 0 14.4 0a7.2 7.2 0 1 0 -14.4 0M539.5 1257.9a7.2 7.2 0 1 0 14.4 0a7.2 7.2 0 1 0 -14.4 0M604.5 953.5a7.2 7.2 0 1 0 14.4 0a7.2 7.2 0 1 0 -14.4 0"/>
<path fill="#A0A0A0" d="M844.8 779a7.2 7.2 0 1 0 14.4 0a7.2 7.2 0 1 0 -14.4 0M597.8 772.2a7.2 7.2 0 1 0 14.4 0a7.2 7.2 0 1 0 -14.4 0M532.5 797.2a7.2 7.2 0 1 0 14.4 0a7.2 7.2 0 1 0 -14.4 0M683.1 786.2a7.2 7.2 0 1 0 14.4 0a7.2 7.2 0 1 0 -14.4 0M655.8 800a7.2 7.2 0 1 0 14.4 0a7.2 7.2 0 1 0 -14.4 0M488.1 884.2a7.2 7.2 0 1 0 14.4 0a7.2 7.2 0 1 0 -14.4 0M530.3 874.2a7.2 7.2 0 1 0 14.4 0a7.2 7.2 0 1 0 -14.4 0M531.1 876.7a7.2 7.2 0 1 0 14.4 0a7.2 7.2 0 1 0 -14.4 0M557.5 876.7a7.2 7.2 0 1 0 14.4 0a7.2 7.2 0 1 0 -14.4 0M579 850a7.2 7.2 0 1 0 14.4 0a7.2 7.2 0 1 0 -14.4 0M599 851.3a7.2 7.2 0 1 0 14.4 0a7.2 7.2 0 1 0 -14.4 0M614 860.8a7.2 7.2 0 1 0 14.4 0a7.2 7.2 0 1 0 -14.4 0M658.1 837.5a7.2 7.2 0 1 0 14.4 0a7.2 7.2 0 1 0 -14.4 0M672 834.5a7.2 7.2 0 1 0 14.4 0a7.2 7.2 0 1 0 -14.4 0M646.6 851.3a7.2 7.2 0 1 0 14.4 0a7.2 7.2 0 1 0 -14.4 0M581.1 905.8a7.2 7.2 0 1 0 14.4 0a7.2 7.2 0 1 0 -14.4 0M536.1 915.3a7.2 7.2 0 1 0 14.4 0a7.2 7.2 0 1 0 -14.4 0M571.5 923.3a7.2 7.2 0 1 0 14.4 0a7.2 7.2 0 1 0 -14.4 0M587.5 922.5a7.2 7.2 0 1 0 14.4 0a7.2 7.2 0 1 0 -14.4 0M574.5 930a7.2 7.2 0 1 0 14.4 0a7.2 7.2 0 1 0 -14.4 0M585.3 933.3a7.2 7.2 0 1 0 14.4 0a7.2 7.2 0 1 0 -14.4 0M602.5 915a7.2 7.2 0 1 0 14.4 0a7.2 7.2 0 1 0 -14.4 0M524.8 950.8a7.2 7.2 0 1 0 14.4 0a7.2 7.2 0 1 0 -14.4 0M543.6 946.3a7.2 7.2 0 1 0 14.4 0a7.2 7.2 0 1 0 -14.4 0M562.5 947.8a7.2 7.2 0 1 0 14.4 0a7.2 7.2 0 1 0 -14.4 0M576.1 964.7a7.2 7.2 0 1 0 14.4 0a7.2 7.2 0 1 0 -14.4 0M501.1 979.2a7.2 7.2 0 1 0 14.4 0a7.2 7.2 0 1 0 -14.4 0M508.6 977.8a7.2 7.2 0 1 0 14.4 0a7.2 7.2 0 1 0 -14.4 0M472 1002.5a7.2 7.2 0 1 0 14.4 0a7.2 7.2 0 1 0 -14.4 0M411.5 1018a7.2 7.2 0 1 0 14.4 0a7.2 7.2 0 1 0 -14.4 0M529.5 975a7.2 7.2 0 1 0 14.4 0a7.2 7.2 0 1 0 -14.4 0M531.1 995.8a7.2 7.2 0 1 0 14.4 0a7.2 7.2 0 1 0 -14.4 0M517.8 1020a7.2 7.2 0 1 0 14.4 0a7.2 7.2 0 1 0 -14.4 0M499.5 1030.8a7.2 7.2 0 1 0 14.4 0a7.2 7.2 0 1 0 -14.4 0M486.1 1055.8a7.2 7.2 0 1 0 14.4 0a7.2 7.2 0 1 0 -14.4 0M500.8 1055a7.2 7.2 0 1 0 14.4 0a7.2 7.2 0 1 0 -14.4 0M709.5 805a7.2 7.2 0 1 0 14.4 0a7.2 7.2 0 1 0 -14.4 0M744.8 789.2a7.2 7.2 0 1 0 14.4 0a7.2 7.2 0 1 0 -14.4 0M772.8 791.7a7.2 7.2 0 1 0 14.4 0a7.2 7.2 0 1 0 -14.4 0M653.6 800.8a7.2 7.2 0 1 0 14.4 0a7.2 7.2 0 1 0 -14.4 0M657.8 836.7a7.2 7.2 0 1 0 14.4 0a7.2 7.2 0 1 0 -14.4 0M672 835a7.2 7.2 0 1 0 14.4 0a7.2 7.2 0 1 0 -14.4 0M699.5 824.2a7.2 7.2 0 1 0 14.4 0a7.2 7.2 0 1 0 -14.4 0M702 832.5a7.2 7.2 0 1 0 14.4 0a7.2 7.2 0 1 0 -14.4 0M696.1 839.2a7.2 7.2 0 1 0 14.4 0a7.2 7.2 0 1 0 -14.4 0M726.1 820a7.2 7.2 0 1 0 14.4 0a7.2 7.2 0 1 0 -14.4 0M734.5 818.3a7.2 7.2 0 1 0 14.4 0a7.2 7.2 0 1 0 -14.4 0M739.5 823.3a7.2 7.2 0 1 0 14.4 0a7.2 7.2 0 1 0 -14.4 0M749.5 821.7a7.2 7.2 0 1 0 14.4 0a7.2 7.2 0 1 0 -14.4 0M760.3 815a7.2 7.2 0 1 0 14.4 0a7.2 7.2 0 1 0 -14.4 0M783.6 813.3a7.2 7.2 0 1 0 14.4 0a7.2 7.2 0 1 0 -14.4 0M781.1 826.7a7.2 7.2 0 1 0 14.4 0a7.2 7.2 0 1 0 -14.4 0M785.3 839.2a7.2 7.2 0 1 0 14.4 0a7.2 7.2 0 1 0 -14.4 0M796.1 824.2a7.2 7.2 0 1 0 14.4 0a7.2 7.2 0 1 0 -14.4 0M806.1 831.7a7.2 7.2 0 1 0 14.4 0a7.2 7.2 0 1 0 -14.4 0M810.3 814.2a7.2 7.2 0 1 0 14.4 0a7.2 7.2 0 1 0 -14.4 0M829.5 808.3a7.2 7.2 0 1 0 14.4 0a7.2 7.2 0 1 0 -14.4 0M847.8 820.8a7.2 7.2 0 1 0 14.4 0a7.2 7.2 0 1 0 -14.4 0M849.5 783.3a7.2 7.2 0 1 0 14.4 0a7.2 7.2 0 1 0 -14.4 0M854.5 791.7a7.2 7.2 0 1 0 14.4 0a7.2 7.2 0 1 0 -14.4 0M849.5 798.3a7.2 7.2 0 1 0 14.4 0a7.2 7.2 0 1 0 -14.4 0M902.8 796.7a7.2 7.2 0 1 0 14.4 0a7.2 7.2 0 1 0 -14.4 0M906.1 780a7.2 7.2 0 1 0 14.4 0a7.2 7.2 0 1 0 -14.4 0M890.3 816.7a7.2 7.2 0 1 0 14.4 0a7.2 7.2 0 1 0 -14.4 0M916.1 815.8a7.2 7.2 0 1 0 14.4 0a7.2 7.2 0 1 0 -14.4 0M877 828.3a7.2 7.2 0 1 0 14.4 0a7.2 7.2 0 1 0 -14.4 0M909.5 846.7a7.2 7.2 0 1 0 14.4 0a7.2 7.2 0 1 0 -14.4 0M923.6 853.3a7.2 7.2 0 1 0 14.4 0a7.2 7.2 0 1 0 -14.4 0M877.8 845a7.2 7.2 0 1 0 14.4 0a7.2 7.2 0 1 0 -14.4 0M881.1 850a7.2 7.2 0 1 0 14.4 0a7.2 7.2 0 1 0 -14.4 0M854.5 843.3a7.2 7.2 0 1 0 14.4 0a7.2 7.2 0 1 0 -14.4 0M832.8 835a7.2 7.2 0 1 0 14.4 0a7.2 7.2 0 1 0 -14.4 0M829.5 850a7.2 7.2 0 1 0 14.4 0a7.2 7.2 0 1 0 -14.4 0M807.8 840a7.2 7.2 0 1 0 14.4 0a7.2 7.2 0 1 0 -14.4 0M816.1 846.7a7.2 7.2 0 1 0 14.4 0a7.2 7.2 0 1 0 -14.4 0M764.5 835a7.2 7.2 0 1 0 14.4 0a7.2 7.2 0 1 0 -14.4 0M767.8 843.3a7.2 7.2 0 1 0 14.4 0a7.2 7.2 0 1 0 -14.4 0M774.5 855a7.2 7.2 0 1 0 14.4 0a7.2 7.2 0 1 0 -14.4 0M779.5 855a7.2 7.2 0 1 0 14.4 0a7.2 7.2 0 1 0 -14.4 0M732.8 850a7.2 7.2 0 1 0 14.4 0a7.2 7.2 0 1 0 -14.4 0M739.5 855a7.2 7.2 0 1 0 14.4 0a7.2 7.2 0 1 0 -14.4 0M719.5 838.3a7.2 7.2 0 1 0 14.4 0a7.2 7.2 0 1 0 -14.4 0M707.8 855a7.2 7.2 0 1 0 14.4 0a7.2 7.2 0 1 0 -14.4 0M681.1 856.7a7.2 7.2 0 1 0 14.4 0a7.2 7.2 0 1 0 -14.4 0M684.5 870a7.2 7.2 0 1 0 14.4 0a7.2 7.2 0 1 0 -14.4 0M646.1 851.7a7.2 7.2 0 1 0 14.4 0a7.2 7.2 0 1 0 -14.4 0M637.8 860a7.2 7.2 0 1 0 14.4 0a7.2 7.2 0 1 0 -14.4 0M656.1 863.3a7.2 7.2 0 1 0 14.4 0a7.2 7.2 0 1 0 -14.4 0M662.8 871.7a7.2 7.2 0 1 0 14.4 0a7.2 7.2 0 1 0 -14.4 0M848.1 739.5a7.2 7.2 0 1 0 14.4 0a7.2 7.2 0 1 0 -14.4 0M754 775a7.2 7.2 0 1 0 14.4 0a7.2 7.2 0 1 0 -14.4 0M904.5 775a7.2 7.2 0 1 0 14.4 0a7.2 7.2 0 1 0 -14.4 0M906.1 779.2a7.2 7.2 0 1 0 14.4 0a7.2 7.2 0 1 0 -14.4 0M902 796.7a7.2 7.2 0 1 0 14.4 0a7.2 7.2 0 1 0 -14.4 0M752.8 775a7.2 7.2 0 1 0 14.4 0a7.2 7.2 0 1 0 -14.4 0M962.8 810a7.2 7.2 0 1 0 14.4 0a7.2 7.2 0 1 0 -14.4 0M997.8 845a7.2 7.2 0 1 0 14.4 0a7.2 7.2 0 1 0 -14.4 0M1002.8 965a7.2 7.2 0 1 0 14.4 0a7.2 7.2 0 1 0 -14.4 0M472 1003.3a7.2 7.2 0 1 0 14.4 0a7.2 7.2 0 1 0 -14.4 0M499.5 1030.8a7.2 7.2 0 1 0 14.4 0a7.2 7.2 0 1 0 -14.4 0M510.3 1035.8a7.2 7.2 0 1 0 14.4 0a7.2 7.2 0 1 0 -14.4 0M519.5 1040a7.2 7.2 0 1 0 14.4 0a7.2 7.2 0 1 0 -14.4 0M517 1019.7a7.2 7.2 0 1 0 14.4 0a7.2 7.2 0 1 0 -14.4 0M526.1 1015.8a7.2 7.2 0 1 0 14.4 0a7.2 7.2 0 1 0 -14.4 0M534.5 1010a7.2 7.2 0 1 0 14.4 0a7.2 7.2 0 1 0 -14.4 0M527.8 1032.5a7.2 7.2 0 1 0 14.4 0a7.2 7.2 0 1 0 -14.4 0M537.8 1022.5a7.2 7.2 0 1 0 14.4 0a7.2 7.2 0 1 0 -14.4 0M485.3 1058.3a7.2 7.2 0 1 0 14.4 0a7.2 7.2 0 1 0 -14.4 0M501.1 1056.7a7.2 7.2 0 1 0 14.4 0a7.2 7.2 0 1 0 -14.4 0M516.1 1050a7.2 7.2 0 1 0 14.4 0a7.2 7.2 0 1 0 -14.4 0M526.1 1048.3a7.2 7.2 0 1 0 14.4 0a7.2 7.2 0 1 0 -14.4 0M517 1063.3a7.2 7.2 0 1 0 14.4 0a7.2 7.2 0 1 0 -14.4 0M435.3 1073.3a7.2 7.2 0 1 0 14.4 0a7.2 7.2 0 1 0 -14.4 0M451.1 1072.5a7.2 7.2 0 1 0 14.4 0a7.2 7.2 0 1 0 -14.4 0M487 1073.3a7.2 7.2 0 1 0 14.4 0a7.2 7.2 0 1 0 -14.4 0M497.8 1083.3a7.2 7.2 0 1 0 14.4 0a7.2 7.2 0 1 0 -14.4 0M512 1077.5a7.2 7.2 0 1 0 14.4 0a7.2 7.2 0 1 0 -14.4 0M479.5 1091.3a7.2 7.2 0 1 0 14.4 0a7.2 7.2 0 1 0 -14.4 0M464.5 1086.7a7.2 7.2 0 1 0 14.4 0a7.2 7.2 0 1 0 -14.4 0M437.8 1104.2a7.2 7.2 0 1 0 14.4 0a7.2 7.2 0 1 0 -14.4 0M442.8 1102.5a7.2 7.2 0 1 0 14.4 0a7.2 7.2 0 1 0 -14.4 0M457.8 1104.2a7.2 7.2 0 1 0 14.4 0a7.2 7.2 0 1 0 -14.4 0M482.8 1111.7a7.2 7.2 0 1 0 14.4 0a7.2 7.2 0 1 0 -14.4 0M461.1 1120a7.2 7.2 0 1 0 14.4 0a7.2 7.2 0 1 0 -14.4 0M464.5 1116.7a7.2 7.2 0 1 0 14.4 0a7.2 7.2 0 1 0 -14.4 0M500.3 1115a7.2 7.2 0 1 0 14.4 0a7.2 7.2 0 1 0 -14.4 0M512.8 1093.3a7.2 7.2 0 1 0 14.4 0a7.2 7.2 0 1 0 -14.4 0M524.5 1098.3a7.2 7.2 0 1 0 14.4 0a7.2 7.2 0 1 0 -14.4 0M497.8 1123.3a7.2 7.2 0 1 0 14.4 0a7.2 7.2 0 1 0 -14.4 0M516.1 1116.7a7.2 7.2 0 1 0 14.4 0a7.2 7.2 0 1 0 -14.4 0M480.3 1130a7.2 7.2 0 1 0 14.4 0a7.2 7.2 0 1 0 -14.4 0M467.8 1135a7.2 7.2 0 1 0 14.4 0a7.2 7.2 0 1 0 -14.4 0M472.8 1143.3a7.2 7.2 0 1 0 14.4 0a7.2 7.2 0 1 0 -14.4 0M472 1149.2a7.2 7.2 0 1 0 14.4 0a7.2 7.2 0 1 0 -14.4 0M494.5 1136.7a7.2 7.2 0 1 0 14.4 0a7.2 7.2 0 1 0 -14.4 0M499.5 1145a7.2 7.2 0 1 0 14.4 0a7.2 7.2 0 1 0 -14.4 0M454.1 1156.7a7.2 7.2 0 1 0 14.4 0a7.2 7.2 0 1 0 -14.4 0M422.8 1168.7a7.2 7.2 0 1 0 14.4 0a7.2 7.2 0 1 0 -14.4 0M429.5 1168.7a7.2 7.2 0 1 0 14.4 0a7.2 7.2 0 1 0 -14.4 0M501.1 1166.7a7.2 7.2 0 1 0 14.4 0a7.2 7.2 0 1 0 -14.4 0M506.1 1165a7.2 7.2 0 1 0 14.4 0a7.2 7.2 0 1 0 -14.4 0M460.8 1177a7.2 7.2 0 1 0 14.4 0a7.2 7.2 0 1 0 -14.4 0M469.8 1180a7.2 7.2 0 1 0 14.4 0a7.2 7.2 0 1 0 -14.4 0M479.8 1178a7.2 7.2 0 1 0 14.4 0a7.2 7.2 0 1 0 -14.4 0M487.8 1178a7.2 7.2 0 1 0 14.4 0a7.2 7.2 0 1 0 -14.4 0M495.8 1180a7.2 7.2 0 1 0 14.4 0a7.2 7.2 0 1 0 -14.4 0M482 1206.7a7.2 7.2 0 1 0 14.4 0a7.2 7.2 0 1 0 -14.4 0M519.5 1205a7.2 7.2 0 1 0 14.4 0a7.2 7.2 0 1 0 -14.4 0M516.1 1200a7.2 7.2 0 1 0 14.4 0a7.2 7.2 0 1 0 -14.4 0M470.3 1222.2a7.2 7.2 0 1 0 14.4 0a7.2 7.2 0 1 0 -14.4 0M506.1 1224.2a7.2 7.2 0 1 0 14.4 0a7.2 7.2 0 1 0 -14.4 0M505.3 1236.7a7.2 7.2 0 1 0 14.4 0a7.2 7.2 0 1 0 -14.4 0M503.6 1250a7.2 7.2 0 1 0 14.4 0a7.2 7.2 0 1 0 -14.4 0M452.8 1235a7.2 7.2 0 1 0 14.4 0a7.2 7.2 0 1 0 -14.4 0M441.5 1239.2a7.2 7.2 0 1 0 14.4 0a7.2 7.2 0 1 0 -14.4 0M467 1246.7a7.2 7.2 0 1 0 14.4 0a7.2 7.2 0 1 0 -14.4 0M457.8 1256.7a7.2 7.2 0 1 0 14.4 0a7.2 7.2 0 1 0 -14.4 0M420.3 1251.7a7.2 7.2 0 1 0 14.4 0a7.2 7.2 0 1 0 -14.4 0M467.8 1266.7a7.2 7.2 0 1 0 14.4 0a7.2 7.2 0 1 0 -14.4 0M474.5 1267.5a7.2 7.2 0 1 0 14.4 0a7.2 7.2 0 1 0 -14.4 0M516.1 1263.3a7.2 7.2 0 1 0 14.4 0a7.2 7.2 0 1 0 -14.4 0M523.6 1256.7a7.2 7.2 0 1 0 14.4 0a7.2 7.2 0 1 0 -14.4 0M524.5 1270.8a7.2 7.2 0 1 0 14.4 0a7.2 7.2 0 1 0 -14.4 0M527.8 1221.7a7.2 7.2 0 1 0 14.4 0a7.2 7.2 0 1 0 -14.4 0M537.8 1236.7a7.2 7.2 0 1 0 14.4 0a7.2 7.2 0 1 0 -14.4 0M539.5 1228.3a7.2 7.2 0 1 0 14.4 0a7.2 7.2 0 1 0 -14.4 0M432.8 1287.5a7.2 7.2 0 1 0 14.4 0a7.2 7.2 0 1 0 -14.4 0M489.5 1293.3a7.2 7.2 0 1 0 14.4 0a7.2 7.2 0 1 0 -14.4 0M512 1288.3a7.2 7.2 0 1 0 14.4 0a7.2 7.2 0 1 0 -14.4 0M335.7 1128.9a7.2 7.2 0 1 0 14.4 0a7.2 7.2 0 1 0 -14.4 0M387.7 1212.9a7.2 7.2 0 1 0 14.4 0a7.2 7.2 0 1 0 -14.4 0M420.1 1251.8a7.2 7.2 0 1 0 14.4 0a7.2 7.2 0 1 0 -14.4 0M381 1273.8a7.2 7.2 0 1 0 14.4 0a7.2 7.2 0 1 0 -14.4 0M432.8 1287.3a7.2 7.2 0 1 0 14.4 0a7.2 7.2 0 1 0 -14.4 0M413.9 1346.7a7.2 7.2 0 1 0 14.4 0a7.2 7.2 0 1 0 -14.4 0M477.9 1346.7a7.2 7.2 0 1 0 14.4 0a7.2 7.2 0 1 0 -14.4 0M441.7 1322.7a7.2 7.2 0 1 0 14.4 0a7.2 7.2 0 1 0 -14.4 0M451.7 1320a7.2 7.2 0 1 0 14.4 0a7.2 7.2 0 1 0 -14.4 0M457.2 1326.7a7.2 7.2 0 1 0 14.4 0a7.2 7.2 0 1 0 -14.4 0M499.5 1329.6a7.2 7.2 0 1 0 14.4 0a7.2 7.2 0 1 0 -14.4 0M965.8 885.5a7.2 7.2 0 1 0 14.4 0a7.2 7.2 0 1 0 -14.4 0M959.8 885.5a7.2 7.2 0 1 0 14.4 0a7.2 7.2 0 1 0 -14.4 0M968.8 893a7.2 7.2 0 1 0 14.4 0a7.2 7.2 0 1 0 -14.4 0M984.5 898.3a7.2 7.2 0 1 0 14.4 0a7.2 7.2 0 1 0 -14.4 0M923.8 891.5a7.2 7.2 0 1 0 14.4 0a7.2 7.2 0 1 0 -14.4 0M929.8 888.5a7.2 7.2 0 1 0 14.4 0a7.2 7.2 0 1 0 -14.4 0M946.3 908a7.2 7.2 0 1 0 14.4 0a7.2 7.2 0 1 0 -14.4 0M952.3 915.5a7.2 7.2 0 1 0 14.4 0a7.2 7.2 0 1 0 -14.4 0M977.8 915.5a7.2 7.2 0 1 0 14.4 0a7.2 7.2 0 1 0 -14.4 0M981.5 927.5a7.2 7.2 0 1 0 14.4 0a7.2 7.2 0 1 0 -14.4 0M986.8 918.5a7.2 7.2 0 1 0 14.4 0a7.2 7.2 0 1 0 -14.4 0M964.3 932a7.2 7.2 0 1 0 14.4 0a7.2 7.2 0 1 0 -14.4 0M959.8 936.5a7.2 7.2 0 1 0 14.4 0a7.2 7.2 0 1 0 -14.4 0M989 945.5a7.2 7.2 0 1 0 14.4 0a7.2 7.2 0 1 0 -14.4 0M1001.8 941a7.2 7.2 0 1 0 14.4 0a7.2 7.2 0 1 0 -14.4 0M946.3 944a7.2 7.2 0 1 0 14.4 0a7.2 7.2 0 1 0 -14.4 0M952.3 950a7.2 7.2 0 1 0 14.4 0a7.2 7.2 0 1 0 -14.4 0M964.3 951.5a7.2 7.2 0 1 0 14.4 0a7.2 7.2 0 1 0 -14.4 0M1002.5 965.5a7.2 7.2 0 1 0 14.4 0a7.2 7.2 0 1 0 -14.4 0M947.8 969.5a7.2 7.2 0 1 0 14.4 0a7.2 7.2 0 1 0 -14.4 0M963.5 977.7a7.2 7.2 0 1 0 14.4 0a7.2 7.2 0 1 0 -14.4 0M961.3 984.5a7.2 7.2 0 1 0 14.4 0a7.2 7.2 0 1 0 -14.4 0M989 989a7.2 7.2 0 1 0 14.4 0a7.2 7.2 0 1 0 -14.4 0M986.8 998a7.2 7.2 0 1 0 14.4 0a7.2 7.2 0 1 0 -14.4 0M967.3 998a7.2 7.2 0 1 0 14.4 0a7.2 7.2 0 1 0 -14.4 0M947.8 1006a7.2 7.2 0 1 0 14.4 0a7.2 7.2 0 1 0 -14.4 0M961.3 1016a7.2 7.2 0 1 0 14.4 0a7.2 7.2 0 1 0 -14.4 0M973.3 1007a7.2 7.2 0 1 0 14.4 0a7.2 7.2 0 1 0 -14.4 0M980.8 1017.5a7.2 7.2 0 1 0 14.4 0a7.2 7.2 0 1 0 -14.4 0M947.8 1032.5a7.2 7.2 0 1 0 14.4 0a7.2 7.2 0 1 0 -14.4 0M961.3 1037a7.2 7.2 0 1 0 14.4 0a7.2 7.2 0 1 0 -14.4 0M982.3 1044.5a7.2 7.2 0 1 0 14.4 0a7.2 7.2 0 1 0 -14.4 0M968.8 1049a7.2 7.2 0 1 0 14.4 0a7.2 7.2 0 1 0 -14.4 0M1012.3 1050.5a7.2 7.2 0 1 0 14.4 0a7.2 7.2 0 1 0 -14.4 0M1000.3 1059.5a7.2 7.2 0 1 0 14.4 0a7.2 7.2 0 1 0 -14.4 0M980.8 1064a7.2 7.2 0 1 0 14.4 0a7.2 7.2 0 1 0 -14.4 0M965.8 1073a7.2 7.2 0 1 0 14.4 0a7.2 7.2 0 1 0 -14.4 0M980.8 1079a7.2 7.2 0 1 0 14.4 0a7.2 7.2 0 1 0 -14.4 0M947.8 1083.5a7.2 7.2 0 1 0 14.4 0a7.2 7.2 0 1 0 -14.4 0M959.8 1091a7.2 7.2 0 1 0 14.4 0a7.2 7.2 0 1 0 -14.4 0M971.8 1094a7.2 7.2 0 1 0 14.4 0a7.2 7.2 0 1 0 -14.4 0M967.3 1106a7.2 7.2 0 1 0 14.4 0a7.2 7.2 0 1 0 -14.4 0M989 1107.5a7.2 7.2 0 1 0 14.4 0a7.2 7.2 0 1 0 -14.4 0M961.3 1115a7.2 7.2 0 1 0 14.4 0a7.2 7.2 0 1 0 -14.4 0M946.3 1098.5a7.2 7.2 0 1 0 14.4 0a7.2 7.2 0 1 0 -14.4 0M1003.2 965.6a7.2 7.2 0 1 0 14.4 0a7.2 7.2 0 1 0 -14.4 0M1057.4 1173.9a7.2 7.2 0 1 0 14.4 0a7.2 7.2 0 1 0 -14.4 0M989.5 1107.5a7.2 7.2 0 1 0 14.4 0a7.2 7.2 0 1 0 -14.4 0M976.1 1103.3a7.2 7.2 0 1 0 14.4 0a7.2 7.2 0 1 0 -14.4 0M964.5 1116.7a7.2 7.2 0 1 0 14.4 0a7.2 7.2 0 1 0 -14.4 0M986.1 1145a7.2 7.2 0 1 0 14.4 0a7.2 7.2 0 1 0 -14.4 0M991.1 1150a7.2 7.2 0 1 0 14.4 0a7.2 7.2 0 1 0 -14.4 0M959.5 1155a7.2 7.2 0 1 0 14.4 0a7.2 7.2 0 1 0 -14.4 0M967.8 1155a7.2 7.2 0 1 0 14.4 0a7.2 7.2 0 1 0 -14.4 0M966.1 1165a7.2 7.2 0 1 0 14.4 0a7.2 7.2 0 1 0 -14.4 0M974.5 1171.7a7.2 7.2 0 1 0 14.4 0a7.2 7.2 0 1 0 -14.4 0M982.8 1170a7.2 7.2 0 1 0 14.4 0a7.2 7.2 0 1 0 -14.4 0M991.1 1168.3a7.2 7.2 0 1 0 14.4 0a7.2 7.2 0 1 0 -14.4 0M997 1181.7a7.2 7.2 0 1 0 14.4 0a7.2 7.2 0 1 0 -14.4 0M1057.8 1173.3a7.2 7.2 0 1 0 14.4 0a7.2 7.2 0 1 0 -14.4 0M1022.8 1178.3a7.2 7.2 0 1 0 14.4 0a7.2 7.2 0 1 0 -14.4 0M957 1205a7.2 7.2 0 1 0 14.4 0a7.2 7.2 0 1 0 -14.4 0M963.6 1210a7.2 7.2 0 1 0 14.4 0a7.2 7.2 0 1 0 -14.4 0M929.5 1216.7a7.2 7.2 0 1 0 14.4 0a7.2 7.2 0 1 0 -14.4 0M937.8 1220a7.2 7.2 0 1 0 14.4 0a7.2 7.2 0 1 0 -14.4 0M942.8 1223.3a7.2 7.2 0 1 0 14.4 0a7.2 7.2 0 1 0 -14.4 0M946.1 1230a7.2 7.2 0 1 0 14.4 0a7.2 7.2 0 1 0 -14.4 0M932.8 1235a7.2 7.2 0 1 0 14.4 0a7.2 7.2 0 1 0 -14.4 0M951.1 1246.7a7.2 7.2 0 1 0 14.4 0a7.2 7.2 0 1 0 -14.4 0M956.1 1250a7.2 7.2 0 1 0 14.4 0a7.2 7.2 0 1 0 -14.4 0M976.1 1255a7.2 7.2 0 1 0 14.4 0a7.2 7.2 0 1 0 -14.4 0M926.1 1250a7.2 7.2 0 1 0 14.4 0a7.2 7.2 0 1 0 -14.4 0M924.5 1263.3a7.2 7.2 0 1 0 14.4 0a7.2 7.2 0 1 0 -14.4 0M922.8 1266.7a7.2 7.2 0 1 0 14.4 0a7.2 7.2 0 1 0 -14.4 0M932.8 1281.7a7.2 7.2 0 1 0 14.4 0a7.2 7.2 0 1 0 -14.4 0M912.8 1285a7.2 7.2 0 1 0 14.4 0a7.2 7.2 0 1 0 -14.4 0M912 1295a7.2 7.2 0 1 0 14.4 0a7.2 7.2 0 1 0 -14.4 0M896.1 1308.3a7.2 7.2 0 1 0 14.4 0a7.2 7.2 0 1 0 -14.4 0M886.1 1295a7.2 7.2 0 1 0 14.4 0a7.2 7.2 0 1 0 -14.4 0M936.1 1300.8a7.2 7.2 0 1 0 14.4 0a7.2 7.2 0 1 0 -14.4 0M959.5 1305.8a7.2 7.2 0 1 0 14.4 0a7.2 7.2 0 1 0 -14.4 0M986.1 1300a7.2 7.2 0 1 0 14.4 0a7.2 7.2 0 1 0 -14.4 0M969.5 1326.7a7.2 7.2 0 1 0 14.4 0a7.2 7.2 0 1 0 -14.4 0M976.1 1333.3a7.2 7.2 0 1 0 14.4 0a7.2 7.2 0 1 0 -14.4 0M999.5 1340a7.2 7.2 0 1 0 14.4 0a7.2 7.2 0 1 0 -14.4 0M921.1 1355a7.2 7.2 0 1 0 14.4 0a7.2 7.2 0 1 0 -14.4 0M919.5 1370a7.2 7.2 0 1 0 14.4 0a7.2 7.2 0 1 0 -14.4 0M933.6 1368.3a7.2 7.2 0 1 0 14.4 0a7.2 7.2 0 1 0 -14.4 0M899.5 1393.3a7.2 7.2 0 1 0 14.4 0a7.2 7.2 0 1 0 -14.4 0M926.1 1266.7a7.2 7.2 0 1 0 14.4 0a7.2 7.2 0 1 0 -14.4 0M931.1 1283.3a7.2 7.2 0 1 0 14.4 0a7.2 7.2 0 1 0 -14.4 0M931.1 1300a7.2 7.2 0 1 0 14.4 0a7.2 7.2 0 1 0 -14.4 0M912.8 1285a7.2 7.2 0 1 0 14.4 0a7.2 7.2 0 1 0 -14.4 0M912.8 1295a7.2 7.2 0 1 0 14.4 0a7.2 7.2 0 1 0 -14.4 0M898.6 1271.7a7.2 7.2 0 1 0 14.4 0a7.2 7.2 0 1 0 -14.4 0M886.1 1295a7.2 7.2 0 1 0 14.4 0a7.2 7.2 0 1 0 -14.4 0M896.1 1307.5a7.2 7.2 0 1 0 14.4 0a7.2 7.2 0 1 0 -14.4 0M866.1 1310a7.2 7.2 0 1 0 14.4 0a7.2 7.2 0 1 0 -14.4 0M869.5 1303.3a7.2 7.2 0 1 0 14.4 0a7.2 7.2 0 1 0 -14.4 0M931.1 1336.7a7.2 7.2 0 1 0 14.4 0a7.2 7.2 0 1 0 -14.4 0M874.5 1351.7a7.2 7.2 0 1 0 14.4 0a7.2 7.2 0 1 0 -14.4 0M856.1 1346.7a7.2 7.2 0 1 0 14.4 0a7.2 7.2 0 1 0 -14.4 0M921.1 1357.5a7.2 7.2 0 1 0 14.4 0a7.2 7.2 0 1 0 -14.4 0M919.5 1371.7a7.2 7.2 0 1 0 14.4 0a7.2 7.2 0 1 0 -14.4 0M931.1 1368.3a7.2 7.2 0 1 0 14.4 0a7.2 7.2 0 1 0 -14.4 0M807.8 1355a7.2 7.2 0 1 0 14.4 0a7.2 7.2 0 1 0 -14.4 0M819.5 1365a7.2 7.2 0 1 0 14.4 0a7.2 7.2 0 1 0 -14.4 0M832.8 1363.3a7.2 7.2 0 1 0 14.4 0a7.2 7.2 0 1 0 -14.4 0M839.5 1373.3a7.2 7.2 0 1 0 14.4 0a7.2 7.2 0 1 0 -14.4 0M857 1370.8a7.2 7.2 0 1 0 14.4 0a7.2 7.2 0 1 0 -14.4 0M864.5 1379.2a7.2 7.2 0 1 0 14.4 0a7.2 7.2 0 1 0 -14.4 0M859.5 1389.2a7.2 7.2 0 1 0 14.4 0a7.2 7.2 0 1 0 -14.4 0M867.8 1398.3a7.2 7.2 0 1 0 14.4 0a7.2 7.2 0 1 0 -14.4 0M899.5 1391.7a7.2 7.2 0 1 0 14.4 0a7.2 7.2 0 1 0 -14.4 0M906.1 1404.2a7.2 7.2 0 1 0 14.4 0a7.2 7.2 0 1 0 -14.4 0M912.8 1420a7.2 7.2 0 1 0 14.4 0a7.2 7.2 0 1 0 -14.4 0M797.8 1371.7a7.2 7.2 0 1 0 14.4 0a7.2 7.2 0 1 0 -14.4 0M779.5 1380.8a7.2 7.2 0 1 0 14.4 0a7.2 7.2 0 1 0 -14.4 0M789.5 1381.7a7.2 7.2 0 1 0 14.4 0a7.2 7.2 0 1 0 -14.4 0M769.5 1393.3a7.2 7.2 0 1 0 14.4 0a7.2 7.2 0 1 0 -14.4 0M749.5 1396.7a7.2 7.2 0 1 0 14.4 0a7.2 7.2 0 1 0 -14.4 0M741.1 1403.3a7.2 7.2 0 1 0 14.4 0a7.2 7.2 0 1 0 -14.4 0M801.1 1413.3a7.2 7.2 0 1 0 14.4 0a7.2 7.2 0 1 0 -14.4 0M800.3 1423.3a7.2 7.2 0 1 0 14.4 0a7.2 7.2 0 1 0 -14.4 0M838.1 1412a7.2 7.2 0 1 0 14.4 0a7.2 7.2 0 1 0 -14.4 0M828.1 1426.3a7.2 7.2 0 1 0 14.4 0a7.2 7.2 0 1 0 -14.4 0M758.6 1420a7.2 7.2 0 1 0 14.4 0a7.2 7.2 0 1 0 -14.4 0M742.8 1416.7a7.2 7.2 0 1 0 14.4 0a7.2 7.2 0 1 0 -14.4 0M734.8 1428a7.2 7.2 0 1 0 14.4 0a7.2 7.2 0 1 0 -14.4 0M711.1 1410a7.2 7.2 0 1 0 14.4 0a7.2 7.2 0 1 0 -14.4 0M698.6 1420a7.2 7.2 0 1 0 14.4 0a7.2 7.2 0 1 0 -14.4 0M712.8 1414.2a7.2 7.2 0 1 0 14.4 0a7.2 7.2 0 1 0 -14.4 0M719.5 1405a7.2 7.2 0 1 0 14.4 0a7.2 7.2 0 1 0 -14.4 0M656.1 1409.2a7.2 7.2 0 1 0 14.4 0a7.2 7.2 0 1 0 -14.4 0M667.8 1410.8a7.2 7.2 0 1 0 14.4 0a7.2 7.2 0 1 0 -14.4 0M657 1424.7a7.2 7.2 0 1 0 14.4 0a7.2 7.2 0 1 0 -14.4 0M636.1 1398.3a7.2 7.2 0 1 0 14.4 0a7.2 7.2 0 1 0 -14.4 0M637.8 1410.8a7.2 7.2 0 1 0 14.4 0a7.2 7.2 0 1 0 -14.4 0M634.5 1423.3a7.2 7.2 0 1 0 14.4 0a7.2 7.2 0 1 0 -14.4 0M666.1 1443.3a7.2 7.2 0 1 0 14.4 0a7.2 7.2 0 1 0 -14.4 0M668.3 1455.8a7.2 7.2 0 1 0 14.4 0a7.2 7.2 0 1 0 -14.4 0M711.1 1448a7.2 7.2 0 1 0 14.4 0a7.2 7.2 0 1 0 -14.4 0M795.3 1443.3a7.2 7.2 0 1 0 14.4 0a7.2 7.2 0 1 0 -14.4 0M788.6 1449.7a7.2 7.2 0 1 0 14.4 0a7.2 7.2 0 1 0 -14.4 0M815.6 1452.5a7.2 7.2 0 1 0 14.4 0a7.2 7.2 0 1 0 -14.4 0M833.6 1463.3a7.2 7.2 0 1 0 14.4 0a7.2 7.2 0 1 0 -14.4 0M835.3 1475a7.2 7.2 0 1 0 14.4 0a7.2 7.2 0 1 0 -14.4 0M858.3 1457.2a7.2 7.2 0 1 0 14.4 0a7.2 7.2 0 1 0 -14.4 0M797.8 1470a7.2 7.2 0 1 0 14.4 0a7.2 7.2 0 1 0 -14.4 0M792.8 1493.3a7.2 7.2 0 1 0 14.4 0a7.2 7.2 0 1 0 -14.4 0M776.5 1498a7.2 7.2 0 1 0 14.4 0a7.2 7.2 0 1 0 -14.4 0M658.1 1496.3a7.2 7.2 0 1 0 14.4 0a7.2 7.2 0 1 0 -14.4 0M823.1 1530.8a7.2 7.2 0 1 0 14.4 0a7.2 7.2 0 1 0 -14.4 0M457.8 1260a7.2 7.2 0 1 0 14.4 0a7.2 7.2 0 1 0 -14.4 0M467.8 1267.5a7.2 7.2 0 1 0 14.4 0a7.2 7.2 0 1 0 -14.4 0M474.5 1267.5a7.2 7.2 0 1 0 14.4 0a7.2 7.2 0 1 0 -14.4 0M515.3 1264.2a7.2 7.2 0 1 0 14.4 0a7.2 7.2 0 1 0 -14.4 0M524.5 1270.8a7.2 7.2 0 1 0 14.4 0a7.2 7.2 0 1 0 -14.4 0M432.8 1287.5a7.2 7.2 0 1 0 14.4 0a7.2 7.2 0 1 0 -14.4 0M489.5 1293.3a7.2 7.2 0 1 0 14.4 0a7.2 7.2 0 1 0 -14.4 0M512 1289.2a7.2 7.2 0 1 0 14.4 0a7.2 7.2 0 1 0 -14.4 0M503.1 1303.3a7.2 7.2 0 1 0 14.4 0a7.2 7.2 0 1 0 -14.4 0M517.8 1305a7.2 7.2 0 1 0 14.4 0a7.2 7.2 0 1 0 -14.4 0M532 1314.2a7.2 7.2 0 1 0 14.4 0a7.2 7.2 0 1 0 -14.4 0M441.1 1323.3a7.2 7.2 0 1 0 14.4 0a7.2 7.2 0 1 0 -14.4 0M452 1319.2a7.2 7.2 0 1 0 14.4 0a7.2 7.2 0 1 0 -14.4 0M457 1326.7a7.2 7.2 0 1 0 14.4 0a7.2 7.2 0 1 0 -14.4 0M499.5 1329.7a7.2 7.2 0 1 0 14.4 0a7.2 7.2 0 1 0 -14.4 0M564.5 1313.3a7.2 7.2 0 1 0 14.4 0a7.2 7.2 0 1 0 -14.4 0M552.8 1320a7.2 7.2 0 1 0 14.4 0a7.2 7.2 0 1 0 -14.4 0M546.1 1328.3a7.2 7.2 0 1 0 14.4 0a7.2 7.2 0 1 0 -14.4 0M542.8 1335.8a7.2 7.2 0 1 0 14.4 0a7.2 7.2 0 1 0 -14.4 0M552 1337.5a7.2 7.2 0 1 0 14.4 0a7.2 7.2 0 1 0 -14.4 0M576.1 1331.7a7.2 7.2 0 1 0 14.4 0a7.2 7.2 0 1 0 -14.4 0M577.8 1323.3a7.2 7.2 0 1 0 14.4 0a7.2 7.2 0 1 0 -14.4 0M414 1346.7a7.2 7.2 0 1 0 14.4 0a7.2 7.2 0 1 0 -14.4 0M478.1 1346.7a7.2 7.2 0 1 0 14.4 0a7.2 7.2 0 1 0 -14.4 0M538.6 1348.3a7.2 7.2 0 1 0 14.4 0a7.2 7.2 0 1 0 -14.4 0M538.6 1358.3a7.2 7.2 0 1 0 14.4 0a7.2 7.2 0 1 0 -14.4 0M526.1 1359.2a7.2 7.2 0 1 0 14.4 0a7.2 7.2 0 1 0 -14.4 0M513.1 1353a7.2 7.2 0 1 0 14.4 0a7.2 7.2 0 1 0 -14.4 0M531.1 1382.5a7.2 7.2 0 1 0 14.4 0a7.2 7.2 0 1 0 -14.4 0M560 1387.5a7.2 7.2 0 1 0 14.4 0a7.2 7.2 0 1 0 -14.4 0M563.6 1365a7.2 7.2 0 1 0 14.4 0a7.2 7.2 0 1 0 -14.4 0M571.1 1376.7a7.2 7.2 0 1 0 14.4 0a7.2 7.2 0 1 0 -14.4 0M575.3 1356.7a7.2 7.2 0 1 0 14.4 0a7.2 7.2 0 1 0 -14.4 0M584.5 1366.7a7.2 7.2 0 1 0 14.4 0a7.2 7.2 0 1 0 -14.4 0M587.8 1346.7a7.2 7.2 0 1 0 14.4 0a7.2 7.2 0 1 0 -14.4 0M590.3 1356.7a7.2 7.2 0 1 0 14.4 0a7.2 7.2 0 1 0 -14.4 0M597.8 1375.8a7.2 7.2 0 1 0 14.4 0a7.2 7.2 0 1 0 -14.4 0M601.1 1391.7a7.2 7.2 0 1 0 14.4 0a7.2 7.2 0 1 0 -14.4 0M609.5 1388.3a7.2 7.2 0 1 0 14.4 0a7.2 7.2 0 1 0 -14.4 0M615.3 1409.2a7.2 7.2 0 1 0 14.4 0a7.2 7.2 0 1 0 -14.4 0M576.1 1416.7a7.2 7.2 0 1 0 14.4 0a7.2 7.2 0 1 0 -14.4 0M570.3 1430.8a7.2 7.2 0 1 0 14.4 0a7.2 7.2 0 1 0 -14.4 0M571.1 1440.5a7.2 7.2 0 1 0 14.4 0a7.2 7.2 0 1 0 -14.4 0M604.1 1423.3a7.2 7.2 0 1 0 14.4 0a7.2 7.2 0 1 0 -14.4 0M619.1 1432.5a7.2 7.2 0 1 0 14.4 0a7.2 7.2 0 1 0 -14.4 0M635.8 1398a7.2 7.2 0 1 0 14.4 0a7.2 7.2 0 1 0 -14.4 0M636.6 1410.8a7.2 7.2 0 1 0 14.4 0a7.2 7.2 0 1 0 -14.4 0M631.6 1423.3a7.2 7.2 0 1 0 14.4 0a7.2 7.2 0 1 0 -14.4 0M579 1462a7.2 7.2 0 1 0 14.4 0a7.2 7.2 0 1 0 -14.4 0M571.1 1469.7a7.2 7.2 0 1 0 14.4 0a7.2 7.2 0 1 0 -14.4 0M597.8 1482.2a7.2 7.2 0 1 0 14.4 0a7.2 7.2 0 1 0 -14.4 0M581.5 1488.3a7.2 7.2 0 1 0 14.4 0a7.2 7.2 0 1 0 -14.4 0M468.1 1530.5a7.2 7.2 0 1 0 14.4 0a7.2 7.2 0 1 0 -14.4 0M479.5 1424.2a7.2 7.2 0 1 0 14.4 0a7.2 7.2 0 1 0 -14.4 0M642.8 1380a7.2 7.2 0 1 0 14.4 0a7.2 7.2 0 1 0 -14.4 0M651.1 1390a7.2 7.2 0 1 0 14.4 0a7.2 7.2 0 1 0 -14.4 0M659.5 1388.3a7.2 7.2 0 1 0 14.4 0a7.2 7.2 0 1 0 -14.4 0M676.1 1386.7a7.2 7.2 0 1 0 14.4 0a7.2 7.2 0 1 0 -14.4 0M687.8 1388.3a7.2 7.2 0 1 0 14.4 0a7.2 7.2 0 1 0 -14.4 0M609.5 1373.3a7.2 7.2 0 1 0 14.4 0a7.2 7.2 0 1 0 -14.4 0M629.5 1378.3a7.2 7.2 0 1 0 14.4 0a7.2 7.2 0 1 0 -14.4 0M631.7 1423.3a7.2 7.2 0 1 0 14.4 0a7.2 7.2 0 1 0 -14.4 0M656.8 1424.9a7.2 7.2 0 1 0 14.4 0a7.2 7.2 0 1 0 -14.4 0M698.4 1421.1a7.2 7.2 0 1 0 14.4 0a7.2 7.2 0 1 0 -14.4 0M735 1427.8a7.2 7.2 0 1 0 14.4 0a7.2 7.2 0 1 0 -14.4 0M758.4 1421.1a7.2 7.2 0 1 0 14.4 0a7.2 7.2 0 1 0 -14.4 0M800.6 1423.3a7.2 7.2 0 1 0 14.4 0a7.2 7.2 0 1 0 -14.4 0M827.9 1426.2a7.2 7.2 0 1 0 14.4 0a7.2 7.2 0 1 0 -14.4 0M912.4 1421.1a7.2 7.2 0 1 0 14.4 0a7.2 7.2 0 1 0 -14.4 0M711 1448.2a7.2 7.2 0 1 0 14.4 0a7.2 7.2 0 1 0 -14.4 0M795.7 1443.3a7.2 7.2 0 1 0 14.4 0a7.2 7.2 0 1 0 -14.4 0M789 1449.6a7.2 7.2 0 1 0 14.4 0a7.2 7.2 0 1 0 -14.4 0M833.2 1463.3a7.2 7.2 0 1 0 14.4 0a7.2 7.2 0 1 0 -14.4 0M835.5 1474.4a7.2 7.2 0 1 0 14.4 0a7.2 7.2 0 1 0 -14.4 0M858.4 1457.3a7.2 7.2 0 1 0 14.4 0a7.2 7.2 0 1 0 -14.4 0M797.9 1470a7.2 7.2 0 1 0 14.4 0a7.2 7.2 0 1 0 -14.4 0M579 1461.8a7.2 7.2 0 1 0 14.4 0a7.2 7.2 0 1 0 -14.4 0M597.7 1482.2a7.2 7.2 0 1 0 14.4 0a7.2 7.2 0 1 0 -14.4 0M581.2 1488.4a7.2 7.2 0 1 0 14.4 0a7.2 7.2 0 1 0 -14.4 0M658.4 1496.2a7.2 7.2 0 1 0 14.4 0a7.2 7.2 0 1 0 -14.4 0M792.8 1493.3a7.2 7.2 0 1 0 14.4 0a7.2 7.2 0 1 0 -14.4 0M776.6 1497.8a7.2 7.2 0 1 0 14.4 0a7.2 7.2 0 1 0 -14.4 0M823 1530.4a7.2 7.2 0 1 0 14.4 0a7.2 7.2 0 1 0 -14.4 0M750.1 1574a7.2 7.2 0 1 0 14.4 0a7.2 7.2 0 1 0 -14.4 0"/>
<path fill="#000" d="M694.5 146a7.2 7.2 0 1 0 14.4 0a7.2 7.2 0 1 0 -14.4 0M767.8 119.3a7.2 7.2 0 1 0 14.4 0a7.2 7.2 0 1 0 -14.4 0M825.5 107.3a7.2 7.2 0 1 0 14.4 0a7.2 7.2 0 1 0 -14.4 0M859.5 101a7.2 7.2 0 1 0 14.4 0a7.2 7.2 0 1 0 -14.4 0M898.8 376.7a7.2 7.2 0 1 0 14.4 0a7.2 7.2 0 1 0 -14.4 0M656.8 434.3a7.2 7.2 0 1 0 14.4 0a7.2 7.2 0 1 0 -14.4 0M827.1 426.7a7.2 7.2 0 1 0 14.4 0a7.2 7.2 0 1 0 -14.4 0M892.3 502.8a7.2 7.2 0 1 0 14.4 0a7.2 7.2 0 1 0 -14.4 0M804 586.5a7.2 7.2 0 1 0 14.4 0a7.2 7.2 0 1 0 -14.4 0M987 579.2a7.2 7.2 0 1 0 14.4 0a7.2 7.2 0 1 0 -14.4 0M624.1 646.2a7.2 7.2 0 1 0 14.4 0a7.2 7.2 0 1 0 -14.4 0M677 632a7.2 7.2 0 1 0 14.4 0a7.2 7.2 0 1 0 -14.4 0M907.3 613.3a7.2 7.2 0 1 0 14.4 0a7.2 7.2 0 1 0 -14.4 0M912.5 630.5a7.2 7.2 0 1 0 14.4 0a7.2 7.2 0 1 0 -14.4 0M903.8 661.5a7.2 7.2 0 1 0 14.4 0a7.2 7.2 0 1 0 -14.4 0M780.8 683.7a7.2 7.2 0 1 0 14.4 0a7.2 7.2 0 1 0 -14.4 0M787 682a7.2 7.2 0 1 0 14.4 0a7.2 7.2 0 1 0 -14.4 0M811.6 686.7a7.2 7.2 0 1 0 14.4 0a7.2 7.2 0 1 0 -14.4 0M855.8 694.3a7.2 7.2 0 1 0 14.4 0a7.2 7.2 0 1 0 -14.4 0M707 700.8a7.2 7.2 0 1 0 14.4 0a7.2 7.2 0 1 0 -14.4 0M714.5 702.5a7.2 7.2 0 1 0 14.4 0a7.2 7.2 0 1 0 -14.4 0M746.1 731.7a7.2 7.2 0 1 0 14.4 0a7.2 7.2 0 1 0 -14.4 0M906.1 716a7.2 7.2 0 1 0 14.4 0a7.2 7.2 0 1 0 -14.4 0M916.1 725.5a7.2 7.2 0 1 0 14.4 0a7.2 7.2 0 1 0 -14.4 0M935.3 714.6a7.2 7.2 0 1 0 14.4 0a7.2 7.2 0 1 0 -14.4 0M971.6 710a7.2 7.2 0 1 0 14.4 0a7.2 7.2 0 1 0 -14.4 0M908.8 742.3a7.2 7.2 0 1 0 14.4 0a7.2 7.2 0 1 0 -14.4 0M696.1 752.2a7.2 7.2 0 1 0 14.4 0a7.2 7.2 0 1 0 -14.4 0M719.8 759.7a7.2 7.2 0 1 0 14.4 0a7.2 7.2 0 1 0 -14.4 0M668.1 767.5a7.2 7.2 0 1 0 14.4 0a7.2 7.2 0 1 0 -14.4 0M706.1 775.5a7.2 7.2 0 1 0 14.4 0a7.2 7.2 0 1 0 -14.4 0M783.6 759.7a7.2 7.2 0 1 0 14.4 0a7.2 7.2 0 1 0 -14.4 0M776.5 763.3a7.2 7.2 0 1 0 14.4 0a7.2 7.2 0 1 0 -14.4 0M778.6 770a7.2 7.2 0 1 0 14.4 0a7.2 7.2 0 1 0 -14.4 0M772.8 780a7.2 7.2 0 1 0 14.4 0a7.2 7.2 0 1 0 -14.4 0M796.6 780a7.2 7.2 0 1 0 14.4 0a7.2 7.2 0 1 0 -14.4 0M524.8 756.7a7.2 7.2 0 1 0 14.4 0a7.2 7.2 0 1 0 -14.4 0M968.1 773.8a7.2 7.2 0 1 0 14.4 0a7.2 7.2 0 1 0 -14.4 0M1088.6 756.5a7.2 7.2 0 1 0 14.4 0a7.2 7.2 0 1 0 -14.4 0M1120.3 752.1a7.2 7.2 0 1 0 14.4 0a7.2 7.2 0 1 0 -14.4 0M1222.3 755.3a7.2 7.2 0 1 0 14.4 0a7.2 7.2 0 1 0 -14.4 0M1104 773.8a7.2 7.2 0 1 0 14.4 0a7.2 7.2 0 1 0 -14.4 0M1079 793.8a7.2 7.2 0 1 0 14.4 0a7.2 7.2 0 1 0 -14.4 0M1069.5 814.5a7.2 7.2 0 1 0 14.4 0a7.2 7.2 0 1 0 -14.4 0M1037 825.3a7.2 7.2 0 1 0 14.4 0a7.2 7.2 0 1 0 -14.4 0M1029.5 831.7a7.2 7.2 0 1 0 14.4 0a7.2 7.2 0 1 0 -14.4 0M1098 831.5a7.2 7.2 0 1 0 14.4 0a7.2 7.2 0 1 0 -14.4 0M1082.5 835.8a7.2 7.2 0 1 0 14.4 0a7.2 7.2 0 1 0 -14.4 0M1088.6 843.3a7.2 7.2 0 1 0 14.4 0a7.2 7.2 0 1 0 -14.4 0M1144.5 803.6a7.2 7.2 0 1 0 14.4 0a7.2 7.2 0 1 0 -14.4 0M1319.1 817.5a7.2 7.2 0 1 0 14.4 0a7.2 7.2 0 1 0 -14.4 0M1193.1 856.7a7.2 7.2 0 1 0 14.4 0a7.2 7.2 0 1 0 -14.4 0M1044.5 865.5a7.2 7.2 0 1 0 14.4 0a7.2 7.2 0 1 0 -14.4 0M1082.3 864.2a7.2 7.2 0 1 0 14.4 0a7.2 7.2 0 1 0 -14.4 0M1122.8 876.5a7.2 7.2 0 1 0 14.4 0a7.2 7.2 0 1 0 -14.4 0M1130.3 889.2a7.2 7.2 0 1 0 14.4 0a7.2 7.2 0 1 0 -14.4 0M1000.8 875a7.2 7.2 0 1 0 14.4 0a7.2 7.2 0 1 0 -14.4 0M999.1 889.2a7.2 7.2 0 1 0 14.4 0a7.2 7.2 0 1 0 -14.4 0M1006.1 889.2a7.2 7.2 0 1 0 14.4 0a7.2 7.2 0 1 0 -14.4 0M1032 884.2a7.2 7.2 0 1 0 14.4 0a7.2 7.2 0 1 0 -14.4 0M1043.6 896.7a7.2 7.2 0 1 0 14.4 0a7.2 7.2 0 1 0 -14.4 0M1087.5 887.5a7.2 7.2 0 1 0 14.4 0a7.2 7.2 0 1 0 -14.4 0M990.3 908a7.2 7.2 0 1 0 14.4 0a7.2 7.2 0 1 0 -14.4 0M1004.5 913.3a7.2 7.2 0 1 0 14.4 0a7.2 7.2 0 1 0 -14.4 0M1007 920a7.2 7.2 0 1 0 14.4 0a7.2 7.2 0 1 0 -14.4 0M1058.6 910.8a7.2 7.2 0 1 0 14.4 0a7.2 7.2 0 1 0 -14.4 0M1062 917.5a7.2 7.2 0 1 0 14.4 0a7.2 7.2 0 1 0 -14.4 0M1067 929.2a7.2 7.2 0 1 0 14.4 0a7.2 7.2 0 1 0 -14.4 0M1067 941.7a7.2 7.2 0 1 0 14.4 0a7.2 7.2 0 1 0 -14.4 0M1010.8 939.2a7.2 7.2 0 1 0 14.4 0a7.2 7.2 0 1 0 -14.4 0M1127.8 927.8a7.2 7.2 0 1 0 14.4 0a7.2 7.2 0 1 0 -14.4 0M1159.1 909.5a7.2 7.2 0 1 0 14.4 0a7.2 7.2 0 1 0 -14.4 0M1219.8 934.2a7.2 7.2 0 1 0 14.4 0a7.2 7.2 0 1 0 -14.4 0M1098.7 959.3a7.2 7.2 0 1 0 14.4 0a7.2 7.2 0 1 0 -14.4 0M1044.5 963.3a7.2 7.2 0 1 0 14.4 0a7.2 7.2 0 1 0 -14.4 0M1059.5 970a7.2 7.2 0 1 0 14.4 0a7.2 7.2 0 1 0 -14.4 0M1064.5 975.8a7.2 7.2 0 1 0 14.4 0a7.2 7.2 0 1 0 -14.4 0M1032 984.2a7.2 7.2 0 1 0 14.4 0a7.2 7.2 0 1 0 -14.4 0M1024.5 990a7.2 7.2 0 1 0 14.4 0a7.2 7.2 0 1 0 -14.4 0M1052 991.7a7.2 7.2 0 1 0 14.4 0a7.2 7.2 0 1 0 -14.4 0M1098.8 987a7.2 7.2 0 1 0 14.4 0a7.2 7.2 0 1 0 -14.4 0M1697.8 856.3a7.2 7.2 0 1 0 14.4 0a7.2 7.2 0 1 0 -14.4 0M1306.5 978a7.2 7.2 0 1 0 14.4 0a7.2 7.2 0 1 0 -14.4 0M1183 983.6a7.2 7.2 0 1 0 14.4 0a7.2 7.2 0 1 0 -14.4 0M1185.4 990.5a7.2 7.2 0 1 0 14.4 0a7.2 7.2 0 1 0 -14.4 0M1102.8 1012a7.2 7.2 0 1 0 14.4 0a7.2 7.2 0 1 0 -14.4 0M1175.6 1007.5a7.2 7.2 0 1 0 14.4 0a7.2 7.2 0 1 0 -14.4 0M1251.1 1038.7a7.2 7.2 0 1 0 14.4 0a7.2 7.2 0 1 0 -14.4 0M1267.5 1043.3a7.2 7.2 0 1 0 14.4 0a7.2 7.2 0 1 0 -14.4 0M1286.5 1055.5a7.2 7.2 0 1 0 14.4 0a7.2 7.2 0 1 0 -14.4 0M1135.3 1055.5a7.2 7.2 0 1 0 14.4 0a7.2 7.2 0 1 0 -14.4 0M1107.5 1061.7a7.2 7.2 0 1 0 14.4 0a7.2 7.2 0 1 0 -14.4 0M1112.8 1071.3a7.2 7.2 0 1 0 14.4 0a7.2 7.2 0 1 0 -14.4 0M1202 1069.7a7.2 7.2 0 1 0 14.4 0a7.2 7.2 0 1 0 -14.4 0M1141.6 1082.2a7.2 7.2 0 1 0 14.4 0a7.2 7.2 0 1 0 -14.4 0M1324.1 1085.2a7.2 7.2 0 1 0 14.4 0a7.2 7.2 0 1 0 -14.4 0M1159.1 1108.3a7.2 7.2 0 1 0 14.4 0a7.2 7.2 0 1 0 -14.4 0M1155.3 1152.2a7.2 7.2 0 1 0 14.4 0a7.2 7.2 0 1 0 -14.4 0M1149.5 1178.7a7.2 7.2 0 1 0 14.4 0a7.2 7.2 0 1 0 -14.4 0M1136.5 1181.3a7.2 7.2 0 1 0 14.4 0a7.2 7.2 0 1 0 -14.4 0M1130.3 1202a7.2 7.2 0 1 0 14.4 0a7.2 7.2 0 1 0 -14.4 0M1107.6 1225.4a7.2 7.2 0 1 0 14.4 0a7.2 7.2 0 1 0 -14.4 0M1087.5 1247.2a7.2 7.2 0 1 0 14.4 0a7.2 7.2 0 1 0 -14.4 0M1073.6 1252a7.2 7.2 0 1 0 14.4 0a7.2 7.2 0 1 0 -14.4 0M1216.1 1301.7a7.2 7.2 0 1 0 14.4 0a7.2 7.2 0 1 0 -14.4 0M1144.1 1323.3a7.2 7.2 0 1 0 14.4 0a7.2 7.2 0 1 0 -14.4 0M1265 1415.3a7.2 7.2 0 1 0 14.4 0a7.2 7.2 0 1 0 -14.4 0M1002.8 1102.5a7.2 7.2 0 1 0 14.4 0a7.2 7.2 0 1 0 -14.4 0M1015.6 1141.2a7.2 7.2 0 1 0 14.4 0a7.2 7.2 0 1 0 -14.4 0M1081.1 1145.8a7.2 7.2 0 1 0 14.4 0a7.2 7.2 0 1 0 -14.4 0M1035.8 1158.3a7.2 7.2 0 1 0 14.4 0a7.2 7.2 0 1 0 -14.4 0M1066.1 1156.7a7.2 7.2 0 1 0 14.4 0a7.2 7.2 0 1 0 -14.4 0M1017 1176.7a7.2 7.2 0 1 0 14.4 0a7.2 7.2 0 1 0 -14.4 0M1078.6 1177a7.2 7.2 0 1 0 14.4 0a7.2 7.2 0 1 0 -14.4 0M1043.3 1185a7.2 7.2 0 1 0 14.4 0a7.2 7.2 0 1 0 -14.4 0M1044.5 1205a7.2 7.2 0 1 0 14.4 0a7.2 7.2 0 1 0 -14.4 0M999.1 1230a7.2 7.2 0 1 0 14.4 0a7.2 7.2 0 1 0 -14.4 0M1039.5 1235a7.2 7.2 0 1 0 14.4 0a7.2 7.2 0 1 0 -14.4 0M1034.5 1240a7.2 7.2 0 1 0 14.4 0a7.2 7.2 0 1 0 -14.4 0M401.2 1122.7a7.2 7.2 0 1 0 14.4 0a7.2 7.2 0 1 0 -14.4 0M375 1205.1a7.2 7.2 0 1 0 14.4 0a7.2 7.2 0 1 0 -14.4 0M397.9 1217.8a7.2 7.2 0 1 0 14.4 0a7.2 7.2 0 1 0 -14.4 0M365 1236.2a7.2 7.2 0 1 0 14.4 0a7.2 7.2 0 1 0 -14.4 0M260.6 1317.1a7.2 7.2 0 1 0 14.4 0a7.2 7.2 0 1 0 -14.4 0M353.5 1413.3a7.2 7.2 0 1 0 14.4 0a7.2 7.2 0 1 0 -14.4 0M1008.1 1005.8a7.2 7.2 0 1 0 14.4 0a7.2 7.2 0 1 0 -14.4 0M994.2 1029.4a7.2 7.2 0 1 0 14.4 0a7.2 7.2 0 1 0 -14.4 0M990.7 1034.3a7.2 7.2 0 1 0 14.4 0a7.2 7.2 0 1 0 -14.4 0M1007 1041.7a7.2 7.2 0 1 0 14.4 0a7.2 7.2 0 1 0 -14.4 0M1078.9 1019.7a7.2 7.2 0 1 0 14.4 0a7.2 7.2 0 1 0 -14.4 0M1086.3 1016.9a7.2 7.2 0 1 0 14.4 0a7.2 7.2 0 1 0 -14.4 0M1073.4 1041.3a7.2 7.2 0 1 0 14.4 0a7.2 7.2 0 1 0 -14.4 0M1082.4 1038.5a7.2 7.2 0 1 0 14.4 0a7.2 7.2 0 1 0 -14.4 0M1060.9 1049.6a7.2 7.2 0 1 0 14.4 0a7.2 7.2 0 1 0 -14.4 0M1060.9 1054.4a7.2 7.2 0 1 0 14.4 0a7.2 7.2 0 1 0 -14.4 0M1073.4 1055.8a7.2 7.2 0 1 0 14.4 0a7.2 7.2 0 1 0 -14.4 0M1030.7 1060a7.2 7.2 0 1 0 14.4 0a7.2 7.2 0 1 0 -14.4 0M1004.6 1071.1a7.2 7.2 0 1 0 14.4 0a7.2 7.2 0 1 0 -14.4 0M1022 1072.2a7.2 7.2 0 1 0 14.4 0a7.2 7.2 0 1 0 -14.4 0M1020.6 1078.8a7.2 7.2 0 1 0 14.4 0a7.2 7.2 0 1 0 -14.4 0M1042.1 1076a7.2 7.2 0 1 0 14.4 0a7.2 7.2 0 1 0 -14.4 0M1073.4 1077.4a7.2 7.2 0 1 0 14.4 0a7.2 7.2 0 1 0 -14.4 0M1072.7 1082.2a7.2 7.2 0 1 0 14.4 0a7.2 7.2 0 1 0 -14.4 0M1059.5 1086.8a7.2 7.2 0 1 0 14.4 0a7.2 7.2 0 1 0 -14.4 0M997.9 1084.7a7.2 7.2 0 1 0 14.4 0a7.2 7.2 0 1 0 -14.4 0M995.6 1095.8a7.2 7.2 0 1 0 14.4 0a7.2 7.2 0 1 0 -14.4 0M1024.5 1093.1a7.2 7.2 0 1 0 14.4 0a7.2 7.2 0 1 0 -14.4 0"/>
<path fill="#F00" d="M1542 96.5a7.2 7.2 0 1 0 14.4 0a7.2 7.2 0 1 0 -14.4 0M1219.5 279a7.2 7.2 0 1 0 14.4 0a7.2 7.2 0 1 0 -14.4 0M1271.1 406.7a7.2 7.2 0 1 0 14.4 0a7.2 7.2 0 1 0 -14.4 0M1154.1 504.3a7.2 7.2 0 1 0 14.4 0a7.2 7.2 0 1 0 -14.4 0M1111.1 529.5a7.2 7.2 0 1 0 14.4 0a7.2 7.2 0 1 0 -14.4 0M1218.5 556a7.2 7.2 0 1 0 14.4 0a7.2 7.2 0 1 0 -14.4 0M1038.3 571.3a7.2 7.2 0 1 0 14.4 0a7.2 7.2 0 1 0 -14.4 0M1081.1 629.2a7.2 7.2 0 1 0 14.4 0a7.2 7.2 0 1 0 -14.4 0M1097.5 633.7a7.2 7.2 0 1 0 14.4 0a7.2 7.2 0 1 0 -14.4 0M1248.5 635a7.2 7.2 0 1 0 14.4 0a7.2 7.2 0 1 0 -14.4 0M1155.1 649a7.2 7.2 0 1 0 14.4 0a7.2 7.2 0 1 0 -14.4 0M1074.8 658.3a7.2 7.2 0 1 0 14.4 0a7.2 7.2 0 1 0 -14.4 0M1017 669.5a7.2 7.2 0 1 0 14.4 0a7.2 7.2 0 1 0 -14.4 0M1038.3 686.7a7.2 7.2 0 1 0 14.4 0a7.2 7.2 0 1 0 -14.4 0M1034.5 702.2a7.2 7.2 0 1 0 14.4 0a7.2 7.2 0 1 0 -14.4 0M1111.1 748.8a7.2 7.2 0 1 0 14.4 0a7.2 7.2 0 1 0 -14.4 0M991.6 775a7.2 7.2 0 1 0 14.4 0a7.2 7.2 0 1 0 -14.4 0"/>
<path d="M863.3 511L910.8 612.5M675 571.7L681.7 613.3M1063.3 499.7L1050.8 552.5M1245 552.3L1287.3 545M1123.3 628.3L1215 601.7M1274.3 631L1362.3 610M1181.7 651.7L1268.3 665.7M759.2 641.7L778 668.3M843.7 640.8L827.8 670M672 733.3L699.7 711.7M997.5 798.3L992 865M1121.7 789.5L1144.2 821.2M1245.5 935.8L1313.8 944.5M918 1252L988.3 1234.2M960.3 1333.8L1034.2 1249.2M1050.5 1316.7L1072.8 1269.2" stroke="#000" stroke-width="3.9" stroke-linecap="round" fill="none"/>
<g font-size="36.5" fill="#000">
<text x="676.3" y="100">SLFN11</text>
<text x="840.3" y="80">DUS1L</text>
<text x="827.3" y="156">TP53</text>
<text x="631.3" y="193.7">RFK</text>
<text x="1469.1" y="143.1">BAK1</text>
<text x="1205" y="258.3">APAF1</text>
<text x="894.7" y="357">RMI2</text>
<text x="1251.3" y="386.7">CASP9</text>
<text x="541.3" y="412.7">SLC52A2</text>
<text x="725.3" y="464.3">RMI1</text>
<text x="884.7" y="468.7">ENY2</text>
<text x="1147" y="484.3">PLAA</text>
<text x="1008.7" y="493.7">DOHH</text>
<text x="762" y="521.7">BAP1</text>
<text x="964.5" y="551">FAF2</text>
<text x="1119.7" y="551">UBQLN1</text>
<text x="1296" y="558.7">VDAC2</text>
<text x="523.3" y="579">MRPS33</text>
<text x="697" y="577.7">PML</text>
<text x="818.7" y="579.3">FBXO11</text>
<text x="1075.3" y="607.7">CEPT1</text>
<text x="1222" y="614.3">PCBP2</text>
<text x="1367.7" y="622.7">MARCH5</text>
<text x="490.3" y="636">UHRF1</text>
<text x="687.8" y="634.3">THG1L</text>
<text x="801.4" y="634.3">NXT1</text>
<text x="949" y="634.3">NSD1</text>
<text x="1067" y="686">UBE2K</text>
<text x="1273.7" y="679.3">ROMO1</text>
<text x="604.2" y="692.7">ATF7IP</text>
<text x="889.2" y="691">ATP5O</text>
<text x="390.3" y="736">EIF4G1</text>
<text x="544.8" y="748.8">TRMT6</text>
<text x="811.2" y="746">BLM</text>
<text x="1014.2" y="742.7">ATP5B</text>
<text x="1147" y="735.2">MFN1</text>
<text x="1276.7" y="740.2">ALAS1</text>
<text x="942.8" y="755.2">MLST8</text>
<text x="1149.5" y="797.7">HCCS</text>
<text x="1280.8" y="797.7">MAPKAP1</text>
<text x="981.7" y="804.3">ATP5A1</text>
<text x="571.2" y="814.8">TRIP12</text>
<text x="830.3" y="825.2">PPP5C</text>
<text x="1111.3" y="854.3">OPA1</text>
<text x="868.8" y="882.7">CRLS1</text>
<text x="1612.5" y="903.5">EIF4A1</text>
<text x="1224" y="911">TAZ</text>
<text x="1320" y="957.3">RICTOR</text>
<text x="1127" y="967.2">TKT</text>
<text x="1180.3" y="1023.5">LPAR5</text>
<text x="1322.8" y="1025.3">KLF16</text>
<text x="1223.7" y="1117.3">ELP6</text>
<text x="1342" y="1132.5">ELP3</text>
<text x="397.8" y="1102.2">ARL1</text>
<text x="868.3" y="1148.5">LPCAT3</text>
<text x="1182.7" y="1172.7">SYK</text>
<text x="303.2" y="1184.4">FZR1</text>
<text x="423.2" y="1201.1">RANBP1</text>
<text x="926" y="1209.3">SON</text>
<text x="1076.2" y="1228.5">KTI12</text>
<text x="780" y="1265.2">ZNF471</text>
<text x="1232.3" y="1281">TSC2</text>
<text x="281.2" y="1283.3">TSSC1</text>
<text x="939.5" y="1293.5">NCOR1</text>
<text x="1103.7" y="1294">IGLL1</text>
<text x="813.7" y="1348.5">KANSL1</text>
<text x="982" y="1350.2">MOCS3</text>
<text x="240.3" y="1364.9">DDX3X</text>
<text x="1141.2" y="1371">TSC1</text>
<text x="379.9" y="1421.6">KIDINS220</text>
<text x="1246.2" y="1463.5">NPRL3</text>
</g>
<g fill="#333">
<rect x="184.3" y="337.4" width="11.6" height="4.4"/>
<rect x="184.3" y="726.7" width="11.6" height="4.4"/>
<rect x="184.3" y="1115.9" width="11.6" height="4.4"/>
<rect x="184.3" y="1505.1" width="11.6" height="4.4"/>
<rect x="237.7" y="1648" width="4.6" height="11.6"/>
<rect x="741.2" y="1648" width="4.6" height="11.6"/>
<rect x="1244.7" y="1648" width="4.6" height="11.6"/>
<rect x="1748.2" y="1648" width="4.6" height="11.6"/>
</g>
<g font-size="59" fill="#4D4D4D">
<text x="176" y="360.6" text-anchor="end">5.0</text>
<text x="176" y="749.9" text-anchor="end">2.5</text>
<text x="176" y="1139.1" text-anchor="end">0.0</text>
<text x="176" y="1528.3" text-anchor="end">-2.5</text>
<text x="240" y="1711" text-anchor="middle">-4</text>
<text x="743.5" y="1711" text-anchor="middle">0</text>
<text x="1247" y="1711" text-anchor="middle">4</text>
<text x="1750.5" y="1711" text-anchor="middle">8</text>
</g>
<text x="526" y="1767" font-size="46" textLength="920" lengthAdjust="spacingAndGlyphs">Hippuristanol 0.12uM exp489 CRANKS score</text>
<text transform="translate(54.6 1289.8) rotate(-90)" font-size="46" textLength="908.5" lengthAdjust="spacingAndGlyphs">Mitomycin C 0.06uM exp503 CRANKS score</text>
</svg></body></html>
